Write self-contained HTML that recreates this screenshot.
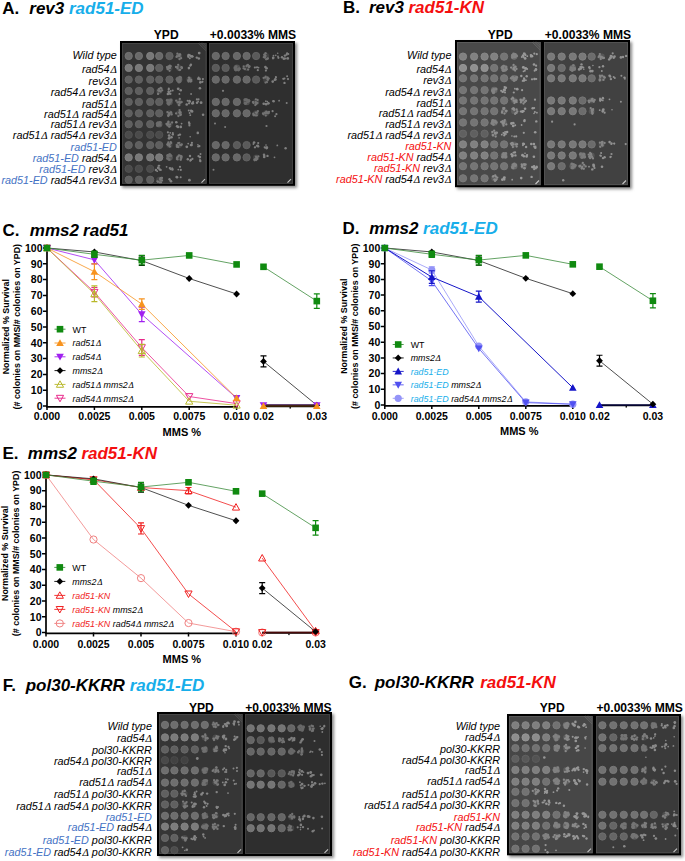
<!DOCTYPE html>
<html><head><meta charset="utf-8"><style>
html,body{margin:0;padding:0;background:#fff;}
body{width:685px;height:861px;overflow:hidden;}
svg{display:block;font-family:"Liberation Sans", sans-serif;}
</style></head><body>
<svg width="685" height="861" viewBox="0 0 685 861">
<defs><filter id="sh" x="-5%" y="-5%" width="110%" height="110%"><feGaussianBlur stdDeviation="1.4"/></filter><filter id="bl" x="-5%" y="-5%" width="110%" height="110%"><feGaussianBlur stdDeviation="0.5"/></filter></defs>
<rect width="685" height="861" fill="#fff"/>
<text x="2.20" y="14.20" font-size="17" font-weight="bold" text-anchor="start" ><tspan fill="#000" font-style="normal">A.</tspan></text>
<text x="29.30" y="14.20" font-size="17" font-weight="bold" text-anchor="start" ><tspan fill="#000" font-style="italic">rev3</tspan></text>
<text x="69.00" y="14.20" font-size="17" font-weight="bold" text-anchor="start" ><tspan fill="#17aeea" font-style="italic">rad51-ED</tspan></text>
<text x="166.20" y="38.90" font-size="12.1" font-weight="bold" text-anchor="middle" ><tspan fill="#000" font-style="normal">YPD</tspan></text>
<text x="253.00" y="39.40" font-size="12.1" font-weight="bold" text-anchor="middle" ><tspan fill="#000" font-style="normal">+0.0033% MMS</tspan></text>
<rect x="122" y="43" width="175" height="144.8" fill="#888" filter="url(#sh)"/>
<rect x="120" y="41" width="175" height="144.8" fill="#000"/>
<rect x="122" y="43" width="85" height="140.8" fill="#333333"/>
<rect x="209" y="43" width="84" height="140.8" fill="#2f2f2f"/>
<rect x="122.5" y="43.5" width="83.5" height="139.8" fill="none" stroke="#494949" stroke-width="0.8"/>
<rect x="209.5" y="43.5" width="83" height="139.8" fill="none" stroke="#454545" stroke-width="0.8"/>
<g filter="url(#bl)">
<circle cx="128.7" cy="56.0" r="3.6499999999999995" fill="#6b6b6b" stroke="#747474" stroke-width="0.9"/>
<circle cx="138.9" cy="56.0" r="3.6499999999999995" fill="#6b6b6b" stroke="#747474" stroke-width="0.9"/>
<circle cx="150.2" cy="56.0" r="3.6499999999999995" fill="#797979" stroke="#828282" stroke-width="0.9"/>
<circle cx="159.2" cy="56.0" r="3.6499999999999995" fill="#6b6b6b" stroke="#747474" stroke-width="0.9"/>
<circle cx="169.5" cy="56.0" r="3.6499999999999995" fill="#5e5e5e" stroke="#676767" stroke-width="0.9"/>
<circle cx="179.1" cy="56.0" r="3.0" fill="#474747"/><circle cx="181.1" cy="58.2" r="1.15" fill="#777777"/><circle cx="179.2" cy="54.6" r="1.15" fill="#777777"/><circle cx="177.1" cy="56.1" r="1.15" fill="#777777"/><circle cx="177.4" cy="53.7" r="1.15" fill="#777777"/><circle cx="179.4" cy="56.2" r="1.15" fill="#777777"/><circle cx="180.1" cy="54.3" r="1.15" fill="#777777"/><circle cx="179.1" cy="55.9" r="1.15" fill="#777777"/><circle cx="176.5" cy="56.9" r="1.15" fill="#777777"/><circle cx="179.5" cy="59.2" r="1.15" fill="#777777"/><circle cx="179.4" cy="55.8" r="1.15" fill="#777777"/>
<circle cx="191.8" cy="56.4" r="1.4" fill="#838383"/><circle cx="188.4" cy="56.9" r="1.1" fill="#838383"/><circle cx="190.7" cy="56.2" r="1.1" fill="#838383"/><circle cx="188.0" cy="56.0" r="0.9" fill="#838383"/><circle cx="189.8" cy="58.2" r="1.0" fill="#838383"/><circle cx="192.7" cy="56.5" r="1.1" fill="#838383"/><circle cx="188.7" cy="55.1" r="1.4" fill="#838383"/><circle cx="190.0" cy="55.3" r="1.0" fill="#838383"/>
<circle cx="199.2" cy="53.1" r="1.4" fill="#838383"/><circle cx="196.8" cy="57.6" r="1.2" fill="#838383"/><circle cx="198.8" cy="58.5" r="1.3" fill="#838383"/>
<circle cx="128.7" cy="67.9" r="3.6499999999999995" fill="#797979" stroke="#828282" stroke-width="0.9"/>
<circle cx="138.9" cy="67.9" r="3.6499999999999995" fill="#797979" stroke="#828282" stroke-width="0.9"/>
<circle cx="150.2" cy="67.9" r="3.6499999999999995" fill="#797979" stroke="#828282" stroke-width="0.9"/>
<circle cx="159.2" cy="67.9" r="3.6499999999999995" fill="#5e5e5e" stroke="#676767" stroke-width="0.9"/>
<circle cx="169.5" cy="67.9" r="3.0" fill="#474747"/><circle cx="170.7" cy="66.1" r="1.15" fill="#777777"/><circle cx="169.1" cy="67.7" r="1.15" fill="#777777"/><circle cx="169.6" cy="70.8" r="1.15" fill="#777777"/><circle cx="168.5" cy="68.5" r="1.15" fill="#777777"/><circle cx="167.0" cy="67.1" r="1.15" fill="#777777"/><circle cx="168.7" cy="66.3" r="1.15" fill="#777777"/><circle cx="167.5" cy="68.7" r="1.15" fill="#777777"/><circle cx="169.9" cy="65.7" r="1.15" fill="#777777"/><circle cx="167.8" cy="69.2" r="1.15" fill="#777777"/><circle cx="170.0" cy="68.0" r="1.15" fill="#777777"/>
<circle cx="179.1" cy="67.9" r="3.0" fill="#474747"/><circle cx="178.2" cy="64.8" r="1.15" fill="#777777"/><circle cx="177.5" cy="66.9" r="1.15" fill="#777777"/><circle cx="180.1" cy="69.8" r="1.15" fill="#777777"/><circle cx="181.9" cy="67.6" r="1.15" fill="#777777"/><circle cx="176.2" cy="67.2" r="1.15" fill="#777777"/><circle cx="179.3" cy="70.1" r="1.15" fill="#777777"/><circle cx="181.4" cy="67.2" r="1.15" fill="#777777"/><circle cx="177.6" cy="68.3" r="1.15" fill="#777777"/><circle cx="176.0" cy="66.9" r="1.15" fill="#777777"/><circle cx="181.9" cy="68.0" r="1.15" fill="#777777"/>
<circle cx="190.9" cy="64.7" r="1.2" fill="#838383"/><circle cx="190.3" cy="65.7" r="1.1" fill="#838383"/><circle cx="188.9" cy="68.1" r="1.3" fill="#838383"/>
<circle cx="128.7" cy="79.6" r="3.6499999999999995" fill="#5e5e5e" stroke="#676767" stroke-width="0.9"/>
<circle cx="138.9" cy="79.6" r="3.6499999999999995" fill="#5e5e5e" stroke="#676767" stroke-width="0.9"/>
<circle cx="150.2" cy="79.6" r="3.6499999999999995" fill="#5e5e5e" stroke="#676767" stroke-width="0.9"/>
<circle cx="159.2" cy="79.6" r="3.6499999999999995" fill="#5e5e5e" stroke="#676767" stroke-width="0.9"/>
<circle cx="169.5" cy="79.6" r="3.6499999999999995" fill="#5e5e5e" stroke="#676767" stroke-width="0.9"/>
<circle cx="179.1" cy="79.6" r="3.3" fill="#555555"/><circle cx="178.0" cy="79.1" r="1.4" fill="#6d6d6d"/><circle cx="177.2" cy="79.5" r="1.4" fill="#6d6d6d"/><circle cx="178.1" cy="80.9" r="1.4" fill="#6d6d6d"/><circle cx="177.0" cy="79.1" r="1.4" fill="#6d6d6d"/><circle cx="177.7" cy="78.4" r="1.4" fill="#6d6d6d"/><circle cx="180.4" cy="79.8" r="1.4" fill="#6d6d6d"/><circle cx="180.0" cy="81.5" r="1.4" fill="#6d6d6d"/><circle cx="180.7" cy="77.7" r="1.4" fill="#6d6d6d"/><circle cx="179.8" cy="77.2" r="1.4" fill="#6d6d6d"/><circle cx="179.0" cy="82.2" r="1.4" fill="#6d6d6d"/><circle cx="178.7" cy="78.9" r="1.4" fill="#6d6d6d"/>
<circle cx="189.4" cy="79.6" r="3.0" fill="#474747"/><circle cx="189.7" cy="79.6" r="1.15" fill="#777777"/><circle cx="189.5" cy="78.2" r="1.15" fill="#777777"/><circle cx="191.3" cy="81.2" r="1.15" fill="#777777"/><circle cx="189.0" cy="80.2" r="1.15" fill="#777777"/><circle cx="190.6" cy="81.5" r="1.15" fill="#777777"/><circle cx="190.1" cy="80.9" r="1.15" fill="#777777"/><circle cx="188.9" cy="77.6" r="1.15" fill="#777777"/><circle cx="188.5" cy="81.5" r="1.15" fill="#777777"/><circle cx="191.2" cy="79.9" r="1.15" fill="#777777"/><circle cx="188.3" cy="80.2" r="1.15" fill="#777777"/>
<circle cx="202.4" cy="81.8" r="1.1" fill="#838383"/><circle cx="200.4" cy="82.2" r="1.3" fill="#838383"/><circle cx="199.9" cy="79.6" r="0.9" fill="#838383"/><circle cx="199.5" cy="78.6" r="1.2" fill="#838383"/><circle cx="198.6" cy="77.4" r="0.9" fill="#838383"/><circle cx="202.9" cy="79.1" r="1.1" fill="#838383"/><circle cx="200.2" cy="82.4" r="1.0" fill="#838383"/><circle cx="198.2" cy="78.8" r="1.2" fill="#838383"/>
<circle cx="128.7" cy="90.9" r="3.6499999999999995" fill="#5e5e5e" stroke="#676767" stroke-width="0.9"/>
<circle cx="138.9" cy="90.9" r="3.6499999999999995" fill="#5e5e5e" stroke="#676767" stroke-width="0.9"/>
<circle cx="150.2" cy="90.9" r="3.6499999999999995" fill="#5e5e5e" stroke="#676767" stroke-width="0.9"/>
<circle cx="159.2" cy="90.9" r="3.0" fill="#474747"/><circle cx="160.7" cy="91.5" r="1.15" fill="#777777"/><circle cx="162.2" cy="90.3" r="1.15" fill="#777777"/><circle cx="158.2" cy="93.7" r="1.15" fill="#777777"/><circle cx="158.0" cy="93.9" r="1.15" fill="#777777"/><circle cx="159.1" cy="89.0" r="1.15" fill="#777777"/><circle cx="159.2" cy="91.1" r="1.15" fill="#777777"/><circle cx="159.5" cy="90.6" r="1.15" fill="#777777"/><circle cx="160.6" cy="88.0" r="1.15" fill="#777777"/><circle cx="158.2" cy="90.4" r="1.15" fill="#777777"/><circle cx="161.4" cy="88.5" r="1.15" fill="#777777"/>
<circle cx="168.8" cy="88.6" r="1.0" fill="#838383"/><circle cx="168.8" cy="91.9" r="1.2" fill="#838383"/><circle cx="168.4" cy="91.4" r="0.9" fill="#838383"/><circle cx="168.7" cy="89.5" r="1.1" fill="#838383"/><circle cx="167.9" cy="94.0" r="1.3" fill="#838383"/><circle cx="170.7" cy="91.0" r="1.0" fill="#838383"/><circle cx="172.7" cy="90.6" r="1.0" fill="#838383"/><circle cx="170.2" cy="93.7" r="1.3" fill="#838383"/>
<circle cx="180.7" cy="90.2" r="1.3" fill="#838383"/><circle cx="178.2" cy="88.8" r="1.4" fill="#838383"/><circle cx="179.4" cy="93.9" r="0.9" fill="#838383"/>
<circle cx="191.1" cy="94.0" r="0.9" fill="#838383"/>
<circle cx="199.9" cy="88.2" r="1.3" fill="#838383"/>
<circle cx="128.7" cy="101.9" r="3.6499999999999995" fill="#5e5e5e" stroke="#676767" stroke-width="0.9"/>
<circle cx="138.9" cy="101.9" r="3.6499999999999995" fill="#5e5e5e" stroke="#676767" stroke-width="0.9"/>
<circle cx="150.2" cy="101.9" r="3.6499999999999995" fill="#5e5e5e" stroke="#676767" stroke-width="0.9"/>
<circle cx="159.2" cy="101.9" r="3.6499999999999995" fill="#5e5e5e" stroke="#676767" stroke-width="0.9"/>
<circle cx="169.5" cy="101.9" r="3.3" fill="#555555"/><circle cx="168.4" cy="103.1" r="1.4" fill="#6d6d6d"/><circle cx="168.8" cy="104.4" r="1.4" fill="#6d6d6d"/><circle cx="167.3" cy="100.2" r="1.4" fill="#6d6d6d"/><circle cx="170.3" cy="101.2" r="1.4" fill="#6d6d6d"/><circle cx="168.6" cy="101.6" r="1.4" fill="#6d6d6d"/><circle cx="170.2" cy="102.1" r="1.4" fill="#6d6d6d"/><circle cx="171.2" cy="100.0" r="1.4" fill="#6d6d6d"/><circle cx="170.3" cy="100.5" r="1.4" fill="#6d6d6d"/><circle cx="167.6" cy="100.3" r="1.4" fill="#6d6d6d"/><circle cx="168.0" cy="103.4" r="1.4" fill="#6d6d6d"/><circle cx="169.6" cy="102.7" r="1.4" fill="#6d6d6d"/>
<circle cx="179.1" cy="101.9" r="3.0" fill="#474747"/><circle cx="178.8" cy="105.0" r="1.15" fill="#777777"/><circle cx="176.2" cy="100.7" r="1.15" fill="#777777"/><circle cx="177.6" cy="102.3" r="1.15" fill="#777777"/><circle cx="179.8" cy="99.0" r="1.15" fill="#777777"/><circle cx="181.7" cy="102.1" r="1.15" fill="#777777"/><circle cx="179.9" cy="102.4" r="1.15" fill="#777777"/><circle cx="179.5" cy="101.6" r="1.15" fill="#777777"/><circle cx="179.3" cy="105.2" r="1.15" fill="#777777"/><circle cx="178.3" cy="102.3" r="1.15" fill="#777777"/><circle cx="179.8" cy="103.1" r="1.15" fill="#777777"/>
<circle cx="189.4" cy="101.1" r="1.3" fill="#838383"/><circle cx="186.7" cy="104.5" r="1.3" fill="#838383"/><circle cx="189.0" cy="103.3" r="1.1" fill="#838383"/><circle cx="191.7" cy="103.6" r="0.8" fill="#838383"/><circle cx="193.1" cy="102.1" r="1.0" fill="#838383"/><circle cx="187.6" cy="100.7" r="1.0" fill="#838383"/><circle cx="192.7" cy="103.3" r="1.4" fill="#838383"/><circle cx="190.2" cy="101.7" r="0.9" fill="#838383"/>
<circle cx="196.9" cy="99.4" r="1.1" fill="#838383"/><circle cx="198.6" cy="99.3" r="1.0" fill="#838383"/><circle cx="198.1" cy="101.5" r="0.9" fill="#838383"/><circle cx="201.1" cy="102.7" r="1.4" fill="#838383"/><circle cx="197.0" cy="102.8" r="1.2" fill="#838383"/>
<circle cx="128.7" cy="113.3" r="3.6499999999999995" fill="#5e5e5e" stroke="#676767" stroke-width="0.9"/>
<circle cx="138.9" cy="113.3" r="3.6499999999999995" fill="#5e5e5e" stroke="#676767" stroke-width="0.9"/>
<circle cx="150.2" cy="113.3" r="3.6499999999999995" fill="#5e5e5e" stroke="#676767" stroke-width="0.9"/>
<circle cx="159.2" cy="113.3" r="3.6499999999999995" fill="#5e5e5e" stroke="#676767" stroke-width="0.9"/>
<circle cx="169.5" cy="113.3" r="3.0" fill="#474747"/><circle cx="171.2" cy="112.6" r="1.15" fill="#777777"/><circle cx="168.9" cy="114.9" r="1.15" fill="#777777"/><circle cx="168.3" cy="116.0" r="1.15" fill="#777777"/><circle cx="170.8" cy="112.3" r="1.15" fill="#777777"/><circle cx="168.3" cy="115.3" r="1.15" fill="#777777"/><circle cx="167.4" cy="112.1" r="1.15" fill="#777777"/><circle cx="169.5" cy="113.6" r="1.15" fill="#777777"/><circle cx="169.5" cy="114.0" r="1.15" fill="#777777"/><circle cx="168.9" cy="113.1" r="1.15" fill="#777777"/><circle cx="171.7" cy="114.4" r="1.15" fill="#777777"/>
<circle cx="179.1" cy="113.3" r="3.0" fill="#474747"/><circle cx="178.4" cy="116.1" r="1.15" fill="#777777"/><circle cx="176.1" cy="113.4" r="1.15" fill="#777777"/><circle cx="180.3" cy="115.1" r="1.15" fill="#777777"/><circle cx="179.3" cy="112.6" r="1.15" fill="#777777"/><circle cx="180.2" cy="112.9" r="1.15" fill="#777777"/><circle cx="179.6" cy="110.1" r="1.15" fill="#777777"/><circle cx="179.8" cy="111.8" r="1.15" fill="#777777"/><circle cx="180.8" cy="114.7" r="1.15" fill="#777777"/><circle cx="180.5" cy="112.5" r="1.15" fill="#777777"/><circle cx="179.9" cy="112.7" r="1.15" fill="#777777"/>
<circle cx="189.7" cy="113.1" r="1.0" fill="#838383"/><circle cx="192.1" cy="111.4" r="1.3" fill="#838383"/><circle cx="191.1" cy="110.7" r="1.2" fill="#838383"/><circle cx="190.3" cy="115.2" r="0.9" fill="#838383"/><circle cx="188.8" cy="110.5" r="1.0" fill="#838383"/>
<circle cx="203.1" cy="114.8" r="1.3" fill="#838383"/>
<circle cx="128.7" cy="124.2" r="3.6499999999999995" fill="#5e5e5e" stroke="#676767" stroke-width="0.9"/>
<circle cx="138.9" cy="124.2" r="3.6499999999999995" fill="#5e5e5e" stroke="#676767" stroke-width="0.9"/>
<circle cx="150.2" cy="124.2" r="3.6499999999999995" fill="#5e5e5e" stroke="#676767" stroke-width="0.9"/>
<circle cx="159.2" cy="124.2" r="3.3" fill="#555555"/><circle cx="157.2" cy="123.6" r="1.4" fill="#6d6d6d"/><circle cx="160.3" cy="122.7" r="1.4" fill="#6d6d6d"/><circle cx="157.9" cy="125.2" r="1.4" fill="#6d6d6d"/><circle cx="159.2" cy="124.6" r="1.4" fill="#6d6d6d"/><circle cx="158.1" cy="122.8" r="1.4" fill="#6d6d6d"/><circle cx="158.6" cy="123.9" r="1.4" fill="#6d6d6d"/><circle cx="158.6" cy="125.0" r="1.4" fill="#6d6d6d"/><circle cx="160.2" cy="125.2" r="1.4" fill="#6d6d6d"/><circle cx="160.0" cy="122.6" r="1.4" fill="#6d6d6d"/><circle cx="157.4" cy="125.5" r="1.4" fill="#6d6d6d"/><circle cx="159.2" cy="124.4" r="1.4" fill="#6d6d6d"/>
<circle cx="169.5" cy="124.2" r="3.0" fill="#474747"/><circle cx="167.4" cy="123.8" r="1.15" fill="#777777"/><circle cx="168.3" cy="122.6" r="1.15" fill="#777777"/><circle cx="168.4" cy="121.7" r="1.15" fill="#777777"/><circle cx="169.7" cy="126.4" r="1.15" fill="#777777"/><circle cx="168.2" cy="124.4" r="1.15" fill="#777777"/><circle cx="167.5" cy="125.4" r="1.15" fill="#777777"/><circle cx="172.1" cy="122.5" r="1.15" fill="#777777"/><circle cx="169.1" cy="126.7" r="1.15" fill="#777777"/><circle cx="170.1" cy="124.4" r="1.15" fill="#777777"/><circle cx="166.5" cy="124.0" r="1.15" fill="#777777"/>
<circle cx="180.8" cy="126.9" r="1.3" fill="#838383"/><circle cx="178.0" cy="126.9" r="1.3" fill="#838383"/><circle cx="177.0" cy="126.3" r="1.2" fill="#838383"/><circle cx="176.3" cy="122.3" r="1.3" fill="#838383"/><circle cx="181.6" cy="123.6" r="0.9" fill="#838383"/>
<circle cx="189.4" cy="125.5" r="1.1" fill="#838383"/><circle cx="189.4" cy="123.7" r="1.2" fill="#838383"/><circle cx="189.0" cy="122.4" r="1.1" fill="#838383"/>
<circle cx="128.7" cy="134.8" r="3.6499999999999995" fill="#4b4b4b" stroke="#545454" stroke-width="0.9"/>
<circle cx="138.9" cy="134.8" r="3.6499999999999995" fill="#4b4b4b" stroke="#545454" stroke-width="0.9"/>
<circle cx="150.2" cy="134.8" r="3.6499999999999995" fill="#4b4b4b" stroke="#545454" stroke-width="0.9"/>
<circle cx="159.2" cy="134.8" r="3.6499999999999995" fill="#4b4b4b" stroke="#545454" stroke-width="0.9"/>
<circle cx="171.1" cy="137.4" r="0.8" fill="#838383"/><circle cx="172.8" cy="134.4" r="1.2" fill="#838383"/><circle cx="169.1" cy="138.3" r="1.4" fill="#838383"/><circle cx="171.5" cy="137.2" r="1.3" fill="#838383"/><circle cx="167.9" cy="132.3" r="1.1" fill="#838383"/><circle cx="172.8" cy="133.1" r="1.0" fill="#838383"/><circle cx="170.2" cy="132.8" r="0.9" fill="#838383"/><circle cx="169.1" cy="135.6" r="1.3" fill="#838383"/>
<circle cx="179.9" cy="134.6" r="1.2" fill="#838383"/><circle cx="178.4" cy="135.3" r="1.0" fill="#838383"/><circle cx="179.1" cy="137.9" r="0.8" fill="#838383"/>
<circle cx="190.2" cy="136.8" r="0.8" fill="#838383"/>
<circle cx="197.8" cy="132.9" r="1.3" fill="#838383"/>
<circle cx="128.7" cy="145.1" r="3.6499999999999995" fill="#5e5e5e" stroke="#676767" stroke-width="0.9"/>
<circle cx="138.9" cy="145.1" r="3.6499999999999995" fill="#5e5e5e" stroke="#676767" stroke-width="0.9"/>
<circle cx="150.2" cy="145.1" r="3.6499999999999995" fill="#5e5e5e" stroke="#676767" stroke-width="0.9"/>
<circle cx="159.2" cy="145.1" r="3.6499999999999995" fill="#5e5e5e" stroke="#676767" stroke-width="0.9"/>
<circle cx="169.5" cy="145.1" r="3.0" fill="#474747"/><circle cx="169.9" cy="146.6" r="1.15" fill="#777777"/><circle cx="168.0" cy="144.7" r="1.15" fill="#777777"/><circle cx="168.3" cy="144.4" r="1.15" fill="#777777"/><circle cx="168.3" cy="142.5" r="1.15" fill="#777777"/><circle cx="170.7" cy="142.1" r="1.15" fill="#777777"/><circle cx="167.4" cy="144.5" r="1.15" fill="#777777"/><circle cx="171.2" cy="142.9" r="1.15" fill="#777777"/><circle cx="167.8" cy="144.3" r="1.15" fill="#777777"/><circle cx="169.3" cy="145.9" r="1.15" fill="#777777"/><circle cx="169.8" cy="144.2" r="1.15" fill="#777777"/>
<circle cx="179.1" cy="145.1" r="3.0" fill="#474747"/><circle cx="179.1" cy="142.8" r="1.15" fill="#777777"/><circle cx="181.8" cy="144.5" r="1.15" fill="#777777"/><circle cx="180.1" cy="144.9" r="1.15" fill="#777777"/><circle cx="176.7" cy="145.1" r="1.15" fill="#777777"/><circle cx="178.3" cy="147.1" r="1.15" fill="#777777"/><circle cx="177.7" cy="146.9" r="1.15" fill="#777777"/><circle cx="181.1" cy="145.1" r="1.15" fill="#777777"/><circle cx="177.6" cy="145.6" r="1.15" fill="#777777"/><circle cx="176.8" cy="146.8" r="1.15" fill="#777777"/><circle cx="178.2" cy="143.1" r="1.15" fill="#777777"/>
<circle cx="188.2" cy="143.6" r="0.9" fill="#838383"/><circle cx="190.9" cy="145.1" r="1.2" fill="#838383"/><circle cx="191.9" cy="142.8" r="1.1" fill="#838383"/><circle cx="191.6" cy="144.9" r="1.3" fill="#838383"/><circle cx="186.8" cy="146.8" r="1.4" fill="#838383"/>
<circle cx="199.3" cy="146.1" r="1.2" fill="#838383"/><circle cx="197.9" cy="144.7" r="0.8" fill="#838383"/><circle cx="198.1" cy="146.4" r="1.0" fill="#838383"/>
<circle cx="128.7" cy="157.4" r="3.6499999999999995" fill="#797979" stroke="#828282" stroke-width="0.9"/>
<circle cx="138.9" cy="157.4" r="3.6499999999999995" fill="#797979" stroke="#828282" stroke-width="0.9"/>
<circle cx="150.2" cy="157.4" r="3.6499999999999995" fill="#797979" stroke="#828282" stroke-width="0.9"/>
<circle cx="159.2" cy="157.4" r="3.6499999999999995" fill="#797979" stroke="#828282" stroke-width="0.9"/>
<circle cx="169.5" cy="157.4" r="3.3" fill="#555555"/><circle cx="170.9" cy="155.8" r="1.4" fill="#6d6d6d"/><circle cx="169.2" cy="154.8" r="1.4" fill="#6d6d6d"/><circle cx="169.5" cy="155.4" r="1.4" fill="#6d6d6d"/><circle cx="169.4" cy="155.2" r="1.4" fill="#6d6d6d"/><circle cx="168.2" cy="155.6" r="1.4" fill="#6d6d6d"/><circle cx="167.6" cy="158.6" r="1.4" fill="#6d6d6d"/><circle cx="167.7" cy="155.4" r="1.4" fill="#6d6d6d"/><circle cx="170.0" cy="154.9" r="1.4" fill="#6d6d6d"/><circle cx="169.8" cy="154.9" r="1.4" fill="#6d6d6d"/><circle cx="168.2" cy="156.4" r="1.4" fill="#6d6d6d"/><circle cx="169.3" cy="159.7" r="1.4" fill="#6d6d6d"/>
<circle cx="179.1" cy="157.4" r="3.0" fill="#474747"/><circle cx="180.7" cy="155.8" r="1.15" fill="#777777"/><circle cx="180.8" cy="159.8" r="1.15" fill="#777777"/><circle cx="177.0" cy="157.6" r="1.15" fill="#777777"/><circle cx="181.2" cy="158.0" r="1.15" fill="#777777"/><circle cx="179.0" cy="155.4" r="1.15" fill="#777777"/><circle cx="177.5" cy="159.4" r="1.15" fill="#777777"/><circle cx="181.3" cy="157.7" r="1.15" fill="#777777"/><circle cx="181.6" cy="156.5" r="1.15" fill="#777777"/><circle cx="176.9" cy="158.9" r="1.15" fill="#777777"/><circle cx="178.1" cy="156.6" r="1.15" fill="#777777"/>
<circle cx="190.3" cy="160.8" r="1.0" fill="#838383"/><circle cx="192.4" cy="158.9" r="1.1" fill="#838383"/><circle cx="187.8" cy="159.2" r="1.2" fill="#838383"/><circle cx="190.8" cy="159.9" r="1.2" fill="#838383"/><circle cx="190.0" cy="156.0" r="1.2" fill="#838383"/>
<circle cx="200.0" cy="159.9" r="0.9" fill="#838383"/><circle cx="200.5" cy="154.1" r="1.0" fill="#838383"/><circle cx="200.3" cy="161.0" r="1.2" fill="#838383"/><circle cx="199.9" cy="157.1" r="1.3" fill="#838383"/><circle cx="198.5" cy="156.2" r="1.1" fill="#838383"/>
<circle cx="128.7" cy="168.8" r="3.6499999999999995" fill="#4b4b4b" stroke="#545454" stroke-width="0.9"/>
<circle cx="138.9" cy="168.8" r="3.6499999999999995" fill="#4b4b4b" stroke="#545454" stroke-width="0.9"/>
<circle cx="150.2" cy="168.8" r="3.6499999999999995" fill="#4b4b4b" stroke="#545454" stroke-width="0.9"/>
<circle cx="159.4" cy="165.6" r="0.9" fill="#838383"/><circle cx="158.4" cy="168.0" r="1.4" fill="#838383"/><circle cx="155.9" cy="170.0" r="1.2" fill="#838383"/><circle cx="158.0" cy="167.9" r="1.1" fill="#838383"/><circle cx="159.8" cy="169.5" r="1.2" fill="#838383"/><circle cx="157.2" cy="171.2" r="0.9" fill="#838383"/><circle cx="158.6" cy="165.8" r="1.0" fill="#838383"/><circle cx="160.8" cy="170.0" r="1.1" fill="#838383"/>
<circle cx="170.4" cy="169.5" r="0.8" fill="#838383"/><circle cx="166.6" cy="166.8" r="0.9" fill="#838383"/><circle cx="172.4" cy="169.4" r="1.3" fill="#838383"/><circle cx="172.1" cy="168.2" r="1.0" fill="#838383"/><circle cx="169.9" cy="168.1" r="1.2" fill="#838383"/>
<circle cx="180.8" cy="169.9" r="1.1" fill="#838383"/><circle cx="178.3" cy="169.6" r="0.9" fill="#838383"/><circle cx="180.0" cy="166.8" r="1.1" fill="#838383"/>
<circle cx="128.7" cy="179.7" r="3.6499999999999995" fill="#5e5e5e" stroke="#676767" stroke-width="0.9"/>
<circle cx="138.9" cy="179.7" r="3.6499999999999995" fill="#5e5e5e" stroke="#676767" stroke-width="0.9"/>
<circle cx="150.2" cy="179.7" r="3.6499999999999995" fill="#5e5e5e" stroke="#676767" stroke-width="0.9"/>
<circle cx="159.2" cy="179.7" r="3.0" fill="#474747"/><circle cx="159.8" cy="182.3" r="1.15" fill="#777777"/><circle cx="158.0" cy="181.8" r="1.15" fill="#777777"/><circle cx="162.0" cy="177.9" r="1.15" fill="#777777"/><circle cx="162.0" cy="180.5" r="1.15" fill="#777777"/><circle cx="160.2" cy="178.4" r="1.15" fill="#777777"/><circle cx="157.4" cy="181.3" r="1.15" fill="#777777"/><circle cx="160.9" cy="178.8" r="1.15" fill="#777777"/><circle cx="161.2" cy="177.8" r="1.15" fill="#777777"/><circle cx="161.0" cy="182.3" r="1.15" fill="#777777"/><circle cx="160.2" cy="179.8" r="1.15" fill="#777777"/>
<circle cx="169.2" cy="179.3" r="1.0" fill="#838383"/><circle cx="171.0" cy="181.3" r="1.3" fill="#838383"/><circle cx="169.8" cy="179.5" r="0.8" fill="#838383"/><circle cx="169.7" cy="179.3" r="1.0" fill="#838383"/><circle cx="170.0" cy="180.2" r="0.8" fill="#838383"/>
<circle cx="177.1" cy="177.3" r="1.2" fill="#838383"/><circle cx="180.7" cy="177.3" r="1.0" fill="#838383"/><circle cx="176.6" cy="177.0" r="1.2" fill="#838383"/>
<circle cx="189.4" cy="180.2" r="1.4" fill="#838383"/>
<circle cx="215.8" cy="56.0" r="3.6499999999999995" fill="#676767" stroke="#707070" stroke-width="0.9"/>
<circle cx="225.6" cy="56.0" r="3.6499999999999995" fill="#676767" stroke="#707070" stroke-width="0.9"/>
<circle cx="236.9" cy="56.0" r="3.6499999999999995" fill="#676767" stroke="#707070" stroke-width="0.9"/>
<circle cx="246.6" cy="56.0" r="3.6499999999999995" fill="#676767" stroke="#707070" stroke-width="0.9"/>
<circle cx="256.1" cy="56.0" r="3.6499999999999995" fill="#5a5a5a" stroke="#636363" stroke-width="0.9"/>
<circle cx="266.1" cy="56.0" r="3.0" fill="#434343"/><circle cx="264.6" cy="55.1" r="1.15" fill="#737373"/><circle cx="264.3" cy="54.6" r="1.15" fill="#737373"/><circle cx="265.5" cy="55.9" r="1.15" fill="#737373"/><circle cx="264.9" cy="57.5" r="1.15" fill="#737373"/><circle cx="267.1" cy="58.9" r="1.15" fill="#737373"/><circle cx="263.8" cy="57.2" r="1.15" fill="#737373"/><circle cx="265.5" cy="53.3" r="1.15" fill="#737373"/><circle cx="265.6" cy="53.3" r="1.15" fill="#737373"/><circle cx="266.1" cy="59.3" r="1.15" fill="#737373"/><circle cx="267.9" cy="58.5" r="1.15" fill="#737373"/>
<circle cx="277.7" cy="53.3" r="0.8" fill="#7f7f7f"/><circle cx="278.4" cy="57.8" r="1.1" fill="#7f7f7f"/><circle cx="273.0" cy="58.7" r="0.8" fill="#7f7f7f"/><circle cx="273.5" cy="55.6" r="0.9" fill="#7f7f7f"/><circle cx="273.2" cy="57.8" r="1.3" fill="#7f7f7f"/><circle cx="278.0" cy="56.4" r="0.9" fill="#7f7f7f"/><circle cx="275.8" cy="55.4" r="0.8" fill="#7f7f7f"/><circle cx="273.3" cy="58.0" r="1.0" fill="#7f7f7f"/>
<circle cx="287.8" cy="58.4" r="1.3" fill="#7f7f7f"/><circle cx="286.6" cy="54.7" r="1.1" fill="#7f7f7f"/><circle cx="285.7" cy="58.5" r="1.0" fill="#7f7f7f"/><circle cx="283.9" cy="58.7" r="1.4" fill="#7f7f7f"/><circle cx="284.9" cy="55.6" r="1.2" fill="#7f7f7f"/><circle cx="282.0" cy="57.2" r="1.2" fill="#7f7f7f"/><circle cx="287.1" cy="53.4" r="1.1" fill="#7f7f7f"/><circle cx="288.3" cy="54.0" r="1.0" fill="#7f7f7f"/>
<circle cx="215.8" cy="67.9" r="3.6499999999999995" fill="#5a5a5a" stroke="#636363" stroke-width="0.9"/>
<circle cx="225.6" cy="67.9" r="3.6499999999999995" fill="#5a5a5a" stroke="#636363" stroke-width="0.9"/>
<circle cx="236.9" cy="67.9" r="3.3" fill="#515151"/><circle cx="237.8" cy="69.3" r="1.4" fill="#696969"/><circle cx="236.0" cy="67.8" r="1.4" fill="#696969"/><circle cx="235.7" cy="69.7" r="1.4" fill="#696969"/><circle cx="239.3" cy="68.6" r="1.4" fill="#696969"/><circle cx="236.0" cy="66.6" r="1.4" fill="#696969"/><circle cx="236.4" cy="69.5" r="1.4" fill="#696969"/><circle cx="235.8" cy="70.1" r="1.4" fill="#696969"/><circle cx="234.9" cy="67.9" r="1.4" fill="#696969"/><circle cx="238.5" cy="70.1" r="1.4" fill="#696969"/><circle cx="236.2" cy="69.3" r="1.4" fill="#696969"/><circle cx="239.4" cy="69.1" r="1.4" fill="#696969"/>
<circle cx="246.6" cy="67.9" r="3.0" fill="#434343"/><circle cx="243.5" cy="68.3" r="1.15" fill="#737373"/><circle cx="249.5" cy="66.5" r="1.15" fill="#737373"/><circle cx="247.9" cy="65.0" r="1.15" fill="#737373"/><circle cx="249.2" cy="66.5" r="1.15" fill="#737373"/><circle cx="248.1" cy="69.6" r="1.15" fill="#737373"/><circle cx="243.7" cy="66.4" r="1.15" fill="#737373"/><circle cx="247.2" cy="65.3" r="1.15" fill="#737373"/><circle cx="246.6" cy="66.1" r="1.15" fill="#737373"/><circle cx="249.0" cy="67.0" r="1.15" fill="#737373"/><circle cx="244.9" cy="69.1" r="1.15" fill="#737373"/>
<circle cx="258.5" cy="67.6" r="0.9" fill="#7f7f7f"/><circle cx="257.8" cy="70.2" r="1.1" fill="#7f7f7f"/><circle cx="257.1" cy="67.3" r="1.0" fill="#7f7f7f"/><circle cx="256.0" cy="67.4" r="0.9" fill="#7f7f7f"/><circle cx="254.7" cy="67.5" r="0.9" fill="#7f7f7f"/>
<circle cx="265.9" cy="70.6" r="1.1" fill="#7f7f7f"/><circle cx="266.6" cy="68.2" r="1.3" fill="#7f7f7f"/><circle cx="265.4" cy="67.0" r="1.3" fill="#7f7f7f"/>
<circle cx="215.8" cy="79.6" r="3.6499999999999995" fill="#676767" stroke="#707070" stroke-width="0.9"/>
<circle cx="225.6" cy="79.6" r="3.6499999999999995" fill="#676767" stroke="#707070" stroke-width="0.9"/>
<circle cx="236.9" cy="79.6" r="3.6499999999999995" fill="#676767" stroke="#707070" stroke-width="0.9"/>
<circle cx="246.6" cy="79.6" r="3.6499999999999995" fill="#676767" stroke="#707070" stroke-width="0.9"/>
<circle cx="256.1" cy="79.6" r="3.6499999999999995" fill="#5a5a5a" stroke="#636363" stroke-width="0.9"/>
<circle cx="266.1" cy="79.6" r="3.0" fill="#434343"/><circle cx="267.9" cy="79.8" r="1.15" fill="#737373"/><circle cx="267.6" cy="77.4" r="1.15" fill="#737373"/><circle cx="265.5" cy="82.6" r="1.15" fill="#737373"/><circle cx="263.6" cy="77.9" r="1.15" fill="#737373"/><circle cx="267.6" cy="78.4" r="1.15" fill="#737373"/><circle cx="265.1" cy="77.6" r="1.15" fill="#737373"/><circle cx="268.8" cy="78.6" r="1.15" fill="#737373"/><circle cx="265.7" cy="76.7" r="1.15" fill="#737373"/><circle cx="267.6" cy="79.6" r="1.15" fill="#737373"/><circle cx="266.9" cy="82.2" r="1.15" fill="#737373"/>
<circle cx="275.9" cy="77.2" r="1.1" fill="#7f7f7f"/><circle cx="272.7" cy="81.6" r="1.3" fill="#7f7f7f"/><circle cx="275.3" cy="79.4" r="1.3" fill="#7f7f7f"/><circle cx="274.5" cy="79.9" r="1.0" fill="#7f7f7f"/><circle cx="275.6" cy="79.5" r="0.9" fill="#7f7f7f"/>
<circle cx="284.5" cy="82.9" r="1.2" fill="#7f7f7f"/><circle cx="288.0" cy="79.1" r="1.1" fill="#7f7f7f"/><circle cx="283.3" cy="78.8" r="1.1" fill="#7f7f7f"/><circle cx="287.1" cy="76.3" r="1.0" fill="#7f7f7f"/><circle cx="284.5" cy="78.4" r="1.0" fill="#7f7f7f"/>
<circle cx="223.0" cy="90.8" r="1.1" fill="#7f7f7f"/>
<circle cx="215.8" cy="101.9" r="3.6499999999999995" fill="#676767" stroke="#707070" stroke-width="0.9"/>
<circle cx="225.6" cy="101.9" r="3.6499999999999995" fill="#676767" stroke="#707070" stroke-width="0.9"/>
<circle cx="236.9" cy="101.9" r="3.6499999999999995" fill="#676767" stroke="#707070" stroke-width="0.9"/>
<circle cx="246.6" cy="101.9" r="3.3" fill="#515151"/><circle cx="247.7" cy="101.7" r="1.4" fill="#696969"/><circle cx="244.8" cy="99.8" r="1.4" fill="#696969"/><circle cx="246.4" cy="99.8" r="1.4" fill="#696969"/><circle cx="245.4" cy="103.2" r="1.4" fill="#696969"/><circle cx="249.0" cy="100.9" r="1.4" fill="#696969"/><circle cx="245.3" cy="99.6" r="1.4" fill="#696969"/><circle cx="248.9" cy="100.7" r="1.4" fill="#696969"/><circle cx="245.2" cy="103.2" r="1.4" fill="#696969"/><circle cx="247.1" cy="100.3" r="1.4" fill="#696969"/><circle cx="246.6" cy="100.0" r="1.4" fill="#696969"/><circle cx="245.6" cy="103.5" r="1.4" fill="#696969"/>
<circle cx="256.1" cy="101.9" r="3.0" fill="#434343"/><circle cx="257.4" cy="103.1" r="1.15" fill="#737373"/><circle cx="255.8" cy="102.1" r="1.15" fill="#737373"/><circle cx="256.8" cy="103.2" r="1.15" fill="#737373"/><circle cx="257.6" cy="100.0" r="1.15" fill="#737373"/><circle cx="255.3" cy="105.1" r="1.15" fill="#737373"/><circle cx="256.0" cy="104.1" r="1.15" fill="#737373"/><circle cx="255.9" cy="99.3" r="1.15" fill="#737373"/><circle cx="253.5" cy="103.1" r="1.15" fill="#737373"/><circle cx="253.4" cy="102.1" r="1.15" fill="#737373"/><circle cx="252.9" cy="102.1" r="1.15" fill="#737373"/>
<circle cx="265.9" cy="101.2" r="0.9" fill="#7f7f7f"/><circle cx="267.4" cy="101.6" r="0.8" fill="#7f7f7f"/><circle cx="266.1" cy="104.2" r="1.4" fill="#7f7f7f"/><circle cx="263.7" cy="103.7" r="1.3" fill="#7f7f7f"/><circle cx="268.4" cy="103.3" r="1.4" fill="#7f7f7f"/>
<circle cx="273.3" cy="101.1" r="1.0" fill="#7f7f7f"/><circle cx="279.1" cy="100.7" r="0.9" fill="#7f7f7f"/><circle cx="273.6" cy="101.2" r="1.2" fill="#7f7f7f"/>
<circle cx="286.7" cy="102.9" r="1.0" fill="#7f7f7f"/>
<circle cx="215.8" cy="113.3" r="3.6499999999999995" fill="#676767" stroke="#707070" stroke-width="0.9"/>
<circle cx="225.6" cy="113.3" r="3.6499999999999995" fill="#676767" stroke="#707070" stroke-width="0.9"/>
<circle cx="236.9" cy="113.3" r="3.6499999999999995" fill="#676767" stroke="#707070" stroke-width="0.9"/>
<circle cx="246.6" cy="113.3" r="3.6499999999999995" fill="#676767" stroke="#707070" stroke-width="0.9"/>
<circle cx="256.1" cy="113.3" r="3.0" fill="#434343"/><circle cx="253.3" cy="113.7" r="1.15" fill="#737373"/><circle cx="257.9" cy="111.1" r="1.15" fill="#737373"/><circle cx="255.8" cy="112.6" r="1.15" fill="#737373"/><circle cx="254.1" cy="115.0" r="1.15" fill="#737373"/><circle cx="255.5" cy="115.4" r="1.15" fill="#737373"/><circle cx="256.9" cy="112.8" r="1.15" fill="#737373"/><circle cx="256.6" cy="112.6" r="1.15" fill="#737373"/><circle cx="253.8" cy="115.3" r="1.15" fill="#737373"/><circle cx="256.8" cy="115.4" r="1.15" fill="#737373"/><circle cx="253.4" cy="114.8" r="1.15" fill="#737373"/>
<circle cx="266.1" cy="113.3" r="3.0" fill="#434343"/><circle cx="267.7" cy="113.2" r="1.15" fill="#737373"/><circle cx="263.0" cy="113.4" r="1.15" fill="#737373"/><circle cx="264.8" cy="112.9" r="1.15" fill="#737373"/><circle cx="266.2" cy="111.6" r="1.15" fill="#737373"/><circle cx="265.9" cy="113.3" r="1.15" fill="#737373"/><circle cx="268.7" cy="113.1" r="1.15" fill="#737373"/><circle cx="269.0" cy="111.8" r="1.15" fill="#737373"/><circle cx="265.8" cy="115.6" r="1.15" fill="#737373"/><circle cx="263.5" cy="114.3" r="1.15" fill="#737373"/><circle cx="266.8" cy="112.2" r="1.15" fill="#737373"/>
<circle cx="275.1" cy="116.2" r="1.0" fill="#7f7f7f"/><circle cx="276.4" cy="114.2" r="1.1" fill="#7f7f7f"/><circle cx="272.6" cy="111.2" r="1.1" fill="#7f7f7f"/>
<circle cx="215.0" cy="123.6" r="1.0" fill="#7f7f7f"/>
<circle cx="225.1" cy="127.1" r="1.0" fill="#7f7f7f"/>
<circle cx="266.5" cy="126.0" r="1.1" fill="#7f7f7f"/>
<circle cx="215.8" cy="145.1" r="3.6499999999999995" fill="#676767" stroke="#707070" stroke-width="0.9"/>
<circle cx="225.6" cy="145.1" r="3.6499999999999995" fill="#676767" stroke="#707070" stroke-width="0.9"/>
<circle cx="236.9" cy="145.1" r="3.6499999999999995" fill="#5a5a5a" stroke="#636363" stroke-width="0.9"/>
<circle cx="246.6" cy="145.1" r="3.6499999999999995" fill="#5a5a5a" stroke="#636363" stroke-width="0.9"/>
<circle cx="254.7" cy="147.4" r="0.9" fill="#7f7f7f"/><circle cx="258.2" cy="143.1" r="1.1" fill="#7f7f7f"/><circle cx="257.7" cy="145.7" r="1.2" fill="#7f7f7f"/><circle cx="254.1" cy="142.5" r="1.3" fill="#7f7f7f"/><circle cx="255.2" cy="147.2" r="1.0" fill="#7f7f7f"/><circle cx="256.8" cy="145.8" r="1.0" fill="#7f7f7f"/><circle cx="258.2" cy="146.4" r="1.2" fill="#7f7f7f"/><circle cx="253.4" cy="144.0" r="0.9" fill="#7f7f7f"/>
<circle cx="266.9" cy="147.5" r="1.3" fill="#7f7f7f"/><circle cx="266.0" cy="145.1" r="0.8" fill="#7f7f7f"/><circle cx="265.2" cy="147.6" r="0.9" fill="#7f7f7f"/><circle cx="266.6" cy="148.0" r="1.4" fill="#7f7f7f"/><circle cx="264.7" cy="147.3" r="1.1" fill="#7f7f7f"/>
<circle cx="277.3" cy="145.4" r="0.9" fill="#7f7f7f"/>
<circle cx="285.6" cy="148.3" r="1.2" fill="#7f7f7f"/>
<circle cx="215.8" cy="157.4" r="3.6499999999999995" fill="#676767" stroke="#707070" stroke-width="0.9"/>
<circle cx="225.6" cy="157.4" r="3.6499999999999995" fill="#676767" stroke="#707070" stroke-width="0.9"/>
<circle cx="236.9" cy="157.4" r="3.6499999999999995" fill="#676767" stroke="#707070" stroke-width="0.9"/>
<circle cx="246.6" cy="157.4" r="3.6499999999999995" fill="#5a5a5a" stroke="#636363" stroke-width="0.9"/>
<circle cx="256.1" cy="157.4" r="3.0" fill="#434343"/><circle cx="256.8" cy="157.6" r="1.15" fill="#737373"/><circle cx="256.0" cy="156.6" r="1.15" fill="#737373"/><circle cx="255.5" cy="158.8" r="1.15" fill="#737373"/><circle cx="256.5" cy="157.5" r="1.15" fill="#737373"/><circle cx="257.3" cy="158.9" r="1.15" fill="#737373"/><circle cx="258.4" cy="156.4" r="1.15" fill="#737373"/><circle cx="256.2" cy="160.0" r="1.15" fill="#737373"/><circle cx="255.8" cy="159.6" r="1.15" fill="#737373"/><circle cx="254.7" cy="160.3" r="1.15" fill="#737373"/><circle cx="254.4" cy="159.7" r="1.15" fill="#737373"/>
<circle cx="264.0" cy="154.8" r="1.2" fill="#7f7f7f"/><circle cx="267.5" cy="155.9" r="1.2" fill="#7f7f7f"/><circle cx="264.3" cy="155.7" r="1.1" fill="#7f7f7f"/><circle cx="264.2" cy="157.0" r="1.3" fill="#7f7f7f"/><circle cx="264.4" cy="155.6" r="0.8" fill="#7f7f7f"/>
<circle cx="274.5" cy="157.3" r="0.9" fill="#7f7f7f"/>
<circle cx="213.5" cy="169.8" r="1.0" fill="#7f7f7f"/>
</g>
<path d="M201.5 182.60000000000002 L205 179.10000000000002" stroke="#c8c8c8" stroke-width="1.1"/>
<path d="M287.5 182.60000000000002 L291 179.10000000000002" stroke="#c8c8c8" stroke-width="1.1"/>
<path d="M198.0 43 L206.0 51.0M199.6 43 L206.0 49.4M201.2 43 L206.0 47.8M202.8 43 L206.0 46.2" stroke="#515151" stroke-width="0.7"/>
<text x="116.80" y="59.30" font-size="10.8" font-weight="normal" text-anchor="end" ><tspan fill="#000" font-style="italic">Wild type</tspan></text>
<text x="116.80" y="73.30" font-size="10.8" font-weight="normal" text-anchor="end" ><tspan fill="#000" font-style="italic">rad54<tspan dx="0.084em" font-family="Liberation Serif">Δ</tspan></tspan></text>
<text x="116.80" y="84.60" font-size="10.8" font-weight="normal" text-anchor="end" ><tspan fill="#000" font-style="italic">rev3<tspan dx="0.084em" font-family="Liberation Serif">Δ</tspan></tspan></text>
<text x="116.80" y="96.40" font-size="10.8" font-weight="normal" text-anchor="end" ><tspan fill="#000" font-style="italic">rad54<tspan dx="0.084em" font-family="Liberation Serif">Δ</tspan> rev3<tspan dx="0.084em" font-family="Liberation Serif">Δ</tspan></tspan></text>
<text x="116.80" y="107.70" font-size="10.8" font-weight="normal" text-anchor="end" ><tspan fill="#000" font-style="italic">rad51<tspan dx="0.084em" font-family="Liberation Serif">Δ</tspan></tspan></text>
<text x="116.80" y="117.90" font-size="10.8" font-weight="normal" text-anchor="end" ><tspan fill="#000" font-style="italic">rad51<tspan dx="0.084em" font-family="Liberation Serif">Δ</tspan> rad54<tspan dx="0.084em" font-family="Liberation Serif">Δ</tspan></tspan></text>
<text x="116.80" y="128.00" font-size="10.8" font-weight="normal" text-anchor="end" ><tspan fill="#000" font-style="italic">rad51<tspan dx="0.084em" font-family="Liberation Serif">Δ</tspan> rev3<tspan dx="0.084em" font-family="Liberation Serif">Δ</tspan></tspan></text>
<text x="116.80" y="139.40" font-size="10.8" font-weight="normal" text-anchor="end" ><tspan fill="#000" font-style="italic">rad51<tspan dx="0.084em" font-family="Liberation Serif">Δ</tspan> rad54<tspan dx="0.084em" font-family="Liberation Serif">Δ</tspan> rev3<tspan dx="0.084em" font-family="Liberation Serif">Δ</tspan></tspan></text>
<text x="116.80" y="150.70" font-size="10.8" font-weight="normal" text-anchor="end" ><tspan fill="#4472c4" font-style="italic">rad51-ED</tspan></text>
<text x="116.80" y="161.60" font-size="10.8" font-weight="normal" text-anchor="end" ><tspan fill="#4472c4" font-style="italic">rad51-ED</tspan><tspan fill="#000" font-style="italic"> rad54<tspan dx="0.084em" font-family="Liberation Serif">Δ</tspan></tspan></text>
<text x="116.80" y="173.30" font-size="10.8" font-weight="normal" text-anchor="end" ><tspan fill="#4472c4" font-style="italic">rad51-ED</tspan><tspan fill="#000" font-style="italic"> rev3<tspan dx="0.084em" font-family="Liberation Serif">Δ</tspan></tspan></text>
<text x="116.80" y="184.20" font-size="10.8" font-weight="normal" text-anchor="end" ><tspan fill="#4472c4" font-style="italic">rad51-ED</tspan><tspan fill="#000" font-style="italic"> rad54<tspan dx="0.084em" font-family="Liberation Serif">Δ</tspan> rev3<tspan dx="0.084em" font-family="Liberation Serif">Δ</tspan></tspan></text>
<text x="343.00" y="12.70" font-size="17" font-weight="bold" text-anchor="start" ><tspan fill="#000" font-style="normal">B.</tspan></text>
<text x="368.90" y="12.70" font-size="17" font-weight="bold" text-anchor="start" ><tspan fill="#000" font-style="italic">rev3</tspan></text>
<text x="408.50" y="12.70" font-size="17" font-weight="bold" text-anchor="start" ><tspan fill="#f40f0f" font-style="italic">rad51-KN</tspan></text>
<text x="500.20" y="38.90" font-size="12.1" font-weight="bold" text-anchor="middle" ><tspan fill="#000" font-style="normal">YPD</tspan></text>
<text x="588.00" y="39.30" font-size="12.1" font-weight="bold" text-anchor="middle" ><tspan fill="#000" font-style="normal">+0.0033% MMS</tspan></text>
<rect x="457" y="42" width="175" height="147.2" fill="#888" filter="url(#sh)"/>
<rect x="455" y="40" width="175" height="147.2" fill="#000"/>
<rect x="457" y="42" width="84" height="143.2" fill="#494949"/>
<rect x="544" y="42" width="84" height="143.2" fill="#414141"/>
<rect x="457.5" y="42.5" width="82.5" height="142.2" fill="none" stroke="#5f5f5f" stroke-width="0.8"/>
<rect x="544.5" y="42.5" width="83" height="142.2" fill="none" stroke="#575757" stroke-width="0.8"/>
<g filter="url(#bl)">
<circle cx="463.0" cy="56.6" r="3.6499999999999995" fill="#818181" stroke="#8a8a8a" stroke-width="0.9"/>
<circle cx="474.1" cy="56.6" r="3.6499999999999995" fill="#818181" stroke="#8a8a8a" stroke-width="0.9"/>
<circle cx="484.6" cy="56.6" r="3.6499999999999995" fill="#818181" stroke="#8a8a8a" stroke-width="0.9"/>
<circle cx="494.2" cy="56.6" r="3.6499999999999995" fill="#818181" stroke="#8a8a8a" stroke-width="0.9"/>
<circle cx="504.1" cy="56.6" r="3.6499999999999995" fill="#747474" stroke="#7d7d7d" stroke-width="0.9"/>
<circle cx="514.1" cy="56.6" r="3.3" fill="#6b6b6b"/><circle cx="516.7" cy="55.9" r="1.4" fill="#838383"/><circle cx="514.9" cy="56.9" r="1.4" fill="#838383"/><circle cx="515.3" cy="54.5" r="1.4" fill="#838383"/><circle cx="513.3" cy="55.2" r="1.4" fill="#838383"/><circle cx="512.4" cy="55.3" r="1.4" fill="#838383"/><circle cx="513.1" cy="56.1" r="1.4" fill="#838383"/><circle cx="512.5" cy="57.3" r="1.4" fill="#838383"/><circle cx="513.6" cy="53.8" r="1.4" fill="#838383"/><circle cx="516.1" cy="56.0" r="1.4" fill="#838383"/><circle cx="512.7" cy="57.1" r="1.4" fill="#838383"/><circle cx="514.6" cy="56.7" r="1.4" fill="#838383"/>
<circle cx="521.9" cy="57.0" r="1.0" fill="#999999"/><circle cx="525.5" cy="55.1" r="1.1" fill="#999999"/><circle cx="523.6" cy="56.9" r="1.0" fill="#999999"/><circle cx="525.1" cy="58.4" r="1.4" fill="#999999"/><circle cx="523.1" cy="55.6" r="1.3" fill="#999999"/><circle cx="524.5" cy="53.7" r="1.3" fill="#999999"/><circle cx="523.9" cy="53.4" r="1.0" fill="#999999"/><circle cx="527.3" cy="56.2" r="0.9" fill="#999999"/>
<circle cx="534.3" cy="53.6" r="1.1" fill="#999999"/><circle cx="531.9" cy="56.2" r="1.4" fill="#999999"/><circle cx="530.9" cy="56.6" r="1.0" fill="#999999"/><circle cx="536.8" cy="54.2" r="1.1" fill="#999999"/><circle cx="530.9" cy="55.1" r="1.2" fill="#999999"/>
<circle cx="463.0" cy="68.0" r="3.6499999999999995" fill="#8f8f8f" stroke="#989898" stroke-width="0.9"/>
<circle cx="474.1" cy="68.0" r="3.6499999999999995" fill="#8f8f8f" stroke="#989898" stroke-width="0.9"/>
<circle cx="484.6" cy="68.0" r="3.6499999999999995" fill="#8f8f8f" stroke="#989898" stroke-width="0.9"/>
<circle cx="494.2" cy="68.0" r="3.6499999999999995" fill="#747474" stroke="#7d7d7d" stroke-width="0.9"/>
<circle cx="504.1" cy="68.0" r="3.3" fill="#6b6b6b"/><circle cx="502.8" cy="68.1" r="1.4" fill="#838383"/><circle cx="503.0" cy="70.1" r="1.4" fill="#838383"/><circle cx="505.4" cy="70.3" r="1.4" fill="#838383"/><circle cx="503.8" cy="70.7" r="1.4" fill="#838383"/><circle cx="503.1" cy="70.6" r="1.4" fill="#838383"/><circle cx="503.6" cy="66.1" r="1.4" fill="#838383"/><circle cx="501.9" cy="67.7" r="1.4" fill="#838383"/><circle cx="502.8" cy="67.2" r="1.4" fill="#838383"/><circle cx="504.6" cy="69.9" r="1.4" fill="#838383"/><circle cx="506.1" cy="67.1" r="1.4" fill="#838383"/><circle cx="506.4" cy="69.2" r="1.4" fill="#838383"/>
<circle cx="514.1" cy="68.0" r="3.0" fill="#5d5d5d"/><circle cx="513.6" cy="64.9" r="1.15" fill="#8d8d8d"/><circle cx="515.1" cy="70.6" r="1.15" fill="#8d8d8d"/><circle cx="516.5" cy="68.9" r="1.15" fill="#8d8d8d"/><circle cx="513.9" cy="69.3" r="1.15" fill="#8d8d8d"/><circle cx="514.7" cy="67.4" r="1.15" fill="#8d8d8d"/><circle cx="511.1" cy="67.6" r="1.15" fill="#8d8d8d"/><circle cx="514.1" cy="69.3" r="1.15" fill="#8d8d8d"/><circle cx="515.5" cy="66.7" r="1.15" fill="#8d8d8d"/><circle cx="514.0" cy="67.6" r="1.15" fill="#8d8d8d"/><circle cx="513.4" cy="68.9" r="1.15" fill="#8d8d8d"/>
<circle cx="523.3" cy="67.4" r="1.4" fill="#999999"/><circle cx="526.6" cy="68.5" r="0.8" fill="#999999"/><circle cx="523.5" cy="71.3" r="0.9" fill="#999999"/><circle cx="524.8" cy="70.7" r="1.0" fill="#999999"/><circle cx="527.2" cy="69.0" r="0.9" fill="#999999"/><circle cx="525.4" cy="68.4" r="1.2" fill="#999999"/><circle cx="523.6" cy="67.2" r="1.0" fill="#999999"/><circle cx="525.7" cy="68.4" r="1.3" fill="#999999"/>
<circle cx="534.0" cy="64.5" r="1.3" fill="#999999"/><circle cx="536.1" cy="65.7" r="1.1" fill="#999999"/><circle cx="534.6" cy="70.8" r="1.0" fill="#999999"/><circle cx="535.9" cy="69.3" r="1.3" fill="#999999"/><circle cx="536.0" cy="69.9" r="1.0" fill="#999999"/>
<circle cx="463.0" cy="78.3" r="3.6499999999999995" fill="#747474" stroke="#7d7d7d" stroke-width="0.9"/>
<circle cx="474.1" cy="78.3" r="3.6499999999999995" fill="#747474" stroke="#7d7d7d" stroke-width="0.9"/>
<circle cx="484.6" cy="78.3" r="3.6499999999999995" fill="#747474" stroke="#7d7d7d" stroke-width="0.9"/>
<circle cx="494.2" cy="78.3" r="3.6499999999999995" fill="#747474" stroke="#7d7d7d" stroke-width="0.9"/>
<circle cx="504.1" cy="78.3" r="3.6499999999999995" fill="#747474" stroke="#7d7d7d" stroke-width="0.9"/>
<circle cx="514.1" cy="78.3" r="3.3" fill="#6b6b6b"/><circle cx="513.0" cy="78.2" r="1.4" fill="#838383"/><circle cx="515.5" cy="77.9" r="1.4" fill="#838383"/><circle cx="512.7" cy="77.2" r="1.4" fill="#838383"/><circle cx="516.2" cy="78.5" r="1.4" fill="#838383"/><circle cx="514.5" cy="78.8" r="1.4" fill="#838383"/><circle cx="515.2" cy="78.5" r="1.4" fill="#838383"/><circle cx="515.9" cy="79.6" r="1.4" fill="#838383"/><circle cx="511.3" cy="78.2" r="1.4" fill="#838383"/><circle cx="516.7" cy="77.2" r="1.4" fill="#838383"/><circle cx="514.3" cy="80.2" r="1.4" fill="#838383"/><circle cx="514.1" cy="80.5" r="1.4" fill="#838383"/>
<circle cx="521.3" cy="76.0" r="1.2" fill="#999999"/><circle cx="523.5" cy="80.4" r="1.1" fill="#999999"/><circle cx="524.0" cy="78.3" r="1.0" fill="#999999"/><circle cx="525.9" cy="80.2" r="0.9" fill="#999999"/><circle cx="524.5" cy="79.0" r="0.9" fill="#999999"/><circle cx="524.1" cy="80.7" r="1.1" fill="#999999"/><circle cx="522.6" cy="80.9" r="0.9" fill="#999999"/><circle cx="526.7" cy="76.2" r="1.2" fill="#999999"/>
<circle cx="532.0" cy="79.3" r="1.1" fill="#999999"/><circle cx="536.2" cy="79.0" r="1.1" fill="#999999"/><circle cx="534.5" cy="79.0" r="1.3" fill="#999999"/>
<circle cx="463.0" cy="90.1" r="3.6499999999999995" fill="#747474" stroke="#7d7d7d" stroke-width="0.9"/>
<circle cx="474.1" cy="90.1" r="3.6499999999999995" fill="#747474" stroke="#7d7d7d" stroke-width="0.9"/>
<circle cx="484.6" cy="90.1" r="3.6499999999999995" fill="#747474" stroke="#7d7d7d" stroke-width="0.9"/>
<circle cx="494.2" cy="90.1" r="3.3" fill="#6b6b6b"/><circle cx="492.9" cy="91.6" r="1.4" fill="#838383"/><circle cx="496.1" cy="89.1" r="1.4" fill="#838383"/><circle cx="493.5" cy="92.8" r="1.4" fill="#838383"/><circle cx="493.9" cy="90.4" r="1.4" fill="#838383"/><circle cx="493.8" cy="89.3" r="1.4" fill="#838383"/><circle cx="493.3" cy="92.5" r="1.4" fill="#838383"/><circle cx="494.0" cy="89.8" r="1.4" fill="#838383"/><circle cx="492.5" cy="90.6" r="1.4" fill="#838383"/><circle cx="492.9" cy="90.2" r="1.4" fill="#838383"/><circle cx="493.6" cy="89.7" r="1.4" fill="#838383"/><circle cx="493.8" cy="91.8" r="1.4" fill="#838383"/>
<circle cx="504.7" cy="89.9" r="1.3" fill="#999999"/><circle cx="505.0" cy="92.5" r="1.0" fill="#999999"/><circle cx="501.1" cy="90.8" r="1.0" fill="#999999"/><circle cx="504.7" cy="90.7" r="0.8" fill="#999999"/><circle cx="505.7" cy="87.8" r="1.4" fill="#999999"/><circle cx="504.0" cy="89.8" r="1.2" fill="#999999"/><circle cx="504.6" cy="87.1" r="1.1" fill="#999999"/><circle cx="502.7" cy="91.8" r="1.3" fill="#999999"/>
<circle cx="513.8" cy="92.5" r="1.1" fill="#999999"/><circle cx="517.2" cy="89.2" r="1.4" fill="#999999"/><circle cx="514.9" cy="88.7" r="0.9" fill="#999999"/>
<circle cx="522.1" cy="90.2" r="1.1" fill="#999999"/>
<circle cx="463.0" cy="100.5" r="3.6499999999999995" fill="#747474" stroke="#7d7d7d" stroke-width="0.9"/>
<circle cx="474.1" cy="100.5" r="3.6499999999999995" fill="#747474" stroke="#7d7d7d" stroke-width="0.9"/>
<circle cx="484.6" cy="100.5" r="3.6499999999999995" fill="#747474" stroke="#7d7d7d" stroke-width="0.9"/>
<circle cx="494.2" cy="100.5" r="3.6499999999999995" fill="#747474" stroke="#7d7d7d" stroke-width="0.9"/>
<circle cx="504.1" cy="100.5" r="3.6499999999999995" fill="#747474" stroke="#7d7d7d" stroke-width="0.9"/>
<circle cx="514.1" cy="100.5" r="3.0" fill="#5d5d5d"/><circle cx="512.7" cy="97.7" r="1.15" fill="#8d8d8d"/><circle cx="511.6" cy="99.0" r="1.15" fill="#8d8d8d"/><circle cx="515.6" cy="101.5" r="1.15" fill="#8d8d8d"/><circle cx="515.1" cy="100.5" r="1.15" fill="#8d8d8d"/><circle cx="513.5" cy="100.8" r="1.15" fill="#8d8d8d"/><circle cx="516.7" cy="102.1" r="1.15" fill="#8d8d8d"/><circle cx="516.6" cy="100.3" r="1.15" fill="#8d8d8d"/><circle cx="515.2" cy="101.6" r="1.15" fill="#8d8d8d"/><circle cx="514.4" cy="103.1" r="1.15" fill="#8d8d8d"/><circle cx="513.3" cy="98.7" r="1.15" fill="#8d8d8d"/>
<circle cx="523.6" cy="100.5" r="3.0" fill="#5d5d5d"/><circle cx="522.7" cy="100.4" r="1.15" fill="#8d8d8d"/><circle cx="520.5" cy="99.7" r="1.15" fill="#8d8d8d"/><circle cx="523.6" cy="99.7" r="1.15" fill="#8d8d8d"/><circle cx="520.9" cy="100.2" r="1.15" fill="#8d8d8d"/><circle cx="523.5" cy="103.6" r="1.15" fill="#8d8d8d"/><circle cx="521.0" cy="101.1" r="1.15" fill="#8d8d8d"/><circle cx="520.9" cy="102.4" r="1.15" fill="#8d8d8d"/><circle cx="524.1" cy="98.2" r="1.15" fill="#8d8d8d"/><circle cx="524.8" cy="102.1" r="1.15" fill="#8d8d8d"/><circle cx="526.0" cy="100.9" r="1.15" fill="#8d8d8d"/>
<circle cx="535.0" cy="99.7" r="1.1" fill="#999999"/>
<circle cx="463.0" cy="111.2" r="3.6499999999999995" fill="#747474" stroke="#7d7d7d" stroke-width="0.9"/>
<circle cx="474.1" cy="111.2" r="3.6499999999999995" fill="#747474" stroke="#7d7d7d" stroke-width="0.9"/>
<circle cx="484.6" cy="111.2" r="3.6499999999999995" fill="#747474" stroke="#7d7d7d" stroke-width="0.9"/>
<circle cx="494.2" cy="111.2" r="3.6499999999999995" fill="#747474" stroke="#7d7d7d" stroke-width="0.9"/>
<circle cx="504.1" cy="111.2" r="3.0" fill="#5d5d5d"/><circle cx="502.2" cy="111.4" r="1.15" fill="#8d8d8d"/><circle cx="503.3" cy="108.1" r="1.15" fill="#8d8d8d"/><circle cx="503.5" cy="109.2" r="1.15" fill="#8d8d8d"/><circle cx="505.8" cy="110.8" r="1.15" fill="#8d8d8d"/><circle cx="504.0" cy="108.6" r="1.15" fill="#8d8d8d"/><circle cx="504.3" cy="108.2" r="1.15" fill="#8d8d8d"/><circle cx="504.5" cy="113.6" r="1.15" fill="#8d8d8d"/><circle cx="502.0" cy="112.7" r="1.15" fill="#8d8d8d"/><circle cx="506.6" cy="110.8" r="1.15" fill="#8d8d8d"/><circle cx="506.2" cy="111.4" r="1.15" fill="#8d8d8d"/>
<circle cx="514.1" cy="111.2" r="3.0" fill="#5d5d5d"/><circle cx="513.4" cy="108.2" r="1.15" fill="#8d8d8d"/><circle cx="512.4" cy="108.8" r="1.15" fill="#8d8d8d"/><circle cx="517.3" cy="111.5" r="1.15" fill="#8d8d8d"/><circle cx="513.8" cy="108.8" r="1.15" fill="#8d8d8d"/><circle cx="516.6" cy="109.5" r="1.15" fill="#8d8d8d"/><circle cx="516.5" cy="112.9" r="1.15" fill="#8d8d8d"/><circle cx="514.2" cy="110.0" r="1.15" fill="#8d8d8d"/><circle cx="514.0" cy="108.8" r="1.15" fill="#8d8d8d"/><circle cx="515.1" cy="113.9" r="1.15" fill="#8d8d8d"/><circle cx="515.7" cy="113.1" r="1.15" fill="#8d8d8d"/>
<circle cx="522.3" cy="111.8" r="1.1" fill="#999999"/><circle cx="522.4" cy="111.5" r="1.4" fill="#999999"/><circle cx="523.7" cy="111.2" r="1.1" fill="#999999"/><circle cx="525.1" cy="108.8" r="1.3" fill="#999999"/><circle cx="520.7" cy="111.5" r="1.0" fill="#999999"/>
<circle cx="534.0" cy="113.5" r="0.8" fill="#999999"/><circle cx="536.9" cy="112.7" r="0.9" fill="#999999"/><circle cx="534.2" cy="108.0" r="1.0" fill="#999999"/><circle cx="532.7" cy="108.3" r="1.3" fill="#999999"/><circle cx="534.9" cy="112.0" r="1.0" fill="#999999"/>
<circle cx="463.0" cy="122.5" r="3.6499999999999995" fill="#747474" stroke="#7d7d7d" stroke-width="0.9"/>
<circle cx="474.1" cy="122.5" r="3.6499999999999995" fill="#747474" stroke="#7d7d7d" stroke-width="0.9"/>
<circle cx="484.6" cy="122.5" r="3.6499999999999995" fill="#747474" stroke="#7d7d7d" stroke-width="0.9"/>
<circle cx="494.2" cy="122.5" r="3.3" fill="#6b6b6b"/><circle cx="492.7" cy="122.8" r="1.4" fill="#838383"/><circle cx="496.3" cy="122.6" r="1.4" fill="#838383"/><circle cx="495.9" cy="122.1" r="1.4" fill="#838383"/><circle cx="492.5" cy="122.1" r="1.4" fill="#838383"/><circle cx="491.8" cy="123.4" r="1.4" fill="#838383"/><circle cx="493.4" cy="124.6" r="1.4" fill="#838383"/><circle cx="492.2" cy="122.7" r="1.4" fill="#838383"/><circle cx="494.9" cy="122.1" r="1.4" fill="#838383"/><circle cx="494.9" cy="121.1" r="1.4" fill="#838383"/><circle cx="492.7" cy="120.5" r="1.4" fill="#838383"/><circle cx="493.2" cy="121.1" r="1.4" fill="#838383"/>
<circle cx="504.1" cy="122.5" r="3.0" fill="#5d5d5d"/><circle cx="504.5" cy="121.8" r="1.15" fill="#8d8d8d"/><circle cx="502.8" cy="121.1" r="1.15" fill="#8d8d8d"/><circle cx="501.2" cy="121.9" r="1.15" fill="#8d8d8d"/><circle cx="504.8" cy="120.1" r="1.15" fill="#8d8d8d"/><circle cx="503.6" cy="123.8" r="1.15" fill="#8d8d8d"/><circle cx="502.8" cy="122.9" r="1.15" fill="#8d8d8d"/><circle cx="503.5" cy="125.7" r="1.15" fill="#8d8d8d"/><circle cx="506.3" cy="124.4" r="1.15" fill="#8d8d8d"/><circle cx="502.8" cy="123.7" r="1.15" fill="#8d8d8d"/><circle cx="503.8" cy="123.1" r="1.15" fill="#8d8d8d"/>
<circle cx="513.1" cy="122.8" r="1.1" fill="#999999"/><circle cx="513.2" cy="125.9" r="1.4" fill="#999999"/><circle cx="511.5" cy="123.5" r="1.4" fill="#999999"/><circle cx="513.8" cy="123.2" r="0.9" fill="#999999"/><circle cx="515.2" cy="125.2" r="1.0" fill="#999999"/>
<circle cx="521.6" cy="125.0" r="0.9" fill="#999999"/><circle cx="524.6" cy="119.9" r="1.0" fill="#999999"/><circle cx="524.4" cy="120.9" r="1.3" fill="#999999"/>
<circle cx="536.3" cy="121.4" r="1.2" fill="#999999"/>
<circle cx="463.0" cy="133.7" r="3.6499999999999995" fill="#616161" stroke="#6a6a6a" stroke-width="0.9"/>
<circle cx="474.1" cy="133.7" r="3.6499999999999995" fill="#616161" stroke="#6a6a6a" stroke-width="0.9"/>
<circle cx="484.6" cy="133.7" r="3.6499999999999995" fill="#616161" stroke="#6a6a6a" stroke-width="0.9"/>
<circle cx="494.2" cy="133.7" r="3.0" fill="#5d5d5d"/><circle cx="496.8" cy="132.8" r="1.15" fill="#8d8d8d"/><circle cx="494.2" cy="130.7" r="1.15" fill="#8d8d8d"/><circle cx="496.8" cy="132.6" r="1.15" fill="#8d8d8d"/><circle cx="495.8" cy="133.5" r="1.15" fill="#8d8d8d"/><circle cx="492.3" cy="131.9" r="1.15" fill="#8d8d8d"/><circle cx="492.9" cy="135.1" r="1.15" fill="#8d8d8d"/><circle cx="495.7" cy="136.6" r="1.15" fill="#8d8d8d"/><circle cx="492.9" cy="135.4" r="1.15" fill="#8d8d8d"/><circle cx="495.1" cy="133.0" r="1.15" fill="#8d8d8d"/><circle cx="495.1" cy="133.5" r="1.15" fill="#8d8d8d"/>
<circle cx="505.9" cy="134.0" r="1.0" fill="#999999"/><circle cx="507.1" cy="132.0" r="1.3" fill="#999999"/><circle cx="501.8" cy="134.7" r="0.9" fill="#999999"/><circle cx="505.1" cy="132.0" r="1.0" fill="#999999"/><circle cx="503.4" cy="132.9" r="1.0" fill="#999999"/><circle cx="504.8" cy="133.4" r="0.9" fill="#999999"/><circle cx="504.5" cy="135.1" r="1.1" fill="#999999"/><circle cx="504.1" cy="135.5" r="0.9" fill="#999999"/>
<circle cx="514.3" cy="136.4" r="1.0" fill="#999999"/><circle cx="511.9" cy="136.0" r="0.8" fill="#999999"/><circle cx="516.2" cy="136.4" r="1.1" fill="#999999"/>
<circle cx="523.8" cy="132.8" r="1.1" fill="#999999"/>
<circle cx="535.2" cy="132.2" r="1.3" fill="#999999"/>
<circle cx="463.0" cy="144.4" r="3.6499999999999995" fill="#818181" stroke="#8a8a8a" stroke-width="0.9"/>
<circle cx="474.1" cy="144.4" r="3.6499999999999995" fill="#818181" stroke="#8a8a8a" stroke-width="0.9"/>
<circle cx="484.6" cy="144.4" r="3.6499999999999995" fill="#818181" stroke="#8a8a8a" stroke-width="0.9"/>
<circle cx="494.2" cy="144.4" r="3.6499999999999995" fill="#747474" stroke="#7d7d7d" stroke-width="0.9"/>
<circle cx="504.1" cy="144.4" r="3.6499999999999995" fill="#747474" stroke="#7d7d7d" stroke-width="0.9"/>
<circle cx="514.1" cy="144.4" r="3.0" fill="#5d5d5d"/><circle cx="512.6" cy="143.2" r="1.15" fill="#8d8d8d"/><circle cx="516.0" cy="144.4" r="1.15" fill="#8d8d8d"/><circle cx="511.7" cy="144.8" r="1.15" fill="#8d8d8d"/><circle cx="512.9" cy="147.1" r="1.15" fill="#8d8d8d"/><circle cx="512.1" cy="143.0" r="1.15" fill="#8d8d8d"/><circle cx="510.9" cy="143.6" r="1.15" fill="#8d8d8d"/><circle cx="517.1" cy="144.2" r="1.15" fill="#8d8d8d"/><circle cx="512.2" cy="144.9" r="1.15" fill="#8d8d8d"/><circle cx="513.6" cy="144.3" r="1.15" fill="#8d8d8d"/><circle cx="516.7" cy="146.5" r="1.15" fill="#8d8d8d"/>
<circle cx="526.1" cy="147.0" r="1.2" fill="#999999"/><circle cx="524.1" cy="144.1" r="1.0" fill="#999999"/><circle cx="523.6" cy="144.3" r="0.9" fill="#999999"/><circle cx="522.9" cy="145.3" r="0.9" fill="#999999"/><circle cx="523.3" cy="143.8" r="1.4" fill="#999999"/>
<circle cx="533.9" cy="144.0" r="1.3" fill="#999999"/><circle cx="534.3" cy="146.7" r="1.1" fill="#999999"/><circle cx="535.7" cy="146.2" r="0.8" fill="#999999"/><circle cx="535.3" cy="147.8" r="1.3" fill="#999999"/><circle cx="531.3" cy="144.0" r="1.3" fill="#999999"/>
<circle cx="463.0" cy="155.5" r="3.6499999999999995" fill="#818181" stroke="#8a8a8a" stroke-width="0.9"/>
<circle cx="474.1" cy="155.5" r="3.6499999999999995" fill="#818181" stroke="#8a8a8a" stroke-width="0.9"/>
<circle cx="484.6" cy="155.5" r="3.6499999999999995" fill="#818181" stroke="#8a8a8a" stroke-width="0.9"/>
<circle cx="494.2" cy="155.5" r="3.6499999999999995" fill="#747474" stroke="#7d7d7d" stroke-width="0.9"/>
<circle cx="504.1" cy="155.5" r="3.3" fill="#6b6b6b"/><circle cx="505.4" cy="157.0" r="1.4" fill="#838383"/><circle cx="504.7" cy="156.2" r="1.4" fill="#838383"/><circle cx="505.1" cy="156.3" r="1.4" fill="#838383"/><circle cx="505.3" cy="155.9" r="1.4" fill="#838383"/><circle cx="502.5" cy="157.0" r="1.4" fill="#838383"/><circle cx="505.8" cy="153.4" r="1.4" fill="#838383"/><circle cx="503.7" cy="153.5" r="1.4" fill="#838383"/><circle cx="505.1" cy="154.9" r="1.4" fill="#838383"/><circle cx="506.1" cy="157.1" r="1.4" fill="#838383"/><circle cx="503.2" cy="154.6" r="1.4" fill="#838383"/><circle cx="503.0" cy="156.6" r="1.4" fill="#838383"/>
<circle cx="512.2" cy="156.4" r="1.0" fill="#999999"/><circle cx="515.1" cy="152.4" r="1.1" fill="#999999"/><circle cx="512.5" cy="155.8" r="1.3" fill="#999999"/><circle cx="515.4" cy="155.4" r="1.2" fill="#999999"/><circle cx="513.2" cy="152.8" r="0.8" fill="#999999"/><circle cx="512.9" cy="155.1" r="0.9" fill="#999999"/><circle cx="511.6" cy="154.2" r="1.2" fill="#999999"/><circle cx="514.0" cy="152.5" r="1.1" fill="#999999"/>
<circle cx="526.6" cy="156.4" r="1.3" fill="#999999"/><circle cx="525.0" cy="153.2" r="0.8" fill="#999999"/><circle cx="523.9" cy="156.3" r="1.2" fill="#999999"/><circle cx="522.5" cy="155.2" r="1.4" fill="#999999"/><circle cx="527.1" cy="155.0" r="1.1" fill="#999999"/>
<circle cx="533.9" cy="156.7" r="1.3" fill="#999999"/>
<circle cx="463.0" cy="166.2" r="3.6499999999999995" fill="#747474" stroke="#7d7d7d" stroke-width="0.9"/>
<circle cx="474.1" cy="166.2" r="3.6499999999999995" fill="#747474" stroke="#7d7d7d" stroke-width="0.9"/>
<circle cx="484.6" cy="166.2" r="3.6499999999999995" fill="#747474" stroke="#7d7d7d" stroke-width="0.9"/>
<circle cx="494.2" cy="166.2" r="3.6499999999999995" fill="#747474" stroke="#7d7d7d" stroke-width="0.9"/>
<circle cx="504.1" cy="166.2" r="3.6499999999999995" fill="#747474" stroke="#7d7d7d" stroke-width="0.9"/>
<circle cx="514.1" cy="166.2" r="3.3" fill="#6b6b6b"/><circle cx="513.7" cy="164.8" r="1.4" fill="#838383"/><circle cx="515.8" cy="165.0" r="1.4" fill="#838383"/><circle cx="512.6" cy="167.1" r="1.4" fill="#838383"/><circle cx="513.8" cy="164.3" r="1.4" fill="#838383"/><circle cx="513.6" cy="165.4" r="1.4" fill="#838383"/><circle cx="513.7" cy="164.8" r="1.4" fill="#838383"/><circle cx="515.2" cy="165.5" r="1.4" fill="#838383"/><circle cx="513.1" cy="168.0" r="1.4" fill="#838383"/><circle cx="512.5" cy="167.5" r="1.4" fill="#838383"/><circle cx="515.2" cy="165.6" r="1.4" fill="#838383"/><circle cx="514.4" cy="163.9" r="1.4" fill="#838383"/>
<circle cx="523.6" cy="166.2" r="3.0" fill="#5d5d5d"/><circle cx="524.1" cy="164.2" r="1.15" fill="#8d8d8d"/><circle cx="521.9" cy="166.7" r="1.15" fill="#8d8d8d"/><circle cx="522.2" cy="166.4" r="1.15" fill="#8d8d8d"/><circle cx="524.4" cy="168.2" r="1.15" fill="#8d8d8d"/><circle cx="524.3" cy="168.2" r="1.15" fill="#8d8d8d"/><circle cx="522.1" cy="165.5" r="1.15" fill="#8d8d8d"/><circle cx="524.8" cy="168.3" r="1.15" fill="#8d8d8d"/><circle cx="524.5" cy="165.2" r="1.15" fill="#8d8d8d"/><circle cx="521.7" cy="164.5" r="1.15" fill="#8d8d8d"/><circle cx="525.6" cy="164.5" r="1.15" fill="#8d8d8d"/>
<circle cx="533.8" cy="167.4" r="1.3" fill="#999999"/><circle cx="534.1" cy="166.4" r="1.3" fill="#999999"/><circle cx="534.7" cy="167.8" r="1.0" fill="#999999"/><circle cx="534.1" cy="169.2" r="1.0" fill="#999999"/><circle cx="532.3" cy="167.0" r="1.3" fill="#999999"/><circle cx="536.8" cy="166.5" r="0.9" fill="#999999"/><circle cx="535.8" cy="168.4" r="1.0" fill="#999999"/><circle cx="536.6" cy="167.2" r="1.3" fill="#999999"/>
<circle cx="463.0" cy="178.3" r="3.6499999999999995" fill="#747474" stroke="#7d7d7d" stroke-width="0.9"/>
<circle cx="474.1" cy="178.3" r="3.6499999999999995" fill="#747474" stroke="#7d7d7d" stroke-width="0.9"/>
<circle cx="484.6" cy="178.3" r="3.6499999999999995" fill="#747474" stroke="#7d7d7d" stroke-width="0.9"/>
<circle cx="494.2" cy="178.3" r="3.0" fill="#5d5d5d"/><circle cx="492.9" cy="176.6" r="1.15" fill="#8d8d8d"/><circle cx="495.2" cy="175.3" r="1.15" fill="#8d8d8d"/><circle cx="495.1" cy="179.6" r="1.15" fill="#8d8d8d"/><circle cx="497.3" cy="177.6" r="1.15" fill="#8d8d8d"/><circle cx="495.0" cy="180.9" r="1.15" fill="#8d8d8d"/><circle cx="495.9" cy="176.6" r="1.15" fill="#8d8d8d"/><circle cx="493.5" cy="176.2" r="1.15" fill="#8d8d8d"/><circle cx="494.3" cy="179.6" r="1.15" fill="#8d8d8d"/><circle cx="496.6" cy="179.3" r="1.15" fill="#8d8d8d"/><circle cx="495.8" cy="180.2" r="1.15" fill="#8d8d8d"/>
<circle cx="502.5" cy="179.6" r="1.4" fill="#999999"/><circle cx="502.3" cy="179.7" r="1.0" fill="#999999"/><circle cx="504.4" cy="179.6" r="1.1" fill="#999999"/><circle cx="504.4" cy="177.7" r="1.4" fill="#999999"/><circle cx="503.9" cy="177.9" r="1.2" fill="#999999"/>
<circle cx="512.2" cy="179.7" r="0.9" fill="#999999"/>
<circle cx="521.2" cy="178.1" r="1.3" fill="#999999"/>
<circle cx="531.6" cy="176.9" r="1.2" fill="#999999"/>
<circle cx="551.1" cy="56.6" r="3.6499999999999995" fill="#797979" stroke="#828282" stroke-width="0.9"/>
<circle cx="561.7" cy="56.6" r="3.6499999999999995" fill="#797979" stroke="#828282" stroke-width="0.9"/>
<circle cx="572.8" cy="56.6" r="3.6499999999999995" fill="#797979" stroke="#828282" stroke-width="0.9"/>
<circle cx="582.5" cy="56.6" r="3.6499999999999995" fill="#797979" stroke="#828282" stroke-width="0.9"/>
<circle cx="591.7" cy="56.6" r="3.6499999999999995" fill="#6c6c6c" stroke="#757575" stroke-width="0.9"/>
<circle cx="601.7" cy="56.6" r="3.0" fill="#555555"/><circle cx="601.8" cy="57.0" r="1.15" fill="#858585"/><circle cx="600.7" cy="56.7" r="1.15" fill="#858585"/><circle cx="602.8" cy="57.9" r="1.15" fill="#858585"/><circle cx="599.3" cy="56.0" r="1.15" fill="#858585"/><circle cx="599.8" cy="54.1" r="1.15" fill="#858585"/><circle cx="603.6" cy="58.0" r="1.15" fill="#858585"/><circle cx="603.9" cy="57.9" r="1.15" fill="#858585"/><circle cx="600.8" cy="57.0" r="1.15" fill="#858585"/><circle cx="600.7" cy="59.0" r="1.15" fill="#858585"/><circle cx="598.6" cy="57.1" r="1.15" fill="#858585"/>
<circle cx="610.4" cy="58.0" r="1.4" fill="#919191"/><circle cx="610.9" cy="56.1" r="1.3" fill="#919191"/><circle cx="609.1" cy="59.4" r="1.2" fill="#919191"/><circle cx="612.7" cy="53.3" r="1.1" fill="#919191"/><circle cx="611.8" cy="56.5" r="1.0" fill="#919191"/><circle cx="611.6" cy="56.5" r="1.2" fill="#919191"/><circle cx="614.5" cy="56.6" r="1.3" fill="#919191"/><circle cx="613.7" cy="57.7" r="1.2" fill="#919191"/>
<circle cx="620.9" cy="57.4" r="1.3" fill="#919191"/><circle cx="623.0" cy="57.0" r="1.2" fill="#919191"/><circle cx="626.1" cy="55.9" r="1.2" fill="#919191"/>
<circle cx="551.1" cy="68.0" r="3.6499999999999995" fill="#797979" stroke="#828282" stroke-width="0.9"/>
<circle cx="561.7" cy="68.0" r="3.6499999999999995" fill="#6c6c6c" stroke="#757575" stroke-width="0.9"/>
<circle cx="572.8" cy="68.0" r="3.3" fill="#636363"/><circle cx="572.1" cy="70.6" r="1.4" fill="#7b7b7b"/><circle cx="574.1" cy="68.3" r="1.4" fill="#7b7b7b"/><circle cx="573.4" cy="65.4" r="1.4" fill="#7b7b7b"/><circle cx="570.6" cy="69.5" r="1.4" fill="#7b7b7b"/><circle cx="574.5" cy="69.4" r="1.4" fill="#7b7b7b"/><circle cx="574.0" cy="68.6" r="1.4" fill="#7b7b7b"/><circle cx="572.9" cy="68.2" r="1.4" fill="#7b7b7b"/><circle cx="571.2" cy="69.1" r="1.4" fill="#7b7b7b"/><circle cx="572.4" cy="70.2" r="1.4" fill="#7b7b7b"/><circle cx="574.7" cy="68.7" r="1.4" fill="#7b7b7b"/><circle cx="571.0" cy="67.7" r="1.4" fill="#7b7b7b"/>
<circle cx="583.3" cy="67.5" r="1.1" fill="#919191"/><circle cx="580.7" cy="68.5" r="1.4" fill="#919191"/><circle cx="580.3" cy="67.0" r="1.1" fill="#919191"/><circle cx="579.1" cy="69.4" r="1.3" fill="#919191"/><circle cx="581.9" cy="67.1" r="1.2" fill="#919191"/><circle cx="583.8" cy="69.3" r="0.8" fill="#919191"/><circle cx="581.5" cy="64.4" r="1.2" fill="#919191"/><circle cx="581.2" cy="67.4" r="1.1" fill="#919191"/>
<circle cx="589.7" cy="68.5" r="1.0" fill="#919191"/><circle cx="592.3" cy="71.1" r="1.4" fill="#919191"/><circle cx="592.9" cy="65.5" r="0.8" fill="#919191"/><circle cx="590.6" cy="71.2" r="1.4" fill="#919191"/><circle cx="589.3" cy="67.2" r="1.2" fill="#919191"/>
<circle cx="601.8" cy="71.0" r="1.0" fill="#919191"/><circle cx="603.0" cy="66.2" r="1.2" fill="#919191"/><circle cx="599.4" cy="67.2" r="1.1" fill="#919191"/>
<circle cx="551.1" cy="78.3" r="3.6499999999999995" fill="#797979" stroke="#828282" stroke-width="0.9"/>
<circle cx="561.7" cy="78.3" r="3.6499999999999995" fill="#797979" stroke="#828282" stroke-width="0.9"/>
<circle cx="572.8" cy="78.3" r="3.6499999999999995" fill="#797979" stroke="#828282" stroke-width="0.9"/>
<circle cx="582.5" cy="78.3" r="3.6499999999999995" fill="#797979" stroke="#828282" stroke-width="0.9"/>
<circle cx="591.7" cy="78.3" r="3.6499999999999995" fill="#6c6c6c" stroke="#757575" stroke-width="0.9"/>
<circle cx="601.7" cy="78.3" r="3.0" fill="#555555"/><circle cx="604.4" cy="77.5" r="1.15" fill="#858585"/><circle cx="599.8" cy="79.4" r="1.15" fill="#858585"/><circle cx="603.9" cy="76.6" r="1.15" fill="#858585"/><circle cx="599.9" cy="75.7" r="1.15" fill="#858585"/><circle cx="603.5" cy="79.9" r="1.15" fill="#858585"/><circle cx="600.2" cy="76.9" r="1.15" fill="#858585"/><circle cx="604.8" cy="77.6" r="1.15" fill="#858585"/><circle cx="599.8" cy="79.9" r="1.15" fill="#858585"/><circle cx="602.0" cy="75.7" r="1.15" fill="#858585"/><circle cx="599.8" cy="80.5" r="1.15" fill="#858585"/>
<circle cx="610.9" cy="79.1" r="1.2" fill="#919191"/><circle cx="610.3" cy="76.7" r="1.1" fill="#919191"/><circle cx="614.8" cy="78.1" r="1.0" fill="#919191"/><circle cx="613.7" cy="76.9" r="1.0" fill="#919191"/><circle cx="609.6" cy="75.7" r="1.3" fill="#919191"/>
<circle cx="621.4" cy="75.8" r="1.0" fill="#919191"/><circle cx="624.9" cy="78.8" r="0.9" fill="#919191"/><circle cx="624.5" cy="77.6" r="1.2" fill="#919191"/>
<circle cx="551.1" cy="100.5" r="3.6499999999999995" fill="#797979" stroke="#828282" stroke-width="0.9"/>
<circle cx="561.7" cy="100.5" r="3.6499999999999995" fill="#797979" stroke="#828282" stroke-width="0.9"/>
<circle cx="572.8" cy="100.5" r="3.6499999999999995" fill="#797979" stroke="#828282" stroke-width="0.9"/>
<circle cx="582.5" cy="100.5" r="3.6499999999999995" fill="#6c6c6c" stroke="#757575" stroke-width="0.9"/>
<circle cx="591.7" cy="100.5" r="3.0" fill="#555555"/><circle cx="591.6" cy="99.3" r="1.15" fill="#858585"/><circle cx="592.5" cy="99.0" r="1.15" fill="#858585"/><circle cx="593.8" cy="101.7" r="1.15" fill="#858585"/><circle cx="589.1" cy="102.3" r="1.15" fill="#858585"/><circle cx="590.9" cy="100.8" r="1.15" fill="#858585"/><circle cx="592.1" cy="100.5" r="1.15" fill="#858585"/><circle cx="589.0" cy="100.6" r="1.15" fill="#858585"/><circle cx="593.3" cy="101.0" r="1.15" fill="#858585"/><circle cx="588.6" cy="100.9" r="1.15" fill="#858585"/><circle cx="594.7" cy="99.9" r="1.15" fill="#858585"/>
<circle cx="600.0" cy="98.5" r="0.9" fill="#919191"/><circle cx="600.9" cy="99.8" r="1.0" fill="#919191"/><circle cx="602.9" cy="98.3" r="1.2" fill="#919191"/><circle cx="600.2" cy="100.8" r="1.1" fill="#919191"/><circle cx="600.4" cy="99.9" r="1.3" fill="#919191"/><circle cx="602.8" cy="100.4" r="0.9" fill="#919191"/><circle cx="602.8" cy="97.7" r="0.9" fill="#919191"/><circle cx="600.5" cy="99.8" r="1.3" fill="#919191"/>
<circle cx="609.5" cy="99.3" r="0.9" fill="#919191"/>
<circle cx="620.9" cy="101.8" r="1.0" fill="#919191"/>
<circle cx="551.1" cy="111.2" r="3.6499999999999995" fill="#797979" stroke="#828282" stroke-width="0.9"/>
<circle cx="561.7" cy="111.2" r="3.6499999999999995" fill="#797979" stroke="#828282" stroke-width="0.9"/>
<circle cx="572.8" cy="111.2" r="3.6499999999999995" fill="#797979" stroke="#828282" stroke-width="0.9"/>
<circle cx="582.5" cy="111.2" r="3.6499999999999995" fill="#6c6c6c" stroke="#757575" stroke-width="0.9"/>
<circle cx="591.7" cy="111.2" r="3.0" fill="#555555"/><circle cx="592.2" cy="112.3" r="1.15" fill="#858585"/><circle cx="590.7" cy="108.2" r="1.15" fill="#858585"/><circle cx="593.1" cy="109.2" r="1.15" fill="#858585"/><circle cx="592.0" cy="110.2" r="1.15" fill="#858585"/><circle cx="592.4" cy="113.8" r="1.15" fill="#858585"/><circle cx="592.4" cy="111.2" r="1.15" fill="#858585"/><circle cx="591.9" cy="110.0" r="1.15" fill="#858585"/><circle cx="592.5" cy="112.9" r="1.15" fill="#858585"/><circle cx="591.8" cy="111.0" r="1.15" fill="#858585"/><circle cx="592.9" cy="110.1" r="1.15" fill="#858585"/>
<circle cx="599.7" cy="110.2" r="0.9" fill="#919191"/><circle cx="602.8" cy="110.9" r="1.3" fill="#919191"/><circle cx="603.3" cy="109.7" r="1.4" fill="#919191"/><circle cx="602.6" cy="111.6" r="1.1" fill="#919191"/><circle cx="604.6" cy="112.7" r="1.1" fill="#919191"/>
<circle cx="612.0" cy="109.7" r="0.8" fill="#919191"/>
<circle cx="552.1" cy="121.7" r="1.1" fill="#919191"/>
<circle cx="574.6" cy="124.4" r="1.1" fill="#919191"/>
<circle cx="551.1" cy="144.4" r="3.6499999999999995" fill="#797979" stroke="#828282" stroke-width="0.9"/>
<circle cx="561.7" cy="144.4" r="3.6499999999999995" fill="#797979" stroke="#828282" stroke-width="0.9"/>
<circle cx="572.8" cy="144.4" r="3.6499999999999995" fill="#797979" stroke="#828282" stroke-width="0.9"/>
<circle cx="582.5" cy="144.4" r="3.6499999999999995" fill="#797979" stroke="#828282" stroke-width="0.9"/>
<circle cx="591.7" cy="144.4" r="3.6499999999999995" fill="#6c6c6c" stroke="#757575" stroke-width="0.9"/>
<circle cx="601.7" cy="144.4" r="3.0" fill="#555555"/><circle cx="601.9" cy="144.8" r="1.15" fill="#858585"/><circle cx="600.2" cy="146.8" r="1.15" fill="#858585"/><circle cx="602.5" cy="145.5" r="1.15" fill="#858585"/><circle cx="599.9" cy="142.7" r="1.15" fill="#858585"/><circle cx="602.5" cy="142.0" r="1.15" fill="#858585"/><circle cx="602.3" cy="143.5" r="1.15" fill="#858585"/><circle cx="602.0" cy="144.2" r="1.15" fill="#858585"/><circle cx="602.3" cy="145.0" r="1.15" fill="#858585"/><circle cx="602.0" cy="142.2" r="1.15" fill="#858585"/><circle cx="604.6" cy="142.9" r="1.15" fill="#858585"/>
<circle cx="614.1" cy="143.6" r="1.0" fill="#919191"/><circle cx="614.4" cy="143.6" r="0.9" fill="#919191"/><circle cx="611.3" cy="144.3" r="0.8" fill="#919191"/><circle cx="609.6" cy="142.1" r="1.3" fill="#919191"/><circle cx="611.5" cy="143.5" r="1.2" fill="#919191"/>
<circle cx="625.7" cy="144.1" r="1.1" fill="#919191"/>
<circle cx="551.1" cy="155.5" r="3.6499999999999995" fill="#797979" stroke="#828282" stroke-width="0.9"/>
<circle cx="561.7" cy="155.5" r="3.6499999999999995" fill="#797979" stroke="#828282" stroke-width="0.9"/>
<circle cx="572.8" cy="155.5" r="3.6499999999999995" fill="#797979" stroke="#828282" stroke-width="0.9"/>
<circle cx="582.5" cy="155.5" r="3.3" fill="#636363"/><circle cx="582.3" cy="156.2" r="1.4" fill="#7b7b7b"/><circle cx="580.6" cy="153.6" r="1.4" fill="#7b7b7b"/><circle cx="584.4" cy="157.2" r="1.4" fill="#7b7b7b"/><circle cx="583.8" cy="154.5" r="1.4" fill="#7b7b7b"/><circle cx="583.1" cy="154.6" r="1.4" fill="#7b7b7b"/><circle cx="581.8" cy="157.5" r="1.4" fill="#7b7b7b"/><circle cx="584.0" cy="154.1" r="1.4" fill="#7b7b7b"/><circle cx="584.8" cy="156.9" r="1.4" fill="#7b7b7b"/><circle cx="580.3" cy="154.4" r="1.4" fill="#7b7b7b"/><circle cx="582.7" cy="157.1" r="1.4" fill="#7b7b7b"/><circle cx="583.5" cy="156.1" r="1.4" fill="#7b7b7b"/>
<circle cx="591.7" cy="155.5" r="3.0" fill="#555555"/><circle cx="589.9" cy="156.2" r="1.15" fill="#858585"/><circle cx="590.1" cy="153.0" r="1.15" fill="#858585"/><circle cx="590.1" cy="158.2" r="1.15" fill="#858585"/><circle cx="590.7" cy="154.1" r="1.15" fill="#858585"/><circle cx="593.0" cy="158.4" r="1.15" fill="#858585"/><circle cx="591.4" cy="155.1" r="1.15" fill="#858585"/><circle cx="591.0" cy="153.8" r="1.15" fill="#858585"/><circle cx="589.2" cy="156.8" r="1.15" fill="#858585"/><circle cx="592.0" cy="157.0" r="1.15" fill="#858585"/><circle cx="588.7" cy="154.7" r="1.15" fill="#858585"/>
<circle cx="604.6" cy="157.2" r="1.2" fill="#919191"/><circle cx="603.0" cy="158.1" r="1.2" fill="#919191"/><circle cx="601.1" cy="153.1" r="1.0" fill="#919191"/><circle cx="600.3" cy="155.5" r="1.1" fill="#919191"/><circle cx="601.0" cy="155.9" r="0.9" fill="#919191"/>
<circle cx="610.4" cy="157.1" r="1.1" fill="#919191"/><circle cx="611.5" cy="154.0" r="1.1" fill="#919191"/><circle cx="610.8" cy="156.6" r="0.9" fill="#919191"/>
<circle cx="551.1" cy="166.2" r="3.6499999999999995" fill="#797979" stroke="#828282" stroke-width="0.9"/>
<circle cx="561.7" cy="166.2" r="3.6499999999999995" fill="#6c6c6c" stroke="#757575" stroke-width="0.9"/>
<circle cx="572.8" cy="166.2" r="3.3" fill="#636363"/><circle cx="575.4" cy="165.5" r="1.4" fill="#7b7b7b"/><circle cx="573.4" cy="165.2" r="1.4" fill="#7b7b7b"/><circle cx="573.3" cy="166.9" r="1.4" fill="#7b7b7b"/><circle cx="572.2" cy="167.9" r="1.4" fill="#7b7b7b"/><circle cx="574.6" cy="166.3" r="1.4" fill="#7b7b7b"/><circle cx="571.8" cy="163.8" r="1.4" fill="#7b7b7b"/><circle cx="572.8" cy="166.3" r="1.4" fill="#7b7b7b"/><circle cx="573.3" cy="164.5" r="1.4" fill="#7b7b7b"/><circle cx="572.4" cy="167.2" r="1.4" fill="#7b7b7b"/><circle cx="572.6" cy="167.6" r="1.4" fill="#7b7b7b"/><circle cx="572.7" cy="167.5" r="1.4" fill="#7b7b7b"/>
<circle cx="582.5" cy="166.2" r="3.0" fill="#555555"/><circle cx="579.6" cy="165.9" r="1.15" fill="#858585"/><circle cx="581.8" cy="168.0" r="1.15" fill="#858585"/><circle cx="579.5" cy="166.5" r="1.15" fill="#858585"/><circle cx="582.8" cy="162.9" r="1.15" fill="#858585"/><circle cx="583.8" cy="168.8" r="1.15" fill="#858585"/><circle cx="581.8" cy="168.5" r="1.15" fill="#858585"/><circle cx="580.2" cy="165.8" r="1.15" fill="#858585"/><circle cx="582.2" cy="166.8" r="1.15" fill="#858585"/><circle cx="585.7" cy="166.4" r="1.15" fill="#858585"/><circle cx="584.1" cy="164.8" r="1.15" fill="#858585"/>
<circle cx="594.5" cy="168.0" r="1.1" fill="#919191"/><circle cx="589.0" cy="166.7" r="0.9" fill="#919191"/><circle cx="592.3" cy="169.4" r="1.2" fill="#919191"/><circle cx="593.8" cy="166.0" r="1.4" fill="#919191"/><circle cx="593.5" cy="164.7" r="1.3" fill="#919191"/>
<circle cx="602.0" cy="166.7" r="1.3" fill="#919191"/>
<circle cx="563.2" cy="180.2" r="1.2" fill="#919191"/>
</g>
<path d="M535.5 184.0 L539 180.5" stroke="#c8c8c8" stroke-width="1.1"/>
<path d="M622.5 184.0 L626 180.5" stroke="#c8c8c8" stroke-width="1.1"/>
<path d="M532.0 42 L540.0 50.0M533.6 42 L540.0 48.4M535.2 42 L540.0 46.8M536.8 42 L540.0 45.2" stroke="#676767" stroke-width="0.7"/>
<text x="451.40" y="58.90" font-size="10.8" font-weight="normal" text-anchor="end" ><tspan fill="#000" font-style="italic">Wild type</tspan></text>
<text x="451.40" y="72.60" font-size="10.8" font-weight="normal" text-anchor="end" ><tspan fill="#000" font-style="italic">rad54<tspan dx="0.084em" font-family="Liberation Serif">Δ</tspan></tspan></text>
<text x="451.40" y="84.40" font-size="10.8" font-weight="normal" text-anchor="end" ><tspan fill="#000" font-style="italic">rev3<tspan dx="0.084em" font-family="Liberation Serif">Δ</tspan></tspan></text>
<text x="451.40" y="96.10" font-size="10.8" font-weight="normal" text-anchor="end" ><tspan fill="#000" font-style="italic">rad54<tspan dx="0.084em" font-family="Liberation Serif">Δ</tspan> rev3<tspan dx="0.084em" font-family="Liberation Serif">Δ</tspan></tspan></text>
<text x="451.40" y="106.60" font-size="10.8" font-weight="normal" text-anchor="end" ><tspan fill="#000" font-style="italic">rad51<tspan dx="0.084em" font-family="Liberation Serif">Δ</tspan></tspan></text>
<text x="451.40" y="117.40" font-size="10.8" font-weight="normal" text-anchor="end" ><tspan fill="#000" font-style="italic">rad51<tspan dx="0.084em" font-family="Liberation Serif">Δ</tspan> rad54<tspan dx="0.084em" font-family="Liberation Serif">Δ</tspan></tspan></text>
<text x="451.40" y="128.10" font-size="10.8" font-weight="normal" text-anchor="end" ><tspan fill="#000" font-style="italic">rad51<tspan dx="0.084em" font-family="Liberation Serif">Δ</tspan> rev3<tspan dx="0.084em" font-family="Liberation Serif">Δ</tspan></tspan></text>
<text x="451.40" y="138.70" font-size="10.8" font-weight="normal" text-anchor="end" ><tspan fill="#000" font-style="italic">rad51<tspan dx="0.084em" font-family="Liberation Serif">Δ</tspan> rad54<tspan dx="0.084em" font-family="Liberation Serif">Δ</tspan> rev3<tspan dx="0.084em" font-family="Liberation Serif">Δ</tspan></tspan></text>
<text x="451.40" y="149.90" font-size="10.8" font-weight="normal" text-anchor="end" ><tspan fill="#f40f0f" font-style="italic">rad51-KN</tspan></text>
<text x="451.40" y="161.00" font-size="10.8" font-weight="normal" text-anchor="end" ><tspan fill="#f40f0f" font-style="italic">rad51-KN</tspan><tspan fill="#000" font-style="italic"> rad54<tspan dx="0.084em" font-family="Liberation Serif">Δ</tspan></tspan></text>
<text x="451.40" y="171.70" font-size="10.8" font-weight="normal" text-anchor="end" ><tspan fill="#f40f0f" font-style="italic">rad51-KN</tspan><tspan fill="#000" font-style="italic"> rev3<tspan dx="0.084em" font-family="Liberation Serif">Δ</tspan></tspan></text>
<text x="451.40" y="182.90" font-size="10.8" font-weight="normal" text-anchor="end" ><tspan fill="#f40f0f" font-style="italic">rad51-KN</tspan><tspan fill="#000" font-style="italic"> rad54<tspan dx="0.084em" font-family="Liberation Serif">Δ</tspan> rev3<tspan dx="0.084em" font-family="Liberation Serif">Δ</tspan></tspan></text>
<text x="2.80" y="690.60" font-size="17" font-weight="bold" text-anchor="start" ><tspan fill="#000" font-style="normal">F.</tspan></text>
<text x="25.70" y="690.60" font-size="17" font-weight="bold" text-anchor="start" ><tspan fill="#000" font-style="italic">pol30-KKRR</tspan></text>
<text x="129.70" y="690.60" font-size="17" font-weight="bold" text-anchor="start" ><tspan fill="#17aeea" font-style="italic">rad51-ED</tspan></text>
<text x="201.40" y="712.20" font-size="12.1" font-weight="bold" text-anchor="middle" ><tspan fill="#000" font-style="normal">YPD</tspan></text>
<text x="288.50" y="712.20" font-size="12.1" font-weight="bold" text-anchor="middle" ><tspan fill="#000" font-style="normal">+0.0033% MMS</tspan></text>
<rect x="159" y="714" width="175" height="144" fill="#888" filter="url(#sh)"/>
<rect x="157" y="712" width="175" height="144" fill="#000"/>
<rect x="159" y="714" width="84" height="140" fill="#363636"/>
<rect x="245" y="714" width="85" height="140" fill="#2e2e2e"/>
<rect x="159.5" y="714.5" width="82.5" height="139" fill="none" stroke="#4c4c4c" stroke-width="0.8"/>
<rect x="245.5" y="714.5" width="84" height="139" fill="none" stroke="#444444" stroke-width="0.8"/>
<g filter="url(#bl)">
<circle cx="165.0" cy="724.9" r="3.6499999999999995" fill="#6e6e6e" stroke="#777777" stroke-width="0.9"/>
<circle cx="174.4" cy="724.9" r="3.6499999999999995" fill="#6e6e6e" stroke="#777777" stroke-width="0.9"/>
<circle cx="184.6" cy="724.9" r="3.6499999999999995" fill="#6e6e6e" stroke="#777777" stroke-width="0.9"/>
<circle cx="194.9" cy="724.9" r="3.6499999999999995" fill="#6e6e6e" stroke="#777777" stroke-width="0.9"/>
<circle cx="204.8" cy="724.9" r="3.6499999999999995" fill="#6e6e6e" stroke="#777777" stroke-width="0.9"/>
<circle cx="215.5" cy="724.9" r="3.0" fill="#4a4a4a"/><circle cx="215.7" cy="727.2" r="1.15" fill="#7a7a7a"/><circle cx="213.8" cy="726.7" r="1.15" fill="#7a7a7a"/><circle cx="215.0" cy="724.4" r="1.15" fill="#7a7a7a"/><circle cx="218.5" cy="725.1" r="1.15" fill="#7a7a7a"/><circle cx="215.4" cy="726.3" r="1.15" fill="#7a7a7a"/><circle cx="217.6" cy="724.8" r="1.15" fill="#7a7a7a"/><circle cx="216.6" cy="723.1" r="1.15" fill="#7a7a7a"/><circle cx="214.8" cy="724.1" r="1.15" fill="#7a7a7a"/><circle cx="213.5" cy="722.6" r="1.15" fill="#7a7a7a"/><circle cx="212.8" cy="724.5" r="1.15" fill="#7a7a7a"/>
<circle cx="225.5" cy="724.4" r="1.3" fill="#868686"/><circle cx="224.4" cy="724.0" r="0.8" fill="#868686"/><circle cx="227.3" cy="723.2" r="1.2" fill="#868686"/><circle cx="228.0" cy="722.8" r="1.4" fill="#868686"/><circle cx="223.2" cy="726.9" r="1.1" fill="#868686"/><circle cx="229.0" cy="723.5" r="0.9" fill="#868686"/><circle cx="226.7" cy="725.9" r="1.4" fill="#868686"/><circle cx="223.3" cy="726.0" r="1.0" fill="#868686"/>
<circle cx="234.1" cy="724.8" r="1.0" fill="#868686"/><circle cx="233.8" cy="723.6" r="1.3" fill="#868686"/><circle cx="234.5" cy="721.6" r="1.3" fill="#868686"/><circle cx="238.9" cy="724.7" r="0.9" fill="#868686"/><circle cx="238.4" cy="722.1" r="1.3" fill="#868686"/>
<circle cx="165.0" cy="737.4" r="3.6499999999999995" fill="#7c7c7c" stroke="#858585" stroke-width="0.9"/>
<circle cx="174.4" cy="737.4" r="3.6499999999999995" fill="#7c7c7c" stroke="#858585" stroke-width="0.9"/>
<circle cx="184.6" cy="737.4" r="3.6499999999999995" fill="#7c7c7c" stroke="#858585" stroke-width="0.9"/>
<circle cx="194.9" cy="737.4" r="3.6499999999999995" fill="#7c7c7c" stroke="#858585" stroke-width="0.9"/>
<circle cx="204.8" cy="737.4" r="3.0" fill="#4a4a4a"/><circle cx="202.4" cy="736.3" r="1.15" fill="#7a7a7a"/><circle cx="205.5" cy="740.3" r="1.15" fill="#7a7a7a"/><circle cx="203.4" cy="736.7" r="1.15" fill="#7a7a7a"/><circle cx="207.6" cy="738.6" r="1.15" fill="#7a7a7a"/><circle cx="205.6" cy="737.4" r="1.15" fill="#7a7a7a"/><circle cx="205.4" cy="735.6" r="1.15" fill="#7a7a7a"/><circle cx="205.7" cy="738.7" r="1.15" fill="#7a7a7a"/><circle cx="205.2" cy="734.4" r="1.15" fill="#7a7a7a"/><circle cx="207.2" cy="738.1" r="1.15" fill="#7a7a7a"/><circle cx="207.4" cy="738.2" r="1.15" fill="#7a7a7a"/>
<circle cx="215.5" cy="737.4" r="3.0" fill="#4a4a4a"/><circle cx="214.0" cy="740.1" r="1.15" fill="#7a7a7a"/><circle cx="217.7" cy="737.1" r="1.15" fill="#7a7a7a"/><circle cx="217.1" cy="737.4" r="1.15" fill="#7a7a7a"/><circle cx="217.6" cy="738.5" r="1.15" fill="#7a7a7a"/><circle cx="216.7" cy="737.6" r="1.15" fill="#7a7a7a"/><circle cx="213.4" cy="738.7" r="1.15" fill="#7a7a7a"/><circle cx="215.8" cy="737.8" r="1.15" fill="#7a7a7a"/><circle cx="216.6" cy="736.2" r="1.15" fill="#7a7a7a"/><circle cx="218.5" cy="736.6" r="1.15" fill="#7a7a7a"/><circle cx="214.0" cy="738.8" r="1.15" fill="#7a7a7a"/>
<circle cx="223.0" cy="737.0" r="1.2" fill="#868686"/><circle cx="223.3" cy="736.4" r="1.4" fill="#868686"/><circle cx="223.7" cy="737.3" r="1.2" fill="#868686"/><circle cx="225.9" cy="739.0" r="1.4" fill="#868686"/><circle cx="223.3" cy="737.1" r="0.8" fill="#868686"/><circle cx="223.6" cy="738.7" r="0.8" fill="#868686"/><circle cx="223.7" cy="735.6" r="0.8" fill="#868686"/><circle cx="224.2" cy="735.8" r="1.2" fill="#868686"/>
<circle cx="234.2" cy="739.8" r="1.2" fill="#868686"/><circle cx="236.5" cy="737.5" r="1.2" fill="#868686"/><circle cx="237.4" cy="737.1" r="1.1" fill="#868686"/><circle cx="234.6" cy="736.5" r="1.0" fill="#868686"/><circle cx="235.3" cy="739.1" r="1.2" fill="#868686"/>
<circle cx="165.0" cy="749.5" r="3.6499999999999995" fill="#616161" stroke="#6a6a6a" stroke-width="0.9"/>
<circle cx="174.4" cy="749.5" r="3.6499999999999995" fill="#616161" stroke="#6a6a6a" stroke-width="0.9"/>
<circle cx="184.6" cy="749.5" r="3.6499999999999995" fill="#616161" stroke="#6a6a6a" stroke-width="0.9"/>
<circle cx="194.9" cy="749.5" r="3.6499999999999995" fill="#616161" stroke="#6a6a6a" stroke-width="0.9"/>
<circle cx="204.8" cy="749.5" r="3.3" fill="#585858"/><circle cx="204.3" cy="751.1" r="1.4" fill="#707070"/><circle cx="204.9" cy="749.0" r="1.4" fill="#707070"/><circle cx="202.6" cy="748.5" r="1.4" fill="#707070"/><circle cx="204.3" cy="750.7" r="1.4" fill="#707070"/><circle cx="205.3" cy="748.2" r="1.4" fill="#707070"/><circle cx="205.5" cy="751.2" r="1.4" fill="#707070"/><circle cx="204.5" cy="748.7" r="1.4" fill="#707070"/><circle cx="204.1" cy="751.0" r="1.4" fill="#707070"/><circle cx="205.7" cy="747.9" r="1.4" fill="#707070"/><circle cx="205.5" cy="748.6" r="1.4" fill="#707070"/><circle cx="203.6" cy="751.4" r="1.4" fill="#707070"/>
<circle cx="215.5" cy="749.5" r="3.0" fill="#4a4a4a"/><circle cx="217.0" cy="748.1" r="1.15" fill="#7a7a7a"/><circle cx="215.6" cy="750.4" r="1.15" fill="#7a7a7a"/><circle cx="214.3" cy="749.3" r="1.15" fill="#7a7a7a"/><circle cx="216.5" cy="746.7" r="1.15" fill="#7a7a7a"/><circle cx="216.1" cy="750.9" r="1.15" fill="#7a7a7a"/><circle cx="216.4" cy="747.1" r="1.15" fill="#7a7a7a"/><circle cx="216.1" cy="747.9" r="1.15" fill="#7a7a7a"/><circle cx="216.6" cy="750.6" r="1.15" fill="#7a7a7a"/><circle cx="215.9" cy="748.0" r="1.15" fill="#7a7a7a"/><circle cx="214.4" cy="751.1" r="1.15" fill="#7a7a7a"/>
<circle cx="224.0" cy="750.5" r="1.4" fill="#868686"/><circle cx="225.8" cy="749.6" r="1.4" fill="#868686"/><circle cx="228.5" cy="746.9" r="1.1" fill="#868686"/><circle cx="229.2" cy="748.4" r="0.9" fill="#868686"/><circle cx="225.7" cy="746.1" r="1.2" fill="#868686"/><circle cx="224.2" cy="749.3" r="1.0" fill="#868686"/><circle cx="225.9" cy="750.1" r="1.2" fill="#868686"/><circle cx="225.0" cy="752.7" r="0.8" fill="#868686"/>
<circle cx="165.0" cy="760.2" r="3.6499999999999995" fill="#484848" stroke="#515151" stroke-width="0.9"/>
<circle cx="174.4" cy="760.2" r="3.6499999999999995" fill="#424242" stroke="#4b4b4b" stroke-width="0.9"/>
<circle cx="184.6" cy="760.2" r="3.6499999999999995" fill="#424242" stroke="#4b4b4b" stroke-width="0.9"/>
<circle cx="197.3" cy="758.5" r="1.4" fill="#868686"/>
<circle cx="165.0" cy="770.4" r="3.6499999999999995" fill="#6e6e6e" stroke="#777777" stroke-width="0.9"/>
<circle cx="174.4" cy="770.4" r="3.6499999999999995" fill="#6e6e6e" stroke="#777777" stroke-width="0.9"/>
<circle cx="184.6" cy="770.4" r="3.6499999999999995" fill="#6e6e6e" stroke="#777777" stroke-width="0.9"/>
<circle cx="194.9" cy="770.4" r="3.6499999999999995" fill="#6e6e6e" stroke="#777777" stroke-width="0.9"/>
<circle cx="204.8" cy="770.4" r="3.3" fill="#585858"/><circle cx="206.9" cy="768.8" r="1.4" fill="#707070"/><circle cx="204.5" cy="770.3" r="1.4" fill="#707070"/><circle cx="204.8" cy="769.2" r="1.4" fill="#707070"/><circle cx="204.1" cy="772.6" r="1.4" fill="#707070"/><circle cx="203.0" cy="770.1" r="1.4" fill="#707070"/><circle cx="206.8" cy="769.6" r="1.4" fill="#707070"/><circle cx="204.0" cy="771.6" r="1.4" fill="#707070"/><circle cx="206.0" cy="768.9" r="1.4" fill="#707070"/><circle cx="205.1" cy="768.8" r="1.4" fill="#707070"/><circle cx="205.5" cy="772.3" r="1.4" fill="#707070"/><circle cx="205.3" cy="769.3" r="1.4" fill="#707070"/>
<circle cx="215.5" cy="770.4" r="3.0" fill="#4a4a4a"/><circle cx="216.3" cy="767.4" r="1.15" fill="#7a7a7a"/><circle cx="216.5" cy="767.6" r="1.15" fill="#7a7a7a"/><circle cx="218.0" cy="770.5" r="1.15" fill="#7a7a7a"/><circle cx="215.9" cy="770.0" r="1.15" fill="#7a7a7a"/><circle cx="215.3" cy="771.9" r="1.15" fill="#7a7a7a"/><circle cx="213.6" cy="770.1" r="1.15" fill="#7a7a7a"/><circle cx="212.7" cy="770.9" r="1.15" fill="#7a7a7a"/><circle cx="216.1" cy="770.4" r="1.15" fill="#7a7a7a"/><circle cx="216.2" cy="771.1" r="1.15" fill="#7a7a7a"/><circle cx="218.5" cy="771.8" r="1.15" fill="#7a7a7a"/>
<circle cx="226.2" cy="769.9" r="1.1" fill="#868686"/><circle cx="225.1" cy="771.9" r="1.0" fill="#868686"/><circle cx="224.2" cy="768.3" r="1.0" fill="#868686"/><circle cx="226.4" cy="772.0" r="0.9" fill="#868686"/><circle cx="223.0" cy="769.4" r="1.0" fill="#868686"/>
<circle cx="237.0" cy="770.9" r="1.0" fill="#868686"/><circle cx="233.5" cy="768.4" r="1.0" fill="#868686"/><circle cx="236.9" cy="767.8" r="1.1" fill="#868686"/>
<circle cx="165.0" cy="782.6" r="3.6499999999999995" fill="#6e6e6e" stroke="#777777" stroke-width="0.9"/>
<circle cx="174.4" cy="782.6" r="3.6499999999999995" fill="#6e6e6e" stroke="#777777" stroke-width="0.9"/>
<circle cx="184.6" cy="782.6" r="3.6499999999999995" fill="#6e6e6e" stroke="#777777" stroke-width="0.9"/>
<circle cx="194.9" cy="782.6" r="3.6499999999999995" fill="#6e6e6e" stroke="#777777" stroke-width="0.9"/>
<circle cx="204.8" cy="782.6" r="3.3" fill="#585858"/><circle cx="203.4" cy="784.0" r="1.4" fill="#707070"/><circle cx="204.3" cy="780.9" r="1.4" fill="#707070"/><circle cx="204.1" cy="780.8" r="1.4" fill="#707070"/><circle cx="204.9" cy="784.6" r="1.4" fill="#707070"/><circle cx="204.5" cy="781.9" r="1.4" fill="#707070"/><circle cx="203.2" cy="783.4" r="1.4" fill="#707070"/><circle cx="206.8" cy="780.7" r="1.4" fill="#707070"/><circle cx="202.9" cy="784.5" r="1.4" fill="#707070"/><circle cx="205.2" cy="781.2" r="1.4" fill="#707070"/><circle cx="203.8" cy="782.8" r="1.4" fill="#707070"/><circle cx="205.7" cy="780.5" r="1.4" fill="#707070"/>
<circle cx="215.5" cy="782.6" r="3.0" fill="#4a4a4a"/><circle cx="217.7" cy="780.7" r="1.15" fill="#7a7a7a"/><circle cx="214.1" cy="780.2" r="1.15" fill="#7a7a7a"/><circle cx="214.7" cy="782.3" r="1.15" fill="#7a7a7a"/><circle cx="215.4" cy="782.5" r="1.15" fill="#7a7a7a"/><circle cx="217.3" cy="784.8" r="1.15" fill="#7a7a7a"/><circle cx="216.3" cy="782.8" r="1.15" fill="#7a7a7a"/><circle cx="218.0" cy="784.4" r="1.15" fill="#7a7a7a"/><circle cx="215.6" cy="782.9" r="1.15" fill="#7a7a7a"/><circle cx="216.0" cy="781.8" r="1.15" fill="#7a7a7a"/><circle cx="216.9" cy="780.4" r="1.15" fill="#7a7a7a"/>
<circle cx="227.7" cy="779.5" r="1.1" fill="#868686"/><circle cx="225.9" cy="782.2" r="1.3" fill="#868686"/><circle cx="222.8" cy="782.4" r="0.9" fill="#868686"/><circle cx="225.8" cy="779.0" r="0.8" fill="#868686"/><circle cx="224.7" cy="784.9" r="1.3" fill="#868686"/>
<circle cx="236.1" cy="783.7" r="0.9" fill="#868686"/><circle cx="233.7" cy="780.5" r="1.0" fill="#868686"/><circle cx="234.7" cy="784.1" r="1.0" fill="#868686"/>
<circle cx="165.0" cy="793.7" r="3.6499999999999995" fill="#616161" stroke="#6a6a6a" stroke-width="0.9"/>
<circle cx="174.4" cy="793.7" r="3.6499999999999995" fill="#616161" stroke="#6a6a6a" stroke-width="0.9"/>
<circle cx="184.6" cy="793.7" r="3.0" fill="#4a4a4a"/><circle cx="184.0" cy="794.1" r="1.15" fill="#7a7a7a"/><circle cx="181.4" cy="793.7" r="1.15" fill="#7a7a7a"/><circle cx="182.2" cy="795.1" r="1.15" fill="#7a7a7a"/><circle cx="186.0" cy="795.9" r="1.15" fill="#7a7a7a"/><circle cx="184.7" cy="791.1" r="1.15" fill="#7a7a7a"/><circle cx="182.5" cy="793.5" r="1.15" fill="#7a7a7a"/><circle cx="182.7" cy="791.3" r="1.15" fill="#7a7a7a"/><circle cx="185.1" cy="794.4" r="1.15" fill="#7a7a7a"/><circle cx="184.6" cy="790.6" r="1.15" fill="#7a7a7a"/><circle cx="182.6" cy="793.5" r="1.15" fill="#7a7a7a"/>
<circle cx="194.7" cy="792.6" r="1.0" fill="#868686"/><circle cx="195.7" cy="796.2" r="1.0" fill="#868686"/><circle cx="195.2" cy="796.6" r="1.4" fill="#868686"/><circle cx="194.1" cy="796.6" r="1.0" fill="#868686"/><circle cx="196.5" cy="791.6" r="1.0" fill="#868686"/><circle cx="195.0" cy="794.0" r="1.1" fill="#868686"/><circle cx="194.1" cy="794.4" r="1.0" fill="#868686"/><circle cx="193.5" cy="796.6" r="0.9" fill="#868686"/>
<circle cx="207.1" cy="793.6" r="1.2" fill="#868686"/><circle cx="201.5" cy="794.4" r="1.3" fill="#868686"/><circle cx="202.7" cy="792.9" r="1.2" fill="#868686"/>
<circle cx="216.7" cy="792.1" r="1.2" fill="#868686"/>
<circle cx="228.0" cy="793.1" r="0.9" fill="#868686"/>
<circle cx="165.0" cy="804.5" r="3.6499999999999995" fill="#616161" stroke="#6a6a6a" stroke-width="0.9"/>
<circle cx="174.4" cy="804.5" r="3.6499999999999995" fill="#616161" stroke="#6a6a6a" stroke-width="0.9"/>
<circle cx="184.6" cy="804.5" r="3.0" fill="#4a4a4a"/><circle cx="184.9" cy="807.2" r="1.15" fill="#7a7a7a"/><circle cx="183.1" cy="801.6" r="1.15" fill="#7a7a7a"/><circle cx="185.5" cy="803.4" r="1.15" fill="#7a7a7a"/><circle cx="185.1" cy="805.9" r="1.15" fill="#7a7a7a"/><circle cx="185.6" cy="807.0" r="1.15" fill="#7a7a7a"/><circle cx="186.6" cy="802.1" r="1.15" fill="#7a7a7a"/><circle cx="184.5" cy="807.5" r="1.15" fill="#7a7a7a"/><circle cx="183.8" cy="806.3" r="1.15" fill="#7a7a7a"/><circle cx="184.5" cy="803.7" r="1.15" fill="#7a7a7a"/><circle cx="187.1" cy="806.1" r="1.15" fill="#7a7a7a"/>
<circle cx="194.4" cy="806.3" r="1.1" fill="#868686"/><circle cx="194.8" cy="804.4" r="1.0" fill="#868686"/><circle cx="192.8" cy="805.4" r="0.9" fill="#868686"/><circle cx="191.7" cy="802.6" r="1.0" fill="#868686"/><circle cx="194.1" cy="804.3" r="1.0" fill="#868686"/><circle cx="194.5" cy="803.8" r="1.3" fill="#868686"/><circle cx="195.5" cy="804.1" r="1.4" fill="#868686"/><circle cx="192.7" cy="806.8" r="1.3" fill="#868686"/>
<circle cx="204.0" cy="807.3" r="1.2" fill="#868686"/><circle cx="205.3" cy="803.1" r="1.3" fill="#868686"/><circle cx="207.6" cy="803.8" r="1.1" fill="#868686"/><circle cx="206.6" cy="806.0" r="1.0" fill="#868686"/><circle cx="204.2" cy="801.7" r="1.1" fill="#868686"/>
<circle cx="216.7" cy="807.0" r="1.2" fill="#868686"/><circle cx="217.0" cy="807.7" r="1.2" fill="#868686"/><circle cx="218.1" cy="807.0" r="0.9" fill="#868686"/>
<circle cx="165.0" cy="815.8" r="3.6499999999999995" fill="#6e6e6e" stroke="#777777" stroke-width="0.9"/>
<circle cx="174.4" cy="815.8" r="3.6499999999999995" fill="#6e6e6e" stroke="#777777" stroke-width="0.9"/>
<circle cx="184.6" cy="815.8" r="3.6499999999999995" fill="#6e6e6e" stroke="#777777" stroke-width="0.9"/>
<circle cx="194.9" cy="815.8" r="3.6499999999999995" fill="#6e6e6e" stroke="#777777" stroke-width="0.9"/>
<circle cx="204.8" cy="815.8" r="3.3" fill="#585858"/><circle cx="203.6" cy="817.9" r="1.4" fill="#707070"/><circle cx="203.1" cy="814.6" r="1.4" fill="#707070"/><circle cx="203.7" cy="814.3" r="1.4" fill="#707070"/><circle cx="204.4" cy="816.9" r="1.4" fill="#707070"/><circle cx="207.0" cy="816.8" r="1.4" fill="#707070"/><circle cx="204.9" cy="813.7" r="1.4" fill="#707070"/><circle cx="204.7" cy="814.1" r="1.4" fill="#707070"/><circle cx="204.6" cy="817.5" r="1.4" fill="#707070"/><circle cx="205.2" cy="815.4" r="1.4" fill="#707070"/><circle cx="203.4" cy="815.8" r="1.4" fill="#707070"/><circle cx="205.0" cy="814.1" r="1.4" fill="#707070"/>
<circle cx="215.5" cy="815.8" r="3.0" fill="#4a4a4a"/><circle cx="214.5" cy="817.5" r="1.15" fill="#7a7a7a"/><circle cx="212.8" cy="815.1" r="1.15" fill="#7a7a7a"/><circle cx="213.7" cy="818.2" r="1.15" fill="#7a7a7a"/><circle cx="216.6" cy="816.8" r="1.15" fill="#7a7a7a"/><circle cx="216.2" cy="816.3" r="1.15" fill="#7a7a7a"/><circle cx="216.0" cy="813.1" r="1.15" fill="#7a7a7a"/><circle cx="216.0" cy="816.9" r="1.15" fill="#7a7a7a"/><circle cx="213.1" cy="817.2" r="1.15" fill="#7a7a7a"/><circle cx="216.6" cy="813.3" r="1.15" fill="#7a7a7a"/><circle cx="214.6" cy="815.2" r="1.15" fill="#7a7a7a"/>
<circle cx="224.8" cy="816.5" r="1.1" fill="#868686"/><circle cx="224.7" cy="815.3" r="1.0" fill="#868686"/><circle cx="225.9" cy="815.5" r="1.3" fill="#868686"/><circle cx="228.6" cy="813.5" r="1.0" fill="#868686"/><circle cx="223.3" cy="815.0" r="1.2" fill="#868686"/><circle cx="228.7" cy="815.4" r="1.0" fill="#868686"/><circle cx="227.3" cy="814.0" r="1.2" fill="#868686"/><circle cx="225.8" cy="815.7" r="1.3" fill="#868686"/>
<circle cx="234.8" cy="813.8" r="1.1" fill="#868686"/>
<circle cx="165.0" cy="826.6" r="3.6499999999999995" fill="#7c7c7c" stroke="#858585" stroke-width="0.9"/>
<circle cx="174.4" cy="826.6" r="3.6499999999999995" fill="#7c7c7c" stroke="#858585" stroke-width="0.9"/>
<circle cx="184.6" cy="826.6" r="3.6499999999999995" fill="#7c7c7c" stroke="#858585" stroke-width="0.9"/>
<circle cx="194.9" cy="826.6" r="3.6499999999999995" fill="#7c7c7c" stroke="#858585" stroke-width="0.9"/>
<circle cx="204.8" cy="826.6" r="3.3" fill="#585858"/><circle cx="203.6" cy="826.9" r="1.4" fill="#707070"/><circle cx="204.3" cy="826.5" r="1.4" fill="#707070"/><circle cx="202.5" cy="826.6" r="1.4" fill="#707070"/><circle cx="202.8" cy="827.3" r="1.4" fill="#707070"/><circle cx="207.4" cy="825.9" r="1.4" fill="#707070"/><circle cx="206.4" cy="828.5" r="1.4" fill="#707070"/><circle cx="204.3" cy="826.2" r="1.4" fill="#707070"/><circle cx="203.9" cy="827.6" r="1.4" fill="#707070"/><circle cx="206.6" cy="827.6" r="1.4" fill="#707070"/><circle cx="206.2" cy="825.9" r="1.4" fill="#707070"/><circle cx="206.4" cy="824.9" r="1.4" fill="#707070"/>
<circle cx="215.5" cy="826.6" r="3.0" fill="#4a4a4a"/><circle cx="217.5" cy="828.9" r="1.15" fill="#7a7a7a"/><circle cx="213.0" cy="824.7" r="1.15" fill="#7a7a7a"/><circle cx="214.9" cy="823.9" r="1.15" fill="#7a7a7a"/><circle cx="213.9" cy="829.0" r="1.15" fill="#7a7a7a"/><circle cx="218.2" cy="825.3" r="1.15" fill="#7a7a7a"/><circle cx="212.9" cy="827.7" r="1.15" fill="#7a7a7a"/><circle cx="214.6" cy="826.7" r="1.15" fill="#7a7a7a"/><circle cx="216.2" cy="826.8" r="1.15" fill="#7a7a7a"/><circle cx="215.8" cy="827.6" r="1.15" fill="#7a7a7a"/><circle cx="212.8" cy="826.6" r="1.15" fill="#7a7a7a"/>
<circle cx="223.8" cy="826.1" r="1.2" fill="#868686"/>
<circle cx="235.3" cy="828.7" r="1.3" fill="#868686"/><circle cx="235.1" cy="827.3" r="1.3" fill="#868686"/><circle cx="235.6" cy="824.8" r="1.0" fill="#868686"/>
<circle cx="165.0" cy="837.9" r="3.6499999999999995" fill="#616161" stroke="#6a6a6a" stroke-width="0.9"/>
<circle cx="174.4" cy="837.9" r="3.6499999999999995" fill="#616161" stroke="#6a6a6a" stroke-width="0.9"/>
<circle cx="184.6" cy="837.9" r="3.0" fill="#4a4a4a"/><circle cx="182.2" cy="837.5" r="1.15" fill="#7a7a7a"/><circle cx="184.6" cy="838.0" r="1.15" fill="#7a7a7a"/><circle cx="185.3" cy="840.7" r="1.15" fill="#7a7a7a"/><circle cx="185.9" cy="839.5" r="1.15" fill="#7a7a7a"/><circle cx="185.0" cy="839.1" r="1.15" fill="#7a7a7a"/><circle cx="185.5" cy="839.6" r="1.15" fill="#7a7a7a"/><circle cx="184.8" cy="838.2" r="1.15" fill="#7a7a7a"/><circle cx="185.5" cy="838.6" r="1.15" fill="#7a7a7a"/><circle cx="184.0" cy="837.9" r="1.15" fill="#7a7a7a"/><circle cx="186.6" cy="838.2" r="1.15" fill="#7a7a7a"/>
<circle cx="192.4" cy="839.5" r="0.8" fill="#868686"/><circle cx="193.3" cy="839.0" r="0.8" fill="#868686"/><circle cx="196.2" cy="837.6" r="0.9" fill="#868686"/><circle cx="193.8" cy="838.1" r="1.2" fill="#868686"/><circle cx="194.4" cy="838.6" r="0.8" fill="#868686"/><circle cx="194.7" cy="836.4" r="1.3" fill="#868686"/><circle cx="191.4" cy="838.7" r="1.0" fill="#868686"/><circle cx="194.9" cy="839.4" r="1.3" fill="#868686"/>
<circle cx="203.6" cy="836.6" r="0.9" fill="#868686"/><circle cx="203.3" cy="834.5" r="1.2" fill="#868686"/><circle cx="205.1" cy="837.9" r="0.9" fill="#868686"/>
<circle cx="165.0" cy="850.2" r="3.6499999999999995" fill="#616161" stroke="#6a6a6a" stroke-width="0.9"/>
<circle cx="174.4" cy="850.2" r="3.6499999999999995" fill="#4e4e4e" stroke="#575757" stroke-width="0.9"/>
<circle cx="184.8" cy="850.5" r="0.8" fill="#868686"/><circle cx="182.6" cy="847.3" r="0.9" fill="#868686"/><circle cx="186.8" cy="849.8" r="1.3" fill="#868686"/>
<circle cx="250.7" cy="728.3" r="3.6499999999999995" fill="#747474" stroke="#7d7d7d" stroke-width="0.9"/>
<circle cx="260.7" cy="728.3" r="3.6499999999999995" fill="#747474" stroke="#7d7d7d" stroke-width="0.9"/>
<circle cx="271.4" cy="728.3" r="3.6499999999999995" fill="#747474" stroke="#7d7d7d" stroke-width="0.9"/>
<circle cx="281.7" cy="728.3" r="3.6499999999999995" fill="#747474" stroke="#7d7d7d" stroke-width="0.9"/>
<circle cx="291.3" cy="728.3" r="3.6499999999999995" fill="#666666" stroke="#6f6f6f" stroke-width="0.9"/>
<circle cx="301.2" cy="728.3" r="3.3" fill="#505050"/><circle cx="303.6" cy="727.0" r="1.4" fill="#686868"/><circle cx="302.7" cy="728.6" r="1.4" fill="#686868"/><circle cx="299.1" cy="726.6" r="1.4" fill="#686868"/><circle cx="302.5" cy="729.1" r="1.4" fill="#686868"/><circle cx="301.8" cy="727.5" r="1.4" fill="#686868"/><circle cx="300.0" cy="729.3" r="1.4" fill="#686868"/><circle cx="300.1" cy="725.9" r="1.4" fill="#686868"/><circle cx="302.3" cy="730.4" r="1.4" fill="#686868"/><circle cx="300.9" cy="725.8" r="1.4" fill="#686868"/><circle cx="298.7" cy="727.4" r="1.4" fill="#686868"/><circle cx="300.0" cy="729.7" r="1.4" fill="#686868"/>
<circle cx="311.5" cy="728.3" r="3.0" fill="#424242"/><circle cx="311.9" cy="731.1" r="1.15" fill="#727272"/><circle cx="310.0" cy="728.5" r="1.15" fill="#727272"/><circle cx="312.8" cy="730.7" r="1.15" fill="#727272"/><circle cx="309.4" cy="726.6" r="1.15" fill="#727272"/><circle cx="309.9" cy="729.7" r="1.15" fill="#727272"/><circle cx="313.0" cy="730.5" r="1.15" fill="#727272"/><circle cx="313.6" cy="728.6" r="1.15" fill="#727272"/><circle cx="311.6" cy="725.7" r="1.15" fill="#727272"/><circle cx="312.6" cy="729.1" r="1.15" fill="#727272"/><circle cx="312.9" cy="726.2" r="1.15" fill="#727272"/>
<circle cx="324.3" cy="725.9" r="1.1" fill="#7e7e7e"/><circle cx="324.2" cy="726.5" r="1.0" fill="#7e7e7e"/><circle cx="321.4" cy="728.7" r="1.0" fill="#7e7e7e"/><circle cx="322.6" cy="728.1" r="1.1" fill="#7e7e7e"/><circle cx="322.3" cy="728.7" r="1.2" fill="#7e7e7e"/><circle cx="321.8" cy="728.8" r="0.9" fill="#7e7e7e"/><circle cx="320.2" cy="726.2" r="0.8" fill="#7e7e7e"/><circle cx="322.3" cy="732.0" r="0.9" fill="#7e7e7e"/>
<circle cx="250.7" cy="740.1" r="3.6499999999999995" fill="#666666" stroke="#6f6f6f" stroke-width="0.9"/>
<circle cx="260.7" cy="740.1" r="3.6499999999999995" fill="#595959" stroke="#626262" stroke-width="0.9"/>
<circle cx="271.4" cy="740.1" r="3.3" fill="#505050"/><circle cx="269.7" cy="739.4" r="1.4" fill="#686868"/><circle cx="271.8" cy="738.0" r="1.4" fill="#686868"/><circle cx="271.9" cy="738.1" r="1.4" fill="#686868"/><circle cx="271.8" cy="741.2" r="1.4" fill="#686868"/><circle cx="273.6" cy="741.3" r="1.4" fill="#686868"/><circle cx="271.7" cy="740.4" r="1.4" fill="#686868"/><circle cx="272.6" cy="739.8" r="1.4" fill="#686868"/><circle cx="272.0" cy="739.6" r="1.4" fill="#686868"/><circle cx="270.1" cy="740.4" r="1.4" fill="#686868"/><circle cx="272.5" cy="738.2" r="1.4" fill="#686868"/><circle cx="269.9" cy="738.2" r="1.4" fill="#686868"/>
<circle cx="281.7" cy="740.1" r="3.0" fill="#424242"/><circle cx="282.9" cy="738.8" r="1.15" fill="#727272"/><circle cx="280.1" cy="738.9" r="1.15" fill="#727272"/><circle cx="284.0" cy="742.0" r="1.15" fill="#727272"/><circle cx="279.3" cy="738.5" r="1.15" fill="#727272"/><circle cx="282.3" cy="742.3" r="1.15" fill="#727272"/><circle cx="279.0" cy="740.7" r="1.15" fill="#727272"/><circle cx="283.2" cy="740.9" r="1.15" fill="#727272"/><circle cx="281.0" cy="740.2" r="1.15" fill="#727272"/><circle cx="279.1" cy="739.2" r="1.15" fill="#727272"/><circle cx="279.4" cy="741.3" r="1.15" fill="#727272"/>
<circle cx="290.3" cy="739.3" r="1.0" fill="#7e7e7e"/><circle cx="293.1" cy="740.1" r="1.1" fill="#7e7e7e"/><circle cx="292.4" cy="740.8" r="0.9" fill="#7e7e7e"/><circle cx="294.1" cy="738.8" r="1.3" fill="#7e7e7e"/><circle cx="294.0" cy="739.9" r="1.4" fill="#7e7e7e"/><circle cx="289.3" cy="739.6" r="1.4" fill="#7e7e7e"/><circle cx="294.3" cy="738.0" r="1.1" fill="#7e7e7e"/><circle cx="291.6" cy="738.1" r="1.4" fill="#7e7e7e"/>
<circle cx="302.6" cy="739.3" r="1.4" fill="#7e7e7e"/><circle cx="301.5" cy="740.8" r="1.2" fill="#7e7e7e"/><circle cx="300.5" cy="742.4" r="1.2" fill="#7e7e7e"/>
<circle cx="314.5" cy="740.9" r="1.0" fill="#7e7e7e"/>
<circle cx="250.7" cy="751.6" r="3.6499999999999995" fill="#666666" stroke="#6f6f6f" stroke-width="0.9"/>
<circle cx="260.7" cy="751.6" r="3.6499999999999995" fill="#666666" stroke="#6f6f6f" stroke-width="0.9"/>
<circle cx="271.4" cy="751.6" r="3.6499999999999995" fill="#666666" stroke="#6f6f6f" stroke-width="0.9"/>
<circle cx="281.7" cy="751.6" r="3.6499999999999995" fill="#666666" stroke="#6f6f6f" stroke-width="0.9"/>
<circle cx="291.3" cy="751.6" r="3.3" fill="#505050"/><circle cx="289.8" cy="752.3" r="1.4" fill="#686868"/><circle cx="291.2" cy="749.2" r="1.4" fill="#686868"/><circle cx="291.1" cy="752.5" r="1.4" fill="#686868"/><circle cx="290.8" cy="753.3" r="1.4" fill="#686868"/><circle cx="292.3" cy="752.1" r="1.4" fill="#686868"/><circle cx="291.5" cy="749.3" r="1.4" fill="#686868"/><circle cx="294.0" cy="751.2" r="1.4" fill="#686868"/><circle cx="292.5" cy="750.4" r="1.4" fill="#686868"/><circle cx="292.1" cy="752.9" r="1.4" fill="#686868"/><circle cx="289.3" cy="752.1" r="1.4" fill="#686868"/><circle cx="289.7" cy="751.2" r="1.4" fill="#686868"/>
<circle cx="301.2" cy="751.6" r="3.0" fill="#424242"/><circle cx="302.1" cy="750.4" r="1.15" fill="#727272"/><circle cx="298.2" cy="752.3" r="1.15" fill="#727272"/><circle cx="301.8" cy="750.1" r="1.15" fill="#727272"/><circle cx="301.3" cy="754.5" r="1.15" fill="#727272"/><circle cx="302.2" cy="751.7" r="1.15" fill="#727272"/><circle cx="299.0" cy="751.2" r="1.15" fill="#727272"/><circle cx="301.5" cy="752.1" r="1.15" fill="#727272"/><circle cx="302.0" cy="754.3" r="1.15" fill="#727272"/><circle cx="298.0" cy="752.3" r="1.15" fill="#727272"/><circle cx="301.9" cy="748.4" r="1.15" fill="#727272"/>
<circle cx="312.6" cy="751.9" r="0.8" fill="#7e7e7e"/><circle cx="309.9" cy="752.3" r="0.8" fill="#7e7e7e"/><circle cx="310.8" cy="751.4" r="1.0" fill="#7e7e7e"/>
<circle cx="321.9" cy="754.9" r="1.1" fill="#7e7e7e"/><circle cx="321.8" cy="752.0" r="1.1" fill="#7e7e7e"/><circle cx="319.8" cy="749.5" r="1.3" fill="#7e7e7e"/>
<circle cx="250.7" cy="773.4" r="3.6499999999999995" fill="#666666" stroke="#6f6f6f" stroke-width="0.9"/>
<circle cx="260.7" cy="773.4" r="3.6499999999999995" fill="#666666" stroke="#6f6f6f" stroke-width="0.9"/>
<circle cx="271.4" cy="773.4" r="3.6499999999999995" fill="#595959" stroke="#626262" stroke-width="0.9"/>
<circle cx="281.7" cy="773.4" r="3.6499999999999995" fill="#595959" stroke="#626262" stroke-width="0.9"/>
<circle cx="291.3" cy="773.4" r="3.0" fill="#424242"/><circle cx="291.8" cy="772.1" r="1.15" fill="#727272"/><circle cx="293.1" cy="775.5" r="1.15" fill="#727272"/><circle cx="291.8" cy="771.3" r="1.15" fill="#727272"/><circle cx="292.4" cy="771.4" r="1.15" fill="#727272"/><circle cx="291.1" cy="774.5" r="1.15" fill="#727272"/><circle cx="293.8" cy="773.7" r="1.15" fill="#727272"/><circle cx="293.8" cy="771.5" r="1.15" fill="#727272"/><circle cx="288.8" cy="773.9" r="1.15" fill="#727272"/><circle cx="293.9" cy="772.1" r="1.15" fill="#727272"/><circle cx="289.7" cy="772.2" r="1.15" fill="#727272"/>
<circle cx="300.1" cy="773.3" r="0.9" fill="#7e7e7e"/><circle cx="299.7" cy="769.9" r="1.1" fill="#7e7e7e"/><circle cx="299.7" cy="774.4" r="1.1" fill="#7e7e7e"/><circle cx="301.9" cy="771.3" r="1.4" fill="#7e7e7e"/><circle cx="302.1" cy="774.8" r="1.1" fill="#7e7e7e"/><circle cx="298.3" cy="775.2" r="1.3" fill="#7e7e7e"/><circle cx="303.6" cy="772.3" r="0.8" fill="#7e7e7e"/><circle cx="299.0" cy="772.3" r="1.1" fill="#7e7e7e"/>
<circle cx="310.9" cy="776.3" r="1.3" fill="#7e7e7e"/><circle cx="313.8" cy="775.1" r="1.0" fill="#7e7e7e"/><circle cx="308.0" cy="773.1" r="1.4" fill="#7e7e7e"/><circle cx="310.7" cy="772.5" r="1.4" fill="#7e7e7e"/><circle cx="312.3" cy="775.2" r="1.3" fill="#7e7e7e"/>
<circle cx="321.2" cy="774.8" r="1.4" fill="#7e7e7e"/>
<circle cx="250.7" cy="784.7" r="3.6499999999999995" fill="#747474" stroke="#7d7d7d" stroke-width="0.9"/>
<circle cx="260.7" cy="784.7" r="3.6499999999999995" fill="#747474" stroke="#7d7d7d" stroke-width="0.9"/>
<circle cx="271.4" cy="784.7" r="3.6499999999999995" fill="#747474" stroke="#7d7d7d" stroke-width="0.9"/>
<circle cx="281.7" cy="784.7" r="3.6499999999999995" fill="#666666" stroke="#6f6f6f" stroke-width="0.9"/>
<circle cx="291.3" cy="784.7" r="3.3" fill="#505050"/><circle cx="292.8" cy="784.2" r="1.4" fill="#686868"/><circle cx="290.1" cy="785.6" r="1.4" fill="#686868"/><circle cx="292.2" cy="785.7" r="1.4" fill="#686868"/><circle cx="292.1" cy="784.6" r="1.4" fill="#686868"/><circle cx="291.5" cy="785.9" r="1.4" fill="#686868"/><circle cx="293.1" cy="785.7" r="1.4" fill="#686868"/><circle cx="291.2" cy="782.1" r="1.4" fill="#686868"/><circle cx="289.6" cy="782.8" r="1.4" fill="#686868"/><circle cx="292.8" cy="784.8" r="1.4" fill="#686868"/><circle cx="292.0" cy="784.5" r="1.4" fill="#686868"/><circle cx="291.1" cy="786.6" r="1.4" fill="#686868"/>
<circle cx="300.9" cy="787.2" r="0.8" fill="#7e7e7e"/><circle cx="301.5" cy="788.4" r="0.9" fill="#7e7e7e"/><circle cx="302.1" cy="784.1" r="1.4" fill="#7e7e7e"/><circle cx="299.9" cy="782.2" r="0.9" fill="#7e7e7e"/><circle cx="304.2" cy="785.8" r="0.9" fill="#7e7e7e"/><circle cx="302.4" cy="787.8" r="1.3" fill="#7e7e7e"/><circle cx="304.7" cy="785.8" r="1.1" fill="#7e7e7e"/><circle cx="300.6" cy="785.2" r="1.0" fill="#7e7e7e"/>
<circle cx="313.1" cy="784.6" r="0.9" fill="#7e7e7e"/><circle cx="312.0" cy="785.4" r="1.0" fill="#7e7e7e"/><circle cx="312.0" cy="784.4" r="0.9" fill="#7e7e7e"/><circle cx="315.0" cy="783.3" r="1.4" fill="#7e7e7e"/><circle cx="311.5" cy="786.5" r="1.4" fill="#7e7e7e"/><circle cx="308.5" cy="785.0" r="1.0" fill="#7e7e7e"/><circle cx="313.3" cy="784.9" r="1.2" fill="#7e7e7e"/><circle cx="312.0" cy="782.2" r="1.1" fill="#7e7e7e"/>
<circle cx="319.7" cy="784.2" r="1.1" fill="#7e7e7e"/><circle cx="322.4" cy="783.6" r="1.2" fill="#7e7e7e"/><circle cx="324.9" cy="783.3" r="0.9" fill="#7e7e7e"/>
<circle cx="250.7" cy="817.2" r="3.6499999999999995" fill="#666666" stroke="#6f6f6f" stroke-width="0.9"/>
<circle cx="260.7" cy="817.2" r="3.6499999999999995" fill="#666666" stroke="#6f6f6f" stroke-width="0.9"/>
<circle cx="271.4" cy="817.2" r="3.6499999999999995" fill="#666666" stroke="#6f6f6f" stroke-width="0.9"/>
<circle cx="281.7" cy="817.2" r="3.6499999999999995" fill="#666666" stroke="#6f6f6f" stroke-width="0.9"/>
<circle cx="291.3" cy="817.2" r="3.0" fill="#424242"/><circle cx="294.2" cy="816.5" r="1.15" fill="#727272"/><circle cx="292.0" cy="818.5" r="1.15" fill="#727272"/><circle cx="291.5" cy="817.7" r="1.15" fill="#727272"/><circle cx="293.2" cy="816.9" r="1.15" fill="#727272"/><circle cx="291.9" cy="816.6" r="1.15" fill="#727272"/><circle cx="294.3" cy="817.5" r="1.15" fill="#727272"/><circle cx="292.2" cy="814.0" r="1.15" fill="#727272"/><circle cx="290.4" cy="815.1" r="1.15" fill="#727272"/><circle cx="291.4" cy="816.4" r="1.15" fill="#727272"/><circle cx="289.3" cy="816.7" r="1.15" fill="#727272"/>
<circle cx="302.8" cy="819.3" r="1.0" fill="#7e7e7e"/><circle cx="299.3" cy="817.1" r="1.0" fill="#7e7e7e"/><circle cx="299.5" cy="819.3" r="1.4" fill="#7e7e7e"/><circle cx="304.4" cy="815.9" r="1.3" fill="#7e7e7e"/><circle cx="300.3" cy="820.8" r="1.0" fill="#7e7e7e"/><circle cx="302.9" cy="818.8" r="1.2" fill="#7e7e7e"/><circle cx="299.7" cy="819.6" r="1.0" fill="#7e7e7e"/><circle cx="303.3" cy="816.7" r="1.1" fill="#7e7e7e"/>
<circle cx="308.1" cy="816.5" r="1.4" fill="#7e7e7e"/><circle cx="309.4" cy="816.8" r="1.2" fill="#7e7e7e"/><circle cx="313.4" cy="818.1" r="1.3" fill="#7e7e7e"/>
<circle cx="321.9" cy="816.7" r="1.3" fill="#7e7e7e"/>
<circle cx="250.7" cy="828.2" r="3.6499999999999995" fill="#747474" stroke="#7d7d7d" stroke-width="0.9"/>
<circle cx="260.7" cy="828.2" r="3.6499999999999995" fill="#747474" stroke="#7d7d7d" stroke-width="0.9"/>
<circle cx="271.4" cy="828.2" r="3.6499999999999995" fill="#747474" stroke="#7d7d7d" stroke-width="0.9"/>
<circle cx="281.7" cy="828.2" r="3.6499999999999995" fill="#666666" stroke="#6f6f6f" stroke-width="0.9"/>
<circle cx="291.3" cy="828.2" r="3.0" fill="#424242"/><circle cx="288.9" cy="830.4" r="1.15" fill="#727272"/><circle cx="290.4" cy="829.2" r="1.15" fill="#727272"/><circle cx="288.4" cy="827.3" r="1.15" fill="#727272"/><circle cx="288.5" cy="829.5" r="1.15" fill="#727272"/><circle cx="290.9" cy="826.5" r="1.15" fill="#727272"/><circle cx="290.6" cy="830.3" r="1.15" fill="#727272"/><circle cx="289.8" cy="829.3" r="1.15" fill="#727272"/><circle cx="289.5" cy="825.7" r="1.15" fill="#727272"/><circle cx="290.4" cy="827.7" r="1.15" fill="#727272"/><circle cx="291.6" cy="830.0" r="1.15" fill="#727272"/>
<circle cx="300.5" cy="827.6" r="0.8" fill="#7e7e7e"/><circle cx="300.5" cy="829.6" r="0.8" fill="#7e7e7e"/><circle cx="297.7" cy="827.3" r="1.1" fill="#7e7e7e"/><circle cx="300.9" cy="824.9" r="1.3" fill="#7e7e7e"/><circle cx="303.0" cy="827.1" r="1.2" fill="#7e7e7e"/>
<circle cx="314.0" cy="830.6" r="1.0" fill="#7e7e7e"/><circle cx="308.0" cy="828.7" r="1.0" fill="#7e7e7e"/><circle cx="312.7" cy="831.3" r="1.2" fill="#7e7e7e"/>
<circle cx="322.1" cy="828.4" r="1.0" fill="#7e7e7e"/>
</g>
<path d="M237.5 852.8 L241 849.3" stroke="#c8c8c8" stroke-width="1.1"/>
<path d="M324.5 852.8 L328 849.3" stroke="#c8c8c8" stroke-width="1.1"/>
<path d="M234.0 714 L242.0 722.0M235.6 714 L242.0 720.4M237.2 714 L242.0 718.8M238.8 714 L242.0 717.2" stroke="#545454" stroke-width="0.7"/>
<text x="151.90" y="730.40" font-size="10.8" font-weight="normal" text-anchor="end" ><tspan fill="#000" font-style="italic">Wild type</tspan></text>
<text x="151.90" y="742.00" font-size="10.8" font-weight="normal" text-anchor="end" ><tspan fill="#000" font-style="italic">rad54<tspan dx="0.084em" font-family="Liberation Serif">Δ</tspan></tspan></text>
<text x="151.90" y="754.10" font-size="10.8" font-weight="normal" text-anchor="end" ><tspan fill="#000" font-style="italic">pol30-KKRR</tspan></text>
<text x="151.90" y="764.80" font-size="10.8" font-weight="normal" text-anchor="end" ><tspan fill="#000" font-style="italic">rad54<tspan dx="0.084em" font-family="Liberation Serif">Δ</tspan> pol30-KKRR</tspan></text>
<text x="151.90" y="775.00" font-size="10.8" font-weight="normal" text-anchor="end" ><tspan fill="#000" font-style="italic">rad51<tspan dx="0.084em" font-family="Liberation Serif">Δ</tspan></tspan></text>
<text x="151.90" y="786.40" font-size="10.8" font-weight="normal" text-anchor="end" ><tspan fill="#000" font-style="italic">rad51<tspan dx="0.084em" font-family="Liberation Serif">Δ</tspan> rad54<tspan dx="0.084em" font-family="Liberation Serif">Δ</tspan></tspan></text>
<text x="151.90" y="798.30" font-size="10.8" font-weight="normal" text-anchor="end" ><tspan fill="#000" font-style="italic">rad51<tspan dx="0.084em" font-family="Liberation Serif">Δ</tspan> pol30-KKRR</tspan></text>
<text x="151.90" y="809.60" font-size="10.8" font-weight="normal" text-anchor="end" ><tspan fill="#000" font-style="italic">rad51<tspan dx="0.084em" font-family="Liberation Serif">Δ</tspan> rad54<tspan dx="0.084em" font-family="Liberation Serif">Δ</tspan> pol30-KKRR</tspan></text>
<text x="151.90" y="821.40" font-size="10.8" font-weight="normal" text-anchor="end" ><tspan fill="#4472c4" font-style="italic">rad51-ED</tspan></text>
<text x="151.90" y="831.20" font-size="10.8" font-weight="normal" text-anchor="end" ><tspan fill="#4472c4" font-style="italic">rad51-ED</tspan><tspan fill="#000" font-style="italic"> rad54<tspan dx="0.084em" font-family="Liberation Serif">Δ</tspan></tspan></text>
<text x="151.90" y="843.50" font-size="10.8" font-weight="normal" text-anchor="end" ><tspan fill="#4472c4" font-style="italic">rad51-ED</tspan><tspan fill="#000" font-style="italic"> pol30-KKRR</tspan></text>
<text x="151.90" y="855.70" font-size="10.8" font-weight="normal" text-anchor="end" ><tspan fill="#4472c4" font-style="italic">rad51-ED</tspan><tspan fill="#000" font-style="italic"> rad54<tspan dx="0.084em" font-family="Liberation Serif">Δ</tspan> pol30-KKRR</tspan></text>
<text x="348.70" y="688.30" font-size="17" font-weight="bold" text-anchor="start" ><tspan fill="#000" font-style="normal">G.</tspan></text>
<text x="374.70" y="688.30" font-size="17" font-weight="bold" text-anchor="start" ><tspan fill="#000" font-style="italic">pol30-KKRR</tspan></text>
<text x="480.20" y="688.30" font-size="17" font-weight="bold" text-anchor="start" ><tspan fill="#f40f0f" font-style="italic">rad51-KN</tspan></text>
<text x="552.20" y="712.20" font-size="12.1" font-weight="bold" text-anchor="middle" ><tspan fill="#000" font-style="normal">YPD</tspan></text>
<text x="639.70" y="712.20" font-size="12.1" font-weight="bold" text-anchor="middle" ><tspan fill="#000" font-style="normal">+0.0033% MMS</tspan></text>
<rect x="509" y="716" width="174" height="141.29999999999995" fill="#888" filter="url(#sh)"/>
<rect x="507" y="714" width="174" height="141.29999999999995" fill="#000"/>
<rect x="509" y="716" width="84" height="137.29999999999995" fill="#474747"/>
<rect x="596" y="716" width="83" height="137.29999999999995" fill="#3a3a3a"/>
<rect x="509.5" y="716.5" width="82.5" height="136.29999999999995" fill="none" stroke="#5d5d5d" stroke-width="0.8"/>
<rect x="596.5" y="716.5" width="82" height="136.29999999999995" fill="none" stroke="#505050" stroke-width="0.8"/>
<g filter="url(#bl)">
<circle cx="515.4" cy="725.3" r="3.6499999999999995" fill="#7f7f7f" stroke="#888888" stroke-width="0.9"/>
<circle cx="525.6" cy="725.3" r="3.6499999999999995" fill="#7f7f7f" stroke="#888888" stroke-width="0.9"/>
<circle cx="535.9" cy="725.3" r="3.6499999999999995" fill="#7f7f7f" stroke="#888888" stroke-width="0.9"/>
<circle cx="546.2" cy="725.3" r="3.6499999999999995" fill="#7f7f7f" stroke="#888888" stroke-width="0.9"/>
<circle cx="556.5" cy="725.3" r="3.6499999999999995" fill="#727272" stroke="#7b7b7b" stroke-width="0.9"/>
<circle cx="566.1" cy="725.3" r="3.3" fill="#696969"/><circle cx="566.2" cy="726.2" r="1.4" fill="#818181"/><circle cx="565.2" cy="726.0" r="1.4" fill="#818181"/><circle cx="567.7" cy="726.0" r="1.4" fill="#818181"/><circle cx="568.3" cy="724.1" r="1.4" fill="#818181"/><circle cx="566.2" cy="724.0" r="1.4" fill="#818181"/><circle cx="564.7" cy="725.0" r="1.4" fill="#818181"/><circle cx="566.5" cy="726.1" r="1.4" fill="#818181"/><circle cx="566.7" cy="727.9" r="1.4" fill="#818181"/><circle cx="567.3" cy="723.1" r="1.4" fill="#818181"/><circle cx="566.5" cy="724.1" r="1.4" fill="#818181"/><circle cx="565.3" cy="727.4" r="1.4" fill="#818181"/>
<circle cx="575.4" cy="721.9" r="1.3" fill="#979797"/><circle cx="578.1" cy="726.7" r="1.2" fill="#979797"/><circle cx="574.7" cy="725.3" r="1.1" fill="#979797"/><circle cx="578.9" cy="727.2" r="1.3" fill="#979797"/><circle cx="574.2" cy="724.8" r="1.3" fill="#979797"/><circle cx="572.7" cy="723.8" r="1.3" fill="#979797"/><circle cx="573.8" cy="725.2" r="1.2" fill="#979797"/><circle cx="574.8" cy="725.7" r="1.0" fill="#979797"/>
<circle cx="585.6" cy="724.9" r="0.8" fill="#979797"/><circle cx="584.3" cy="724.2" r="1.1" fill="#979797"/><circle cx="583.6" cy="725.6" r="1.4" fill="#979797"/><circle cx="586.1" cy="727.2" r="0.9" fill="#979797"/><circle cx="584.4" cy="724.2" r="1.0" fill="#979797"/>
<circle cx="515.4" cy="737.4" r="3.6499999999999995" fill="#8d8d8d" stroke="#969696" stroke-width="0.9"/>
<circle cx="525.6" cy="737.4" r="3.6499999999999995" fill="#8d8d8d" stroke="#969696" stroke-width="0.9"/>
<circle cx="535.9" cy="737.4" r="3.6499999999999995" fill="#8d8d8d" stroke="#969696" stroke-width="0.9"/>
<circle cx="546.2" cy="737.4" r="3.6499999999999995" fill="#7f7f7f" stroke="#888888" stroke-width="0.9"/>
<circle cx="556.5" cy="737.4" r="3.3" fill="#696969"/><circle cx="556.5" cy="735.8" r="1.4" fill="#818181"/><circle cx="554.0" cy="736.4" r="1.4" fill="#818181"/><circle cx="557.1" cy="737.8" r="1.4" fill="#818181"/><circle cx="556.8" cy="739.8" r="1.4" fill="#818181"/><circle cx="555.5" cy="736.5" r="1.4" fill="#818181"/><circle cx="555.9" cy="738.4" r="1.4" fill="#818181"/><circle cx="555.9" cy="737.5" r="1.4" fill="#818181"/><circle cx="555.6" cy="734.9" r="1.4" fill="#818181"/><circle cx="558.8" cy="736.7" r="1.4" fill="#818181"/><circle cx="556.9" cy="737.3" r="1.4" fill="#818181"/><circle cx="555.8" cy="740.1" r="1.4" fill="#818181"/>
<circle cx="566.1" cy="737.4" r="3.0" fill="#5b5b5b"/><circle cx="566.4" cy="735.5" r="1.15" fill="#8b8b8b"/><circle cx="568.4" cy="736.5" r="1.15" fill="#8b8b8b"/><circle cx="566.8" cy="736.0" r="1.15" fill="#8b8b8b"/><circle cx="566.8" cy="739.3" r="1.15" fill="#8b8b8b"/><circle cx="567.3" cy="738.8" r="1.15" fill="#8b8b8b"/><circle cx="567.8" cy="737.0" r="1.15" fill="#8b8b8b"/><circle cx="566.6" cy="737.4" r="1.15" fill="#8b8b8b"/><circle cx="567.5" cy="739.9" r="1.15" fill="#8b8b8b"/><circle cx="565.1" cy="738.6" r="1.15" fill="#8b8b8b"/><circle cx="568.8" cy="739.3" r="1.15" fill="#8b8b8b"/>
<circle cx="574.7" cy="738.0" r="0.8" fill="#979797"/><circle cx="576.8" cy="737.8" r="1.2" fill="#979797"/><circle cx="576.0" cy="737.7" r="1.1" fill="#979797"/><circle cx="575.8" cy="741.2" r="0.9" fill="#979797"/><circle cx="572.7" cy="736.8" r="1.0" fill="#979797"/><circle cx="578.1" cy="737.2" r="0.9" fill="#979797"/><circle cx="575.5" cy="737.6" r="1.1" fill="#979797"/><circle cx="575.8" cy="740.9" r="1.3" fill="#979797"/>
<circle cx="585.1" cy="737.4" r="1.0" fill="#979797"/><circle cx="585.5" cy="738.7" r="0.9" fill="#979797"/><circle cx="586.1" cy="736.7" r="0.8" fill="#979797"/>
<circle cx="515.4" cy="748.1" r="3.6499999999999995" fill="#727272" stroke="#7b7b7b" stroke-width="0.9"/>
<circle cx="525.6" cy="748.1" r="3.6499999999999995" fill="#727272" stroke="#7b7b7b" stroke-width="0.9"/>
<circle cx="535.9" cy="748.1" r="3.6499999999999995" fill="#727272" stroke="#7b7b7b" stroke-width="0.9"/>
<circle cx="546.2" cy="748.1" r="3.6499999999999995" fill="#727272" stroke="#7b7b7b" stroke-width="0.9"/>
<circle cx="556.5" cy="748.1" r="3.3" fill="#696969"/><circle cx="558.4" cy="747.2" r="1.4" fill="#818181"/><circle cx="558.3" cy="748.0" r="1.4" fill="#818181"/><circle cx="558.3" cy="746.8" r="1.4" fill="#818181"/><circle cx="557.1" cy="745.8" r="1.4" fill="#818181"/><circle cx="555.6" cy="748.1" r="1.4" fill="#818181"/><circle cx="557.1" cy="750.6" r="1.4" fill="#818181"/><circle cx="558.7" cy="746.5" r="1.4" fill="#818181"/><circle cx="555.3" cy="750.0" r="1.4" fill="#818181"/><circle cx="557.2" cy="746.0" r="1.4" fill="#818181"/><circle cx="557.3" cy="746.2" r="1.4" fill="#818181"/><circle cx="555.2" cy="746.2" r="1.4" fill="#818181"/>
<circle cx="566.1" cy="748.1" r="3.0" fill="#5b5b5b"/><circle cx="565.7" cy="751.2" r="1.15" fill="#8b8b8b"/><circle cx="566.8" cy="747.9" r="1.15" fill="#8b8b8b"/><circle cx="569.3" cy="747.5" r="1.15" fill="#8b8b8b"/><circle cx="565.8" cy="747.7" r="1.15" fill="#8b8b8b"/><circle cx="566.9" cy="747.5" r="1.15" fill="#8b8b8b"/><circle cx="568.6" cy="747.6" r="1.15" fill="#8b8b8b"/><circle cx="567.1" cy="748.5" r="1.15" fill="#8b8b8b"/><circle cx="564.5" cy="746.3" r="1.15" fill="#8b8b8b"/><circle cx="566.0" cy="744.9" r="1.15" fill="#8b8b8b"/><circle cx="566.1" cy="748.2" r="1.15" fill="#8b8b8b"/>
<circle cx="576.0" cy="748.0" r="1.3" fill="#979797"/><circle cx="578.2" cy="750.3" r="1.3" fill="#979797"/><circle cx="577.6" cy="746.4" r="1.3" fill="#979797"/><circle cx="576.7" cy="750.8" r="1.0" fill="#979797"/><circle cx="578.3" cy="746.1" r="1.1" fill="#979797"/>
<circle cx="585.1" cy="748.1" r="0.8" fill="#979797"/>
<circle cx="515.4" cy="758.8" r="3.6499999999999995" fill="#5f5f5f" stroke="#686868" stroke-width="0.9"/>
<circle cx="525.6" cy="758.8" r="3.6499999999999995" fill="#595959" stroke="#626262" stroke-width="0.9"/>
<circle cx="535.9" cy="758.8" r="3.6499999999999995" fill="#535353" stroke="#5c5c5c" stroke-width="0.9"/>
<circle cx="544.3" cy="757.5" r="1.3" fill="#979797"/>
<circle cx="515.4" cy="769.9" r="3.6499999999999995" fill="#7f7f7f" stroke="#888888" stroke-width="0.9"/>
<circle cx="525.6" cy="769.9" r="3.6499999999999995" fill="#7f7f7f" stroke="#888888" stroke-width="0.9"/>
<circle cx="535.9" cy="769.9" r="3.6499999999999995" fill="#7f7f7f" stroke="#888888" stroke-width="0.9"/>
<circle cx="546.2" cy="769.9" r="3.6499999999999995" fill="#7f7f7f" stroke="#888888" stroke-width="0.9"/>
<circle cx="556.5" cy="769.9" r="3.3" fill="#696969"/><circle cx="555.7" cy="769.2" r="1.4" fill="#818181"/><circle cx="554.9" cy="771.8" r="1.4" fill="#818181"/><circle cx="556.2" cy="769.9" r="1.4" fill="#818181"/><circle cx="557.8" cy="767.7" r="1.4" fill="#818181"/><circle cx="558.3" cy="771.0" r="1.4" fill="#818181"/><circle cx="554.7" cy="771.6" r="1.4" fill="#818181"/><circle cx="556.0" cy="771.2" r="1.4" fill="#818181"/><circle cx="553.8" cy="770.1" r="1.4" fill="#818181"/><circle cx="557.3" cy="770.4" r="1.4" fill="#818181"/><circle cx="554.6" cy="768.1" r="1.4" fill="#818181"/><circle cx="554.7" cy="769.8" r="1.4" fill="#818181"/>
<circle cx="566.1" cy="769.9" r="3.0" fill="#5b5b5b"/><circle cx="567.9" cy="767.7" r="1.15" fill="#8b8b8b"/><circle cx="568.9" cy="771.1" r="1.15" fill="#8b8b8b"/><circle cx="566.6" cy="771.4" r="1.15" fill="#8b8b8b"/><circle cx="567.1" cy="768.2" r="1.15" fill="#8b8b8b"/><circle cx="566.4" cy="768.8" r="1.15" fill="#8b8b8b"/><circle cx="566.9" cy="769.1" r="1.15" fill="#8b8b8b"/><circle cx="567.4" cy="771.6" r="1.15" fill="#8b8b8b"/><circle cx="564.9" cy="771.8" r="1.15" fill="#8b8b8b"/><circle cx="568.3" cy="768.4" r="1.15" fill="#8b8b8b"/><circle cx="567.7" cy="770.0" r="1.15" fill="#8b8b8b"/>
<circle cx="573.6" cy="769.3" r="1.2" fill="#979797"/><circle cx="575.2" cy="770.0" r="0.9" fill="#979797"/><circle cx="576.9" cy="768.4" r="1.3" fill="#979797"/><circle cx="578.5" cy="769.7" r="1.2" fill="#979797"/><circle cx="574.5" cy="768.8" r="1.3" fill="#979797"/><circle cx="572.3" cy="770.6" r="1.0" fill="#979797"/><circle cx="578.0" cy="767.5" r="1.2" fill="#979797"/><circle cx="574.9" cy="770.2" r="1.3" fill="#979797"/>
<circle cx="583.6" cy="772.1" r="0.9" fill="#979797"/><circle cx="586.2" cy="770.4" r="1.3" fill="#979797"/><circle cx="587.0" cy="773.1" r="1.0" fill="#979797"/><circle cx="583.8" cy="769.1" r="1.2" fill="#979797"/><circle cx="587.1" cy="771.0" r="1.4" fill="#979797"/>
<circle cx="515.4" cy="781.7" r="3.6499999999999995" fill="#7f7f7f" stroke="#888888" stroke-width="0.9"/>
<circle cx="525.6" cy="781.7" r="3.6499999999999995" fill="#7f7f7f" stroke="#888888" stroke-width="0.9"/>
<circle cx="535.9" cy="781.7" r="3.6499999999999995" fill="#7f7f7f" stroke="#888888" stroke-width="0.9"/>
<circle cx="546.2" cy="781.7" r="3.6499999999999995" fill="#727272" stroke="#7b7b7b" stroke-width="0.9"/>
<circle cx="556.5" cy="781.7" r="3.3" fill="#696969"/><circle cx="557.5" cy="783.7" r="1.4" fill="#818181"/><circle cx="555.8" cy="783.1" r="1.4" fill="#818181"/><circle cx="556.9" cy="781.8" r="1.4" fill="#818181"/><circle cx="558.9" cy="780.9" r="1.4" fill="#818181"/><circle cx="557.3" cy="779.3" r="1.4" fill="#818181"/><circle cx="557.6" cy="781.4" r="1.4" fill="#818181"/><circle cx="554.8" cy="780.7" r="1.4" fill="#818181"/><circle cx="554.1" cy="780.5" r="1.4" fill="#818181"/><circle cx="556.7" cy="779.0" r="1.4" fill="#818181"/><circle cx="558.2" cy="783.2" r="1.4" fill="#818181"/><circle cx="555.4" cy="779.5" r="1.4" fill="#818181"/>
<circle cx="566.1" cy="781.7" r="3.0" fill="#5b5b5b"/><circle cx="563.9" cy="779.7" r="1.15" fill="#8b8b8b"/><circle cx="565.1" cy="784.7" r="1.15" fill="#8b8b8b"/><circle cx="564.1" cy="783.1" r="1.15" fill="#8b8b8b"/><circle cx="568.2" cy="780.1" r="1.15" fill="#8b8b8b"/><circle cx="565.6" cy="783.0" r="1.15" fill="#8b8b8b"/><circle cx="564.9" cy="783.9" r="1.15" fill="#8b8b8b"/><circle cx="569.2" cy="781.6" r="1.15" fill="#8b8b8b"/><circle cx="564.6" cy="782.8" r="1.15" fill="#8b8b8b"/><circle cx="566.7" cy="780.3" r="1.15" fill="#8b8b8b"/><circle cx="565.9" cy="781.8" r="1.15" fill="#8b8b8b"/>
<circle cx="576.8" cy="784.0" r="1.2" fill="#979797"/><circle cx="574.4" cy="780.5" r="1.4" fill="#979797"/><circle cx="575.1" cy="781.0" r="0.8" fill="#979797"/><circle cx="579.5" cy="781.1" r="1.4" fill="#979797"/><circle cx="574.5" cy="780.7" r="0.9" fill="#979797"/><circle cx="575.7" cy="783.0" r="1.4" fill="#979797"/><circle cx="578.3" cy="779.7" r="0.9" fill="#979797"/><circle cx="575.9" cy="783.3" r="1.4" fill="#979797"/>
<circle cx="587.1" cy="784.5" r="1.2" fill="#979797"/>
<circle cx="515.4" cy="791.8" r="3.6499999999999995" fill="#727272" stroke="#7b7b7b" stroke-width="0.9"/>
<circle cx="525.6" cy="791.8" r="3.6499999999999995" fill="#727272" stroke="#7b7b7b" stroke-width="0.9"/>
<circle cx="535.9" cy="791.8" r="3.0" fill="#5b5b5b"/><circle cx="532.8" cy="790.9" r="1.15" fill="#8b8b8b"/><circle cx="535.7" cy="794.0" r="1.15" fill="#8b8b8b"/><circle cx="536.3" cy="792.5" r="1.15" fill="#8b8b8b"/><circle cx="537.5" cy="792.1" r="1.15" fill="#8b8b8b"/><circle cx="536.3" cy="792.2" r="1.15" fill="#8b8b8b"/><circle cx="537.5" cy="791.7" r="1.15" fill="#8b8b8b"/><circle cx="538.0" cy="790.1" r="1.15" fill="#8b8b8b"/><circle cx="535.6" cy="789.3" r="1.15" fill="#8b8b8b"/><circle cx="538.8" cy="790.9" r="1.15" fill="#8b8b8b"/><circle cx="535.5" cy="789.5" r="1.15" fill="#8b8b8b"/>
<circle cx="545.2" cy="789.0" r="1.1" fill="#979797"/><circle cx="545.2" cy="791.8" r="1.3" fill="#979797"/><circle cx="545.6" cy="791.9" r="0.9" fill="#979797"/><circle cx="547.2" cy="790.8" r="1.0" fill="#979797"/><circle cx="544.8" cy="788.7" r="1.0" fill="#979797"/><circle cx="544.6" cy="793.2" r="0.8" fill="#979797"/><circle cx="546.4" cy="791.6" r="1.4" fill="#979797"/><circle cx="546.8" cy="792.6" r="1.3" fill="#979797"/>
<circle cx="557.1" cy="790.6" r="1.1" fill="#979797"/><circle cx="553.5" cy="792.2" r="0.9" fill="#979797"/><circle cx="558.2" cy="788.4" r="1.2" fill="#979797"/>
<circle cx="569.3" cy="790.1" r="1.0" fill="#979797"/>
<circle cx="515.4" cy="803.1" r="3.6499999999999995" fill="#727272" stroke="#7b7b7b" stroke-width="0.9"/>
<circle cx="525.6" cy="803.1" r="3.6499999999999995" fill="#727272" stroke="#7b7b7b" stroke-width="0.9"/>
<circle cx="535.9" cy="803.1" r="3.0" fill="#5b5b5b"/><circle cx="537.6" cy="800.7" r="1.15" fill="#8b8b8b"/><circle cx="535.2" cy="802.6" r="1.15" fill="#8b8b8b"/><circle cx="533.6" cy="801.0" r="1.15" fill="#8b8b8b"/><circle cx="535.0" cy="805.5" r="1.15" fill="#8b8b8b"/><circle cx="537.8" cy="801.6" r="1.15" fill="#8b8b8b"/><circle cx="538.3" cy="803.7" r="1.15" fill="#8b8b8b"/><circle cx="535.8" cy="806.1" r="1.15" fill="#8b8b8b"/><circle cx="535.0" cy="801.7" r="1.15" fill="#8b8b8b"/><circle cx="537.9" cy="801.6" r="1.15" fill="#8b8b8b"/><circle cx="534.3" cy="805.6" r="1.15" fill="#8b8b8b"/>
<circle cx="548.9" cy="800.9" r="1.3" fill="#979797"/><circle cx="544.6" cy="800.6" r="1.2" fill="#979797"/><circle cx="542.5" cy="802.5" r="1.0" fill="#979797"/><circle cx="548.8" cy="804.6" r="1.1" fill="#979797"/><circle cx="543.7" cy="802.4" r="0.9" fill="#979797"/><circle cx="546.4" cy="803.7" r="1.3" fill="#979797"/><circle cx="548.7" cy="801.5" r="0.9" fill="#979797"/><circle cx="549.5" cy="802.7" r="1.1" fill="#979797"/>
<circle cx="559.9" cy="803.1" r="1.2" fill="#979797"/><circle cx="556.3" cy="802.9" r="1.2" fill="#979797"/><circle cx="558.7" cy="803.6" r="0.9" fill="#979797"/>
<circle cx="563.9" cy="805.8" r="1.2" fill="#979797"/>
<circle cx="515.4" cy="814.8" r="3.6499999999999995" fill="#7f7f7f" stroke="#888888" stroke-width="0.9"/>
<circle cx="525.6" cy="814.8" r="3.6499999999999995" fill="#7f7f7f" stroke="#888888" stroke-width="0.9"/>
<circle cx="535.9" cy="814.8" r="3.6499999999999995" fill="#7f7f7f" stroke="#888888" stroke-width="0.9"/>
<circle cx="546.2" cy="814.8" r="3.6499999999999995" fill="#7f7f7f" stroke="#888888" stroke-width="0.9"/>
<circle cx="556.5" cy="814.8" r="3.6499999999999995" fill="#727272" stroke="#7b7b7b" stroke-width="0.9"/>
<circle cx="566.1" cy="814.8" r="3.3" fill="#696969"/><circle cx="566.7" cy="813.4" r="1.4" fill="#818181"/><circle cx="564.4" cy="816.2" r="1.4" fill="#818181"/><circle cx="567.9" cy="815.2" r="1.4" fill="#818181"/><circle cx="568.5" cy="814.4" r="1.4" fill="#818181"/><circle cx="567.1" cy="813.6" r="1.4" fill="#818181"/><circle cx="565.2" cy="812.5" r="1.4" fill="#818181"/><circle cx="565.6" cy="813.0" r="1.4" fill="#818181"/><circle cx="566.3" cy="815.1" r="1.4" fill="#818181"/><circle cx="568.1" cy="813.0" r="1.4" fill="#818181"/><circle cx="565.7" cy="817.2" r="1.4" fill="#818181"/><circle cx="564.2" cy="816.0" r="1.4" fill="#818181"/>
<circle cx="576.7" cy="813.4" r="1.2" fill="#979797"/><circle cx="575.7" cy="817.2" r="0.8" fill="#979797"/><circle cx="575.7" cy="816.4" r="1.3" fill="#979797"/><circle cx="577.9" cy="817.1" r="0.9" fill="#979797"/><circle cx="576.9" cy="814.7" r="0.9" fill="#979797"/><circle cx="576.7" cy="818.3" r="1.2" fill="#979797"/><circle cx="577.6" cy="813.3" r="0.9" fill="#979797"/><circle cx="574.6" cy="816.6" r="1.4" fill="#979797"/>
<circle cx="586.1" cy="816.0" r="1.3" fill="#979797"/><circle cx="588.2" cy="817.2" r="1.0" fill="#979797"/><circle cx="582.8" cy="813.6" r="1.3" fill="#979797"/><circle cx="588.4" cy="816.3" r="0.9" fill="#979797"/><circle cx="585.3" cy="814.5" r="1.3" fill="#979797"/><circle cx="585.9" cy="815.9" r="0.8" fill="#979797"/><circle cx="584.6" cy="816.4" r="1.4" fill="#979797"/><circle cx="583.9" cy="813.6" r="1.4" fill="#979797"/>
<circle cx="515.4" cy="825.7" r="3.6499999999999995" fill="#7f7f7f" stroke="#888888" stroke-width="0.9"/>
<circle cx="525.6" cy="825.7" r="3.6499999999999995" fill="#7f7f7f" stroke="#888888" stroke-width="0.9"/>
<circle cx="535.9" cy="825.7" r="3.6499999999999995" fill="#7f7f7f" stroke="#888888" stroke-width="0.9"/>
<circle cx="546.2" cy="825.7" r="3.6499999999999995" fill="#727272" stroke="#7b7b7b" stroke-width="0.9"/>
<circle cx="556.5" cy="825.7" r="3.3" fill="#696969"/><circle cx="557.1" cy="826.8" r="1.4" fill="#818181"/><circle cx="559.1" cy="825.0" r="1.4" fill="#818181"/><circle cx="555.4" cy="823.2" r="1.4" fill="#818181"/><circle cx="559.0" cy="826.6" r="1.4" fill="#818181"/><circle cx="555.9" cy="823.5" r="1.4" fill="#818181"/><circle cx="557.0" cy="824.9" r="1.4" fill="#818181"/><circle cx="556.8" cy="826.7" r="1.4" fill="#818181"/><circle cx="554.4" cy="826.0" r="1.4" fill="#818181"/><circle cx="554.9" cy="825.3" r="1.4" fill="#818181"/><circle cx="556.4" cy="823.1" r="1.4" fill="#818181"/><circle cx="556.5" cy="825.2" r="1.4" fill="#818181"/>
<circle cx="566.1" cy="825.7" r="3.3" fill="#696969"/><circle cx="566.9" cy="826.8" r="1.4" fill="#818181"/><circle cx="566.3" cy="827.8" r="1.4" fill="#818181"/><circle cx="566.9" cy="827.8" r="1.4" fill="#818181"/><circle cx="565.2" cy="827.1" r="1.4" fill="#818181"/><circle cx="565.4" cy="823.1" r="1.4" fill="#818181"/><circle cx="566.7" cy="827.2" r="1.4" fill="#818181"/><circle cx="567.4" cy="825.6" r="1.4" fill="#818181"/><circle cx="567.3" cy="825.9" r="1.4" fill="#818181"/><circle cx="567.2" cy="823.6" r="1.4" fill="#818181"/><circle cx="567.9" cy="825.0" r="1.4" fill="#818181"/><circle cx="567.6" cy="826.1" r="1.4" fill="#818181"/>
<circle cx="575.8" cy="825.7" r="3.0" fill="#5b5b5b"/><circle cx="575.4" cy="823.9" r="1.15" fill="#8b8b8b"/><circle cx="577.0" cy="827.1" r="1.15" fill="#8b8b8b"/><circle cx="574.1" cy="826.1" r="1.15" fill="#8b8b8b"/><circle cx="574.9" cy="826.0" r="1.15" fill="#8b8b8b"/><circle cx="578.6" cy="826.2" r="1.15" fill="#8b8b8b"/><circle cx="575.6" cy="823.8" r="1.15" fill="#8b8b8b"/><circle cx="577.0" cy="826.7" r="1.15" fill="#8b8b8b"/><circle cx="572.9" cy="824.6" r="1.15" fill="#8b8b8b"/><circle cx="572.6" cy="826.1" r="1.15" fill="#8b8b8b"/><circle cx="574.6" cy="825.5" r="1.15" fill="#8b8b8b"/>
<circle cx="583.4" cy="823.9" r="1.2" fill="#979797"/><circle cx="585.4" cy="825.4" r="1.1" fill="#979797"/><circle cx="585.7" cy="824.8" r="0.8" fill="#979797"/><circle cx="586.0" cy="827.1" r="1.1" fill="#979797"/><circle cx="584.3" cy="828.2" r="0.9" fill="#979797"/>
<circle cx="515.4" cy="836.5" r="3.6499999999999995" fill="#727272" stroke="#7b7b7b" stroke-width="0.9"/>
<circle cx="525.6" cy="836.5" r="3.6499999999999995" fill="#727272" stroke="#7b7b7b" stroke-width="0.9"/>
<circle cx="535.9" cy="836.5" r="3.6499999999999995" fill="#727272" stroke="#7b7b7b" stroke-width="0.9"/>
<circle cx="546.2" cy="836.5" r="3.3" fill="#696969"/><circle cx="544.9" cy="838.4" r="1.4" fill="#818181"/><circle cx="543.6" cy="835.7" r="1.4" fill="#818181"/><circle cx="547.5" cy="835.9" r="1.4" fill="#818181"/><circle cx="545.2" cy="838.3" r="1.4" fill="#818181"/><circle cx="544.6" cy="836.0" r="1.4" fill="#818181"/><circle cx="547.0" cy="835.6" r="1.4" fill="#818181"/><circle cx="545.2" cy="836.7" r="1.4" fill="#818181"/><circle cx="547.8" cy="835.1" r="1.4" fill="#818181"/><circle cx="547.3" cy="836.4" r="1.4" fill="#818181"/><circle cx="545.7" cy="834.4" r="1.4" fill="#818181"/><circle cx="548.6" cy="837.3" r="1.4" fill="#818181"/>
<circle cx="556.5" cy="836.5" r="3.0" fill="#5b5b5b"/><circle cx="557.0" cy="836.0" r="1.15" fill="#8b8b8b"/><circle cx="559.2" cy="835.5" r="1.15" fill="#8b8b8b"/><circle cx="554.7" cy="835.1" r="1.15" fill="#8b8b8b"/><circle cx="556.5" cy="837.1" r="1.15" fill="#8b8b8b"/><circle cx="553.5" cy="837.0" r="1.15" fill="#8b8b8b"/><circle cx="557.0" cy="838.5" r="1.15" fill="#8b8b8b"/><circle cx="556.0" cy="839.1" r="1.15" fill="#8b8b8b"/><circle cx="559.5" cy="835.7" r="1.15" fill="#8b8b8b"/><circle cx="556.0" cy="838.4" r="1.15" fill="#8b8b8b"/><circle cx="558.8" cy="836.5" r="1.15" fill="#8b8b8b"/>
<circle cx="568.1" cy="833.8" r="0.8" fill="#979797"/><circle cx="565.5" cy="836.8" r="1.1" fill="#979797"/><circle cx="567.4" cy="835.7" r="1.3" fill="#979797"/><circle cx="569.3" cy="835.6" r="0.9" fill="#979797"/><circle cx="569.2" cy="834.7" r="1.4" fill="#979797"/><circle cx="566.2" cy="836.5" r="1.0" fill="#979797"/><circle cx="564.0" cy="836.3" r="0.9" fill="#979797"/><circle cx="564.3" cy="834.3" r="1.2" fill="#979797"/>
<circle cx="573.3" cy="836.3" r="1.2" fill="#979797"/><circle cx="577.8" cy="837.3" r="0.9" fill="#979797"/><circle cx="578.3" cy="838.4" r="1.0" fill="#979797"/><circle cx="575.0" cy="837.8" r="1.2" fill="#979797"/><circle cx="577.9" cy="838.4" r="0.8" fill="#979797"/><circle cx="576.8" cy="836.2" r="1.3" fill="#979797"/><circle cx="573.8" cy="835.9" r="1.0" fill="#979797"/><circle cx="573.8" cy="838.9" r="1.1" fill="#979797"/>
<circle cx="584.0" cy="836.2" r="1.2" fill="#979797"/><circle cx="586.5" cy="838.5" r="1.2" fill="#979797"/><circle cx="582.9" cy="835.8" r="1.1" fill="#979797"/>
<circle cx="515.4" cy="848.7" r="3.6499999999999995" fill="#727272" stroke="#7b7b7b" stroke-width="0.9"/>
<circle cx="525.6" cy="848.7" r="3.6499999999999995" fill="#727272" stroke="#7b7b7b" stroke-width="0.9"/>
<circle cx="535.9" cy="848.7" r="3.6499999999999995" fill="#727272" stroke="#7b7b7b" stroke-width="0.9"/>
<circle cx="547.5" cy="852.2" r="1.2" fill="#979797"/><circle cx="545.6" cy="845.1" r="1.1" fill="#979797"/><circle cx="545.4" cy="850.1" r="1.0" fill="#979797"/>
<circle cx="556.0" cy="850.3" r="0.9" fill="#979797"/>
<circle cx="602.4" cy="725.3" r="3.6499999999999995" fill="#727272" stroke="#7b7b7b" stroke-width="0.9"/>
<circle cx="613.3" cy="725.3" r="3.6499999999999995" fill="#727272" stroke="#7b7b7b" stroke-width="0.9"/>
<circle cx="623.8" cy="725.3" r="3.6499999999999995" fill="#727272" stroke="#7b7b7b" stroke-width="0.9"/>
<circle cx="634.5" cy="725.3" r="3.6499999999999995" fill="#727272" stroke="#7b7b7b" stroke-width="0.9"/>
<circle cx="644.1" cy="725.3" r="3.6499999999999995" fill="#727272" stroke="#7b7b7b" stroke-width="0.9"/>
<circle cx="653.8" cy="725.3" r="3.3" fill="#5c5c5c"/><circle cx="652.3" cy="725.5" r="1.4" fill="#747474"/><circle cx="652.3" cy="727.0" r="1.4" fill="#747474"/><circle cx="652.8" cy="727.7" r="1.4" fill="#747474"/><circle cx="654.3" cy="723.8" r="1.4" fill="#747474"/><circle cx="654.4" cy="724.3" r="1.4" fill="#747474"/><circle cx="656.1" cy="726.9" r="1.4" fill="#747474"/><circle cx="654.0" cy="725.3" r="1.4" fill="#747474"/><circle cx="653.9" cy="725.2" r="1.4" fill="#747474"/><circle cx="652.6" cy="723.6" r="1.4" fill="#747474"/><circle cx="654.0" cy="726.7" r="1.4" fill="#747474"/><circle cx="655.5" cy="724.9" r="1.4" fill="#747474"/>
<circle cx="665.4" cy="727.4" r="1.2" fill="#8a8a8a"/><circle cx="665.1" cy="726.0" r="1.3" fill="#8a8a8a"/><circle cx="665.7" cy="725.6" r="0.8" fill="#8a8a8a"/><circle cx="667.4" cy="725.2" r="1.2" fill="#8a8a8a"/><circle cx="661.8" cy="724.0" r="1.0" fill="#8a8a8a"/><circle cx="663.6" cy="727.7" r="0.8" fill="#8a8a8a"/><circle cx="663.2" cy="727.7" r="1.1" fill="#8a8a8a"/><circle cx="661.7" cy="725.5" r="1.1" fill="#8a8a8a"/>
<circle cx="674.8" cy="723.3" r="0.9" fill="#8a8a8a"/><circle cx="674.0" cy="726.1" r="0.8" fill="#8a8a8a"/><circle cx="674.8" cy="726.2" r="1.1" fill="#8a8a8a"/><circle cx="674.8" cy="722.2" r="1.3" fill="#8a8a8a"/><circle cx="673.8" cy="727.9" r="1.3" fill="#8a8a8a"/>
<circle cx="602.4" cy="737.4" r="3.6499999999999995" fill="#727272" stroke="#7b7b7b" stroke-width="0.9"/>
<circle cx="613.3" cy="737.4" r="3.6499999999999995" fill="#656565" stroke="#6e6e6e" stroke-width="0.9"/>
<circle cx="623.8" cy="737.4" r="3.3" fill="#5c5c5c"/><circle cx="621.7" cy="739.0" r="1.4" fill="#747474"/><circle cx="625.9" cy="739.0" r="1.4" fill="#747474"/><circle cx="625.8" cy="735.5" r="1.4" fill="#747474"/><circle cx="624.9" cy="735.3" r="1.4" fill="#747474"/><circle cx="621.6" cy="738.3" r="1.4" fill="#747474"/><circle cx="625.3" cy="735.9" r="1.4" fill="#747474"/><circle cx="621.9" cy="735.5" r="1.4" fill="#747474"/><circle cx="623.4" cy="739.0" r="1.4" fill="#747474"/><circle cx="626.4" cy="738.0" r="1.4" fill="#747474"/><circle cx="622.2" cy="735.7" r="1.4" fill="#747474"/><circle cx="623.9" cy="738.6" r="1.4" fill="#747474"/>
<circle cx="634.5" cy="737.4" r="3.0" fill="#4e4e4e"/><circle cx="631.5" cy="737.8" r="1.15" fill="#7e7e7e"/><circle cx="633.3" cy="739.0" r="1.15" fill="#7e7e7e"/><circle cx="631.9" cy="738.9" r="1.15" fill="#7e7e7e"/><circle cx="636.7" cy="739.5" r="1.15" fill="#7e7e7e"/><circle cx="637.2" cy="737.6" r="1.15" fill="#7e7e7e"/><circle cx="634.7" cy="735.3" r="1.15" fill="#7e7e7e"/><circle cx="634.4" cy="735.9" r="1.15" fill="#7e7e7e"/><circle cx="635.6" cy="738.8" r="1.15" fill="#7e7e7e"/><circle cx="634.2" cy="740.1" r="1.15" fill="#7e7e7e"/><circle cx="632.1" cy="736.4" r="1.15" fill="#7e7e7e"/>
<circle cx="644.1" cy="737.4" r="3.0" fill="#4e4e4e"/><circle cx="646.9" cy="737.0" r="1.15" fill="#7e7e7e"/><circle cx="644.9" cy="734.3" r="1.15" fill="#7e7e7e"/><circle cx="646.6" cy="736.2" r="1.15" fill="#7e7e7e"/><circle cx="642.8" cy="739.2" r="1.15" fill="#7e7e7e"/><circle cx="644.2" cy="734.5" r="1.15" fill="#7e7e7e"/><circle cx="646.3" cy="735.8" r="1.15" fill="#7e7e7e"/><circle cx="643.4" cy="736.1" r="1.15" fill="#7e7e7e"/><circle cx="643.2" cy="736.6" r="1.15" fill="#7e7e7e"/><circle cx="643.4" cy="736.5" r="1.15" fill="#7e7e7e"/><circle cx="647.3" cy="737.8" r="1.15" fill="#7e7e7e"/>
<circle cx="654.9" cy="736.2" r="0.8" fill="#8a8a8a"/><circle cx="655.1" cy="734.5" r="0.9" fill="#8a8a8a"/><circle cx="655.2" cy="734.3" r="1.1" fill="#8a8a8a"/><circle cx="653.7" cy="737.9" r="0.8" fill="#8a8a8a"/><circle cx="651.0" cy="738.5" r="1.2" fill="#8a8a8a"/>
<circle cx="665.8" cy="740.6" r="0.8" fill="#8a8a8a"/>
<circle cx="674.2" cy="736.7" r="0.8" fill="#8a8a8a"/>
<circle cx="602.4" cy="748.1" r="3.6499999999999995" fill="#727272" stroke="#7b7b7b" stroke-width="0.9"/>
<circle cx="613.3" cy="748.1" r="3.6499999999999995" fill="#727272" stroke="#7b7b7b" stroke-width="0.9"/>
<circle cx="623.8" cy="748.1" r="3.6499999999999995" fill="#727272" stroke="#7b7b7b" stroke-width="0.9"/>
<circle cx="634.5" cy="748.1" r="3.6499999999999995" fill="#727272" stroke="#7b7b7b" stroke-width="0.9"/>
<circle cx="644.1" cy="748.1" r="3.3" fill="#5c5c5c"/><circle cx="645.0" cy="750.4" r="1.4" fill="#747474"/><circle cx="644.2" cy="748.4" r="1.4" fill="#747474"/><circle cx="642.5" cy="748.3" r="1.4" fill="#747474"/><circle cx="642.2" cy="747.1" r="1.4" fill="#747474"/><circle cx="643.4" cy="745.5" r="1.4" fill="#747474"/><circle cx="642.9" cy="750.0" r="1.4" fill="#747474"/><circle cx="645.1" cy="749.1" r="1.4" fill="#747474"/><circle cx="646.2" cy="749.6" r="1.4" fill="#747474"/><circle cx="642.9" cy="750.1" r="1.4" fill="#747474"/><circle cx="645.3" cy="746.9" r="1.4" fill="#747474"/><circle cx="644.5" cy="749.4" r="1.4" fill="#747474"/>
<circle cx="651.8" cy="748.2" r="0.8" fill="#8a8a8a"/><circle cx="655.4" cy="745.9" r="1.3" fill="#8a8a8a"/><circle cx="655.5" cy="745.6" r="1.3" fill="#8a8a8a"/><circle cx="653.2" cy="746.1" r="1.3" fill="#8a8a8a"/><circle cx="654.5" cy="747.7" r="0.9" fill="#8a8a8a"/><circle cx="654.9" cy="750.0" r="1.3" fill="#8a8a8a"/><circle cx="650.4" cy="747.5" r="1.0" fill="#8a8a8a"/><circle cx="652.5" cy="747.5" r="1.2" fill="#8a8a8a"/>
<circle cx="665.3" cy="748.2" r="1.0" fill="#8a8a8a"/><circle cx="662.1" cy="746.7" r="1.0" fill="#8a8a8a"/><circle cx="668.2" cy="746.6" r="0.9" fill="#8a8a8a"/><circle cx="665.9" cy="744.5" r="1.4" fill="#8a8a8a"/><circle cx="664.6" cy="746.3" r="1.1" fill="#8a8a8a"/>
<circle cx="673.4" cy="745.9" r="0.9" fill="#8a8a8a"/>
<circle cx="645.9" cy="757.2" r="0.8" fill="#8a8a8a"/>
<circle cx="602.4" cy="769.9" r="3.6499999999999995" fill="#727272" stroke="#7b7b7b" stroke-width="0.9"/>
<circle cx="613.3" cy="769.9" r="3.6499999999999995" fill="#727272" stroke="#7b7b7b" stroke-width="0.9"/>
<circle cx="623.8" cy="769.9" r="3.6499999999999995" fill="#727272" stroke="#7b7b7b" stroke-width="0.9"/>
<circle cx="634.5" cy="769.9" r="3.6499999999999995" fill="#727272" stroke="#7b7b7b" stroke-width="0.9"/>
<circle cx="644.1" cy="769.9" r="3.0" fill="#4e4e4e"/><circle cx="643.8" cy="770.6" r="1.15" fill="#7e7e7e"/><circle cx="643.3" cy="770.1" r="1.15" fill="#7e7e7e"/><circle cx="642.6" cy="769.6" r="1.15" fill="#7e7e7e"/><circle cx="645.4" cy="767.4" r="1.15" fill="#7e7e7e"/><circle cx="645.2" cy="772.6" r="1.15" fill="#7e7e7e"/><circle cx="642.8" cy="769.2" r="1.15" fill="#7e7e7e"/><circle cx="644.2" cy="769.8" r="1.15" fill="#7e7e7e"/><circle cx="642.1" cy="771.3" r="1.15" fill="#7e7e7e"/><circle cx="645.2" cy="771.7" r="1.15" fill="#7e7e7e"/><circle cx="645.4" cy="768.7" r="1.15" fill="#7e7e7e"/>
<circle cx="653.5" cy="768.8" r="1.4" fill="#8a8a8a"/><circle cx="654.8" cy="769.7" r="1.3" fill="#8a8a8a"/><circle cx="653.6" cy="770.2" r="0.9" fill="#8a8a8a"/><circle cx="653.5" cy="767.7" r="1.1" fill="#8a8a8a"/><circle cx="654.6" cy="770.7" r="1.0" fill="#8a8a8a"/>
<circle cx="662.0" cy="769.6" r="1.1" fill="#8a8a8a"/><circle cx="663.6" cy="773.0" r="1.2" fill="#8a8a8a"/><circle cx="665.4" cy="766.6" r="1.1" fill="#8a8a8a"/>
<circle cx="674.9" cy="770.7" r="1.2" fill="#8a8a8a"/>
<circle cx="602.4" cy="781.7" r="3.6499999999999995" fill="#727272" stroke="#7b7b7b" stroke-width="0.9"/>
<circle cx="613.3" cy="781.7" r="3.6499999999999995" fill="#727272" stroke="#7b7b7b" stroke-width="0.9"/>
<circle cx="623.8" cy="781.7" r="3.6499999999999995" fill="#727272" stroke="#7b7b7b" stroke-width="0.9"/>
<circle cx="634.5" cy="781.7" r="3.6499999999999995" fill="#727272" stroke="#7b7b7b" stroke-width="0.9"/>
<circle cx="644.1" cy="781.7" r="3.3" fill="#5c5c5c"/><circle cx="644.1" cy="779.0" r="1.4" fill="#747474"/><circle cx="645.8" cy="780.7" r="1.4" fill="#747474"/><circle cx="641.4" cy="781.9" r="1.4" fill="#747474"/><circle cx="645.6" cy="782.6" r="1.4" fill="#747474"/><circle cx="642.0" cy="781.1" r="1.4" fill="#747474"/><circle cx="643.2" cy="781.0" r="1.4" fill="#747474"/><circle cx="642.9" cy="781.6" r="1.4" fill="#747474"/><circle cx="643.2" cy="782.5" r="1.4" fill="#747474"/><circle cx="643.2" cy="783.7" r="1.4" fill="#747474"/><circle cx="643.2" cy="782.4" r="1.4" fill="#747474"/><circle cx="641.9" cy="782.1" r="1.4" fill="#747474"/>
<circle cx="653.8" cy="781.7" r="3.0" fill="#4e4e4e"/><circle cx="653.3" cy="783.1" r="1.15" fill="#7e7e7e"/><circle cx="651.4" cy="782.7" r="1.15" fill="#7e7e7e"/><circle cx="656.3" cy="782.3" r="1.15" fill="#7e7e7e"/><circle cx="656.7" cy="782.7" r="1.15" fill="#7e7e7e"/><circle cx="654.9" cy="784.4" r="1.15" fill="#7e7e7e"/><circle cx="655.9" cy="782.2" r="1.15" fill="#7e7e7e"/><circle cx="653.7" cy="784.5" r="1.15" fill="#7e7e7e"/><circle cx="653.9" cy="780.8" r="1.15" fill="#7e7e7e"/><circle cx="656.4" cy="782.6" r="1.15" fill="#7e7e7e"/><circle cx="652.2" cy="782.6" r="1.15" fill="#7e7e7e"/>
<circle cx="664.2" cy="783.2" r="1.1" fill="#8a8a8a"/><circle cx="664.6" cy="782.3" r="1.1" fill="#8a8a8a"/><circle cx="668.4" cy="781.5" r="1.2" fill="#8a8a8a"/><circle cx="667.2" cy="780.8" r="1.0" fill="#8a8a8a"/><circle cx="665.5" cy="781.0" r="1.3" fill="#8a8a8a"/>
<circle cx="676.6" cy="783.9" r="1.1" fill="#8a8a8a"/><circle cx="675.1" cy="781.2" r="1.2" fill="#8a8a8a"/><circle cx="675.2" cy="781.4" r="1.2" fill="#8a8a8a"/>
<circle cx="602.4" cy="814.8" r="3.6499999999999995" fill="#727272" stroke="#7b7b7b" stroke-width="0.9"/>
<circle cx="613.3" cy="814.8" r="3.6499999999999995" fill="#727272" stroke="#7b7b7b" stroke-width="0.9"/>
<circle cx="623.8" cy="814.8" r="3.6499999999999995" fill="#727272" stroke="#7b7b7b" stroke-width="0.9"/>
<circle cx="634.5" cy="814.8" r="3.6499999999999995" fill="#727272" stroke="#7b7b7b" stroke-width="0.9"/>
<circle cx="644.1" cy="814.8" r="3.6499999999999995" fill="#727272" stroke="#7b7b7b" stroke-width="0.9"/>
<circle cx="653.8" cy="814.8" r="3.6499999999999995" fill="#656565" stroke="#6e6e6e" stroke-width="0.9"/>
<circle cx="665.3" cy="814.8" r="3.0" fill="#4e4e4e"/><circle cx="664.8" cy="817.5" r="1.15" fill="#7e7e7e"/><circle cx="665.4" cy="814.8" r="1.15" fill="#7e7e7e"/><circle cx="663.5" cy="816.0" r="1.15" fill="#7e7e7e"/><circle cx="668.4" cy="814.4" r="1.15" fill="#7e7e7e"/><circle cx="666.3" cy="815.0" r="1.15" fill="#7e7e7e"/><circle cx="662.9" cy="816.4" r="1.15" fill="#7e7e7e"/><circle cx="665.9" cy="812.6" r="1.15" fill="#7e7e7e"/><circle cx="667.9" cy="813.4" r="1.15" fill="#7e7e7e"/><circle cx="667.1" cy="813.1" r="1.15" fill="#7e7e7e"/><circle cx="665.1" cy="817.5" r="1.15" fill="#7e7e7e"/>
<circle cx="674.2" cy="811.3" r="0.9" fill="#8a8a8a"/><circle cx="676.8" cy="815.0" r="1.0" fill="#8a8a8a"/><circle cx="674.6" cy="815.1" r="1.2" fill="#8a8a8a"/><circle cx="673.7" cy="815.5" r="0.9" fill="#8a8a8a"/><circle cx="674.3" cy="814.5" r="1.3" fill="#8a8a8a"/>
<circle cx="602.4" cy="825.7" r="3.6499999999999995" fill="#727272" stroke="#7b7b7b" stroke-width="0.9"/>
<circle cx="613.3" cy="825.7" r="3.6499999999999995" fill="#656565" stroke="#6e6e6e" stroke-width="0.9"/>
<circle cx="623.8" cy="825.7" r="3.3" fill="#5c5c5c"/><circle cx="623.4" cy="828.3" r="1.4" fill="#747474"/><circle cx="625.0" cy="826.9" r="1.4" fill="#747474"/><circle cx="624.2" cy="823.7" r="1.4" fill="#747474"/><circle cx="621.3" cy="826.5" r="1.4" fill="#747474"/><circle cx="625.1" cy="827.9" r="1.4" fill="#747474"/><circle cx="622.3" cy="825.6" r="1.4" fill="#747474"/><circle cx="622.9" cy="826.9" r="1.4" fill="#747474"/><circle cx="622.5" cy="824.3" r="1.4" fill="#747474"/><circle cx="621.6" cy="825.4" r="1.4" fill="#747474"/><circle cx="625.3" cy="823.9" r="1.4" fill="#747474"/><circle cx="623.2" cy="827.9" r="1.4" fill="#747474"/>
<circle cx="634.5" cy="825.7" r="3.3" fill="#5c5c5c"/><circle cx="633.6" cy="823.2" r="1.4" fill="#747474"/><circle cx="633.0" cy="827.0" r="1.4" fill="#747474"/><circle cx="634.6" cy="824.1" r="1.4" fill="#747474"/><circle cx="633.5" cy="827.7" r="1.4" fill="#747474"/><circle cx="632.7" cy="827.5" r="1.4" fill="#747474"/><circle cx="633.7" cy="826.8" r="1.4" fill="#747474"/><circle cx="632.8" cy="824.3" r="1.4" fill="#747474"/><circle cx="637.2" cy="825.5" r="1.4" fill="#747474"/><circle cx="632.8" cy="826.6" r="1.4" fill="#747474"/><circle cx="633.3" cy="824.1" r="1.4" fill="#747474"/><circle cx="633.0" cy="824.8" r="1.4" fill="#747474"/>
<circle cx="644.1" cy="825.7" r="3.0" fill="#4e4e4e"/><circle cx="646.1" cy="823.3" r="1.15" fill="#7e7e7e"/><circle cx="644.8" cy="823.0" r="1.15" fill="#7e7e7e"/><circle cx="645.2" cy="824.8" r="1.15" fill="#7e7e7e"/><circle cx="645.3" cy="825.2" r="1.15" fill="#7e7e7e"/><circle cx="645.8" cy="827.0" r="1.15" fill="#7e7e7e"/><circle cx="644.9" cy="826.9" r="1.15" fill="#7e7e7e"/><circle cx="643.3" cy="825.1" r="1.15" fill="#7e7e7e"/><circle cx="642.7" cy="826.8" r="1.15" fill="#7e7e7e"/><circle cx="644.8" cy="825.4" r="1.15" fill="#7e7e7e"/><circle cx="642.0" cy="825.6" r="1.15" fill="#7e7e7e"/>
<circle cx="653.8" cy="825.7" r="3.0" fill="#4e4e4e"/><circle cx="654.7" cy="827.2" r="1.15" fill="#7e7e7e"/><circle cx="652.6" cy="827.0" r="1.15" fill="#7e7e7e"/><circle cx="651.6" cy="824.9" r="1.15" fill="#7e7e7e"/><circle cx="651.8" cy="826.1" r="1.15" fill="#7e7e7e"/><circle cx="652.1" cy="824.3" r="1.15" fill="#7e7e7e"/><circle cx="655.6" cy="827.5" r="1.15" fill="#7e7e7e"/><circle cx="651.3" cy="827.3" r="1.15" fill="#7e7e7e"/><circle cx="655.3" cy="827.4" r="1.15" fill="#7e7e7e"/><circle cx="653.0" cy="828.1" r="1.15" fill="#7e7e7e"/><circle cx="654.9" cy="823.4" r="1.15" fill="#7e7e7e"/>
<circle cx="665.3" cy="825.7" r="3.0" fill="#4e4e4e"/><circle cx="662.5" cy="824.3" r="1.15" fill="#7e7e7e"/><circle cx="665.8" cy="829.0" r="1.15" fill="#7e7e7e"/><circle cx="663.0" cy="826.6" r="1.15" fill="#7e7e7e"/><circle cx="665.6" cy="826.0" r="1.15" fill="#7e7e7e"/><circle cx="666.5" cy="827.6" r="1.15" fill="#7e7e7e"/><circle cx="665.5" cy="828.6" r="1.15" fill="#7e7e7e"/><circle cx="666.8" cy="827.8" r="1.15" fill="#7e7e7e"/><circle cx="667.4" cy="824.1" r="1.15" fill="#7e7e7e"/><circle cx="667.9" cy="824.3" r="1.15" fill="#7e7e7e"/><circle cx="665.6" cy="825.3" r="1.15" fill="#7e7e7e"/>
<circle cx="673.4" cy="825.6" r="1.1" fill="#8a8a8a"/><circle cx="674.6" cy="822.7" r="0.9" fill="#8a8a8a"/><circle cx="675.3" cy="826.2" r="1.2" fill="#8a8a8a"/><circle cx="675.3" cy="825.1" r="0.9" fill="#8a8a8a"/><circle cx="677.4" cy="828.6" r="0.8" fill="#8a8a8a"/><circle cx="671.9" cy="824.1" r="0.9" fill="#8a8a8a"/><circle cx="674.3" cy="824.1" r="1.2" fill="#8a8a8a"/><circle cx="674.0" cy="825.9" r="1.3" fill="#8a8a8a"/>
<circle cx="602.4" cy="836.5" r="3.6499999999999995" fill="#656565" stroke="#6e6e6e" stroke-width="0.9"/>
<circle cx="613.3" cy="836.5" r="3.6499999999999995" fill="#656565" stroke="#6e6e6e" stroke-width="0.9"/>
<circle cx="623.8" cy="836.5" r="3.6499999999999995" fill="#656565" stroke="#6e6e6e" stroke-width="0.9"/>
<circle cx="634.5" cy="836.5" r="3.3" fill="#5c5c5c"/><circle cx="631.7" cy="836.5" r="1.4" fill="#747474"/><circle cx="632.2" cy="835.0" r="1.4" fill="#747474"/><circle cx="634.1" cy="835.9" r="1.4" fill="#747474"/><circle cx="637.3" cy="836.6" r="1.4" fill="#747474"/><circle cx="633.2" cy="834.3" r="1.4" fill="#747474"/><circle cx="635.4" cy="835.1" r="1.4" fill="#747474"/><circle cx="633.9" cy="834.3" r="1.4" fill="#747474"/><circle cx="636.4" cy="837.3" r="1.4" fill="#747474"/><circle cx="636.4" cy="835.6" r="1.4" fill="#747474"/><circle cx="634.7" cy="835.8" r="1.4" fill="#747474"/><circle cx="632.8" cy="837.5" r="1.4" fill="#747474"/>
<circle cx="640.9" cy="835.4" r="1.1" fill="#8a8a8a"/><circle cx="641.9" cy="835.5" r="1.2" fill="#8a8a8a"/><circle cx="642.4" cy="835.5" r="1.0" fill="#8a8a8a"/><circle cx="645.3" cy="835.1" r="1.2" fill="#8a8a8a"/><circle cx="643.6" cy="840.2" r="0.9" fill="#8a8a8a"/><circle cx="642.4" cy="837.4" r="1.3" fill="#8a8a8a"/><circle cx="643.9" cy="835.0" r="0.9" fill="#8a8a8a"/><circle cx="644.0" cy="834.3" r="0.9" fill="#8a8a8a"/>
<circle cx="656.0" cy="838.5" r="1.2" fill="#8a8a8a"/><circle cx="654.0" cy="835.9" r="1.1" fill="#8a8a8a"/><circle cx="655.4" cy="838.5" r="0.9" fill="#8a8a8a"/>
<circle cx="665.6" cy="839.0" r="0.9" fill="#8a8a8a"/>
<circle cx="675.3" cy="835.5" r="1.0" fill="#8a8a8a"/>
<circle cx="613.3" cy="847.2" r="1.0" fill="#8a8a8a"/>
<circle cx="624.3" cy="846.2" r="1.3" fill="#8a8a8a"/>
</g>
<path d="M587.5 852.0999999999999 L591 848.5999999999999" stroke="#c8c8c8" stroke-width="1.1"/>
<path d="M673.5 852.0999999999999 L677 848.5999999999999" stroke="#c8c8c8" stroke-width="1.1"/>
<path d="M584.0 716 L592.0 724.0M585.6 716 L592.0 722.4M587.2 716 L592.0 720.8M588.8 716 L592.0 719.2" stroke="#656565" stroke-width="0.7"/>
<text x="500.00" y="729.50" font-size="10.8" font-weight="normal" text-anchor="end" ><tspan fill="#000" font-style="italic">Wild type</tspan></text>
<text x="500.00" y="741.10" font-size="10.8" font-weight="normal" text-anchor="end" ><tspan fill="#000" font-style="italic">rad54<tspan dx="0.084em" font-family="Liberation Serif">Δ</tspan></tspan></text>
<text x="500.00" y="752.70" font-size="10.8" font-weight="normal" text-anchor="end" ><tspan fill="#000" font-style="italic">pol30-KKRR</tspan></text>
<text x="500.00" y="763.80" font-size="10.8" font-weight="normal" text-anchor="end" ><tspan fill="#000" font-style="italic">rad54<tspan dx="0.084em" font-family="Liberation Serif">Δ</tspan> pol30-KKRR</tspan></text>
<text x="500.00" y="774.10" font-size="10.8" font-weight="normal" text-anchor="end" ><tspan fill="#000" font-style="italic">rad51<tspan dx="0.084em" font-family="Liberation Serif">Δ</tspan></tspan></text>
<text x="500.00" y="785.40" font-size="10.8" font-weight="normal" text-anchor="end" ><tspan fill="#000" font-style="italic">rad51<tspan dx="0.084em" font-family="Liberation Serif">Δ</tspan> rad54<tspan dx="0.084em" font-family="Liberation Serif">Δ</tspan></tspan></text>
<text x="500.00" y="797.80" font-size="10.8" font-weight="normal" text-anchor="end" ><tspan fill="#000" font-style="italic">rad51<tspan dx="0.084em" font-family="Liberation Serif">Δ</tspan> pol30-KKRR</tspan></text>
<text x="500.00" y="808.60" font-size="10.8" font-weight="normal" text-anchor="end" ><tspan fill="#000" font-style="italic">rad51<tspan dx="0.084em" font-family="Liberation Serif">Δ</tspan> rad54<tspan dx="0.084em" font-family="Liberation Serif">Δ</tspan> pol30-KKRR</tspan></text>
<text x="500.00" y="820.90" font-size="10.8" font-weight="normal" text-anchor="end" ><tspan fill="#f40f0f" font-style="italic">rad51-KN</tspan></text>
<text x="500.00" y="831.20" font-size="10.8" font-weight="normal" text-anchor="end" ><tspan fill="#f40f0f" font-style="italic">rad51-KN</tspan><tspan fill="#000" font-style="italic"> rad54<tspan dx="0.084em" font-family="Liberation Serif">Δ</tspan></tspan></text>
<text x="500.00" y="843.50" font-size="10.8" font-weight="normal" text-anchor="end" ><tspan fill="#f40f0f" font-style="italic">rad51-KN</tspan><tspan fill="#000" font-style="italic"> pol30-KKRR</tspan></text>
<text x="500.00" y="855.70" font-size="10.8" font-weight="normal" text-anchor="end" ><tspan fill="#f40f0f" font-style="italic">rad51-KN</tspan><tspan fill="#000" font-style="italic"> rad54<tspan dx="0.084em" font-family="Liberation Serif">Δ</tspan> pol30-KKRR</tspan></text>
<text x="2.50" y="235.60" font-size="17" font-weight="bold" text-anchor="start" ><tspan fill="#000" font-style="normal">C.</tspan></text>
<text x="29.80" y="235.60" font-size="17" font-weight="bold" text-anchor="start" ><tspan fill="#000" font-style="italic">mms2</tspan></text>
<text x="83.10" y="235.60" font-size="17" font-weight="bold" text-anchor="start" ><tspan fill="#000" font-style="italic">rad51</tspan></text>
<text transform="translate(8.9,326.7) rotate(-90)" font-size="8.9" font-weight="bold" text-anchor="middle"><tspan x="0" y="0">Normalized % Survival</tspan><tspan x="0" y="10.8">(# colonies on MMS/# colonies on YPD)</tspan></text>
<path d="M47.00 250.00V406.80H237.60" fill="none" stroke="#000" stroke-width="1.7"/>
<text x="42.50" y="409.80" font-size="10.5" font-weight="bold" text-anchor="end" ><tspan fill="#000" font-style="normal">0</tspan></text>
<text x="42.50" y="394.00" font-size="10.5" font-weight="bold" text-anchor="end" ><tspan fill="#000" font-style="normal">10</tspan></text>
<text x="42.50" y="378.20" font-size="10.5" font-weight="bold" text-anchor="end" ><tspan fill="#000" font-style="normal">20</tspan></text>
<text x="42.50" y="362.40" font-size="10.5" font-weight="bold" text-anchor="end" ><tspan fill="#000" font-style="normal">30</tspan></text>
<text x="42.50" y="346.60" font-size="10.5" font-weight="bold" text-anchor="end" ><tspan fill="#000" font-style="normal">40</tspan></text>
<text x="42.50" y="330.80" font-size="10.5" font-weight="bold" text-anchor="end" ><tspan fill="#000" font-style="normal">50</tspan></text>
<text x="42.50" y="315.00" font-size="10.5" font-weight="bold" text-anchor="end" ><tspan fill="#000" font-style="normal">60</tspan></text>
<text x="42.50" y="299.20" font-size="10.5" font-weight="bold" text-anchor="end" ><tspan fill="#000" font-style="normal">70</tspan></text>
<text x="42.50" y="283.40" font-size="10.5" font-weight="bold" text-anchor="end" ><tspan fill="#000" font-style="normal">80</tspan></text>
<text x="42.50" y="267.60" font-size="10.5" font-weight="bold" text-anchor="end" ><tspan fill="#000" font-style="normal">90</tspan></text>
<text x="42.50" y="251.80" font-size="10.5" font-weight="bold" text-anchor="end" ><tspan fill="#000" font-style="normal">100</tspan></text>
<path d="M43.00 406.00H47.0M43.00 390.20H47.0M43.00 374.40H47.0M43.00 358.60H47.0M43.00 342.80H47.0M43.00 327.00H47.0M43.00 311.20H47.0M43.00 295.40H47.0M43.00 279.60H47.0M43.00 263.80H47.0M43.00 248.00H47.0M47.00 406.0V410.00M94.40 406.0V410.00M141.80 406.0V410.00M189.20 406.0V410.00M236.60 406.0V410.00" stroke="#000" stroke-width="1.5"/>
<text x="47.00" y="420.30" font-size="10.5" font-weight="bold" text-anchor="middle" ><tspan fill="#000" font-style="normal">0.000</tspan></text>
<text x="94.40" y="420.30" font-size="10.5" font-weight="bold" text-anchor="middle" ><tspan fill="#000" font-style="normal">0.0025</tspan></text>
<text x="141.80" y="420.30" font-size="10.5" font-weight="bold" text-anchor="middle" ><tspan fill="#000" font-style="normal">0.005</tspan></text>
<text x="189.20" y="420.30" font-size="10.5" font-weight="bold" text-anchor="middle" ><tspan fill="#000" font-style="normal">0.0075</tspan></text>
<text x="236.60" y="420.30" font-size="10.5" font-weight="bold" text-anchor="middle" ><tspan fill="#000" font-style="normal">0.010</tspan></text>
<text x="263.50" y="420.30" font-size="10.5" font-weight="bold" text-anchor="middle" ><tspan fill="#000" font-style="normal">0.02</tspan></text>
<text x="316.80" y="420.30" font-size="10.5" font-weight="bold" text-anchor="middle" ><tspan fill="#000" font-style="normal">0.03</tspan></text>
<path d="M263.50 406.50H316.80" stroke="#000" stroke-width="1.6"/>
<rect x="289.55" y="407.00" width="1.3" height="1.6" fill="#000"/>
<text x="162.60" y="435.80" font-size="11" font-weight="bold" text-anchor="start" ><tspan fill="#000" font-style="normal">MMS %</tspan></text>
<path d="M47.00 248.00L94.40 292.24L141.80 347.54L189.20 396.52L236.60 403.63" fill="none" stroke="#e8278a" stroke-width="0.8"/>
<path d="M94.40 287.50V296.98M91.40 287.50H97.40M91.40 296.98H97.40" stroke="#e8278a" stroke-width="1.2" fill="none"/>
<path d="M141.80 339.64V355.44M138.80 339.64H144.80M138.80 355.44H144.80" stroke="#e8278a" stroke-width="1.2" fill="none"/>
<path d="M47.00 251.60L50.60 245.12L43.40 245.12Z" fill="none" stroke="#e8278a" stroke-width="1.0"/>
<path d="M94.40 295.84L98.00 289.36L90.80 289.36Z" fill="none" stroke="#e8278a" stroke-width="1.0"/>
<path d="M141.80 351.14L145.40 344.66L138.20 344.66Z" fill="none" stroke="#e8278a" stroke-width="1.0"/>
<path d="M189.20 400.12L192.80 393.64L185.60 393.64Z" fill="none" stroke="#e8278a" stroke-width="1.0"/>
<path d="M236.60 407.23L240.20 400.75L233.00 400.75Z" fill="none" stroke="#e8278a" stroke-width="1.0"/>
<path d="M47.00 248.00L94.40 293.82L141.80 350.70L189.20 401.26L236.60 405.21" fill="none" stroke="#b8b82a" stroke-width="0.8"/>
<path d="M94.40 285.92V301.72M91.40 285.92H97.40M91.40 301.72H97.40" stroke="#b8b82a" stroke-width="1.2" fill="none"/>
<path d="M141.80 344.38V357.02M138.80 344.38H144.80M138.80 357.02H144.80" stroke="#b8b82a" stroke-width="1.2" fill="none"/>
<path d="M47.00 244.40L50.60 250.88L43.40 250.88Z" fill="none" stroke="#b8b82a" stroke-width="1.0"/>
<path d="M94.40 290.22L98.00 296.70L90.80 296.70Z" fill="none" stroke="#b8b82a" stroke-width="1.0"/>
<path d="M141.80 347.10L145.40 353.58L138.20 353.58Z" fill="none" stroke="#b8b82a" stroke-width="1.0"/>
<path d="M189.20 397.66L192.80 404.14L185.60 404.14Z" fill="none" stroke="#b8b82a" stroke-width="1.0"/>
<path d="M236.60 401.61L240.20 408.09L233.00 408.09Z" fill="none" stroke="#b8b82a" stroke-width="1.0"/>
<path d="M47.00 248.00L94.40 251.95L141.80 260.64L189.20 278.49L236.60 293.98" fill="none" stroke="#222" stroke-width="0.8"/>
<path d="M263.50 361.44L316.80 405.21" fill="none" stroke="#222" stroke-width="0.8"/>
<path d="M141.80 255.90V265.38M138.80 255.90H144.80M138.80 265.38H144.80" stroke="#000" stroke-width="1.2" fill="none"/>
<path d="M263.50 355.91V366.97M260.50 355.91H266.50M260.50 366.97H266.50" stroke="#000" stroke-width="1.2" fill="none"/>
<path d="M47.00 244.60L50.40 248.00L47.00 251.40L43.60 248.00Z" fill="#000"/>
<path d="M94.40 248.55L97.80 251.95L94.40 255.35L91.00 251.95Z" fill="#000"/>
<path d="M141.80 257.24L145.20 260.64L141.80 264.04L138.40 260.64Z" fill="#000"/>
<path d="M189.20 275.09L192.60 278.49L189.20 281.89L185.80 278.49Z" fill="#000"/>
<path d="M236.60 290.58L240.00 293.98L236.60 297.38L233.20 293.98Z" fill="#000"/>
<path d="M263.50 358.04L266.90 361.44L263.50 364.84L260.10 361.44Z" fill="#000"/>
<path d="M316.80 401.81L320.20 405.21L316.80 408.61L313.40 405.21Z" fill="#000"/>
<path d="M47.00 248.00L94.40 259.85L141.80 314.36L236.60 398.10" fill="none" stroke="#a020f0" stroke-width="0.8"/>
<path d="M263.50 405.21L316.80 405.21" fill="none" stroke="#300948" stroke-width="1.7"/>
<path d="M94.40 255.90V263.80M91.40 255.90H97.40M91.40 263.80H97.40" stroke="#a020f0" stroke-width="1.2" fill="none"/>
<path d="M141.80 307.09V321.63M138.80 307.09H144.80M138.80 321.63H144.80" stroke="#a020f0" stroke-width="1.2" fill="none"/>
<path d="M47.00 251.80L50.80 244.96L43.20 244.96Z" fill="#a020f0"/>
<path d="M94.40 263.65L98.20 256.81L90.60 256.81Z" fill="#a020f0"/>
<path d="M141.80 318.16L145.60 311.32L138.00 311.32Z" fill="#a020f0"/>
<path d="M236.60 401.90L240.40 395.06L232.80 395.06Z" fill="#a020f0"/>
<path d="M263.50 409.01L267.30 402.17L259.70 402.17Z" fill="#a020f0"/>
<path d="M316.80 409.01L320.60 402.17L313.00 402.17Z" fill="#a020f0"/>
<path d="M47.00 248.00L94.40 271.70L141.80 304.09L236.60 398.10" fill="none" stroke="#f7931e" stroke-width="0.8"/>
<path d="M263.50 406.00L316.80 406.00" fill="none" stroke="#4a2c09" stroke-width="1.7"/>
<path d="M94.40 263.80V279.60M91.40 263.80H97.40M91.40 279.60H97.40" stroke="#f7931e" stroke-width="1.2" fill="none"/>
<path d="M141.80 298.88V309.30M138.80 298.88H144.80M138.80 309.30H144.80" stroke="#f7931e" stroke-width="1.2" fill="none"/>
<path d="M47.00 244.20L50.80 251.04L43.20 251.04Z" fill="#f7931e"/>
<path d="M94.40 267.90L98.20 274.74L90.60 274.74Z" fill="#f7931e"/>
<path d="M141.80 300.29L145.60 307.13L138.00 307.13Z" fill="#f7931e"/>
<path d="M236.60 394.30L240.40 401.14L232.80 401.14Z" fill="#f7931e"/>
<path d="M263.50 402.20L267.30 409.04L259.70 409.04Z" fill="#f7931e"/>
<path d="M316.80 402.20L320.60 409.04L313.00 409.04Z" fill="#f7931e"/>
<path d="M47.00 248.00L94.40 254.32L141.80 260.17L189.20 255.43L236.60 264.43" fill="none" stroke="#3c8c3c" stroke-width="0.8"/>
<path d="M263.50 266.80L316.80 301.09" fill="none" stroke="#3c8c3c" stroke-width="0.8"/>
<path d="M94.40 251.16V257.48M91.40 251.16H97.40M91.40 257.48H97.40" stroke="#108a10" stroke-width="1.2" fill="none"/>
<path d="M141.80 255.43V264.91M138.80 255.43H144.80M138.80 264.91H144.80" stroke="#108a10" stroke-width="1.2" fill="none"/>
<path d="M316.80 293.82V308.36M313.80 293.82H319.80M313.80 308.36H319.80" stroke="#108a10" stroke-width="1.2" fill="none"/>
<rect x="43.70" y="244.70" width="6.60" height="6.60" fill="#108a10"/>
<rect x="91.10" y="251.02" width="6.60" height="6.60" fill="#108a10"/>
<rect x="138.50" y="256.87" width="6.60" height="6.60" fill="#108a10"/>
<rect x="185.90" y="252.13" width="6.60" height="6.60" fill="#108a10"/>
<rect x="233.30" y="261.13" width="6.60" height="6.60" fill="#108a10"/>
<rect x="260.20" y="263.50" width="6.60" height="6.60" fill="#108a10"/>
<rect x="313.50" y="297.79" width="6.60" height="6.60" fill="#108a10"/>
<path d="M54.50 329.20H65.50" stroke="#3c8c3c" stroke-width="0.9"/>
<rect x="56.70" y="325.90" width="6.60" height="6.60" fill="#108a10"/>
<text x="72.50" y="332.50" font-size="8.9" font-weight="normal" text-anchor="start" ><tspan fill="#000" font-style="normal">WT</tspan></text>
<path d="M54.50 343.00H65.50" stroke="#f7931e" stroke-width="0.9"/>
<path d="M60.00 339.20L63.80 346.04L56.20 346.04Z" fill="#f7931e"/>
<text x="72.50" y="346.30" font-size="8.9" font-weight="normal" text-anchor="start" ><tspan fill="#000" font-style="italic">rad51<tspan dx="0.084em" font-family="Liberation Serif">Δ</tspan></tspan></text>
<path d="M54.50 356.80H65.50" stroke="#a020f0" stroke-width="0.9"/>
<path d="M60.00 360.60L63.80 353.76L56.20 353.76Z" fill="#a020f0"/>
<text x="72.50" y="360.10" font-size="8.9" font-weight="normal" text-anchor="start" ><tspan fill="#000" font-style="italic">rad54<tspan dx="0.084em" font-family="Liberation Serif">Δ</tspan></tspan></text>
<path d="M54.50 370.60H65.50" stroke="#000" stroke-width="0.9"/>
<path d="M60.00 367.20L63.40 370.60L60.00 374.00L56.60 370.60Z" fill="#000"/>
<text x="72.50" y="373.90" font-size="8.9" font-weight="normal" text-anchor="start" ><tspan fill="#000" font-style="italic">mms2<tspan dx="0.084em" font-family="Liberation Serif">Δ</tspan></tspan></text>
<path d="M54.50 384.40H65.50" stroke="#b8b82a" stroke-width="0.9"/>
<path d="M60.00 380.80L63.60 387.28L56.40 387.28Z" fill="none" stroke="#b8b82a" stroke-width="1.0"/>
<text x="72.50" y="387.70" font-size="8.9" font-weight="normal" text-anchor="start" ><tspan fill="#000" font-style="italic">rad51<tspan dx="0.084em" font-family="Liberation Serif">Δ</tspan> mms2<tspan dx="0.084em" font-family="Liberation Serif">Δ</tspan></tspan></text>
<path d="M54.50 398.20H65.50" stroke="#e8278a" stroke-width="0.9"/>
<path d="M60.00 401.80L63.60 395.32L56.40 395.32Z" fill="none" stroke="#e8278a" stroke-width="1.0"/>
<text x="72.50" y="401.50" font-size="8.9" font-weight="normal" text-anchor="start" ><tspan fill="#000" font-style="italic">rad54<tspan dx="0.084em" font-family="Liberation Serif">Δ</tspan> mms2<tspan dx="0.084em" font-family="Liberation Serif">Δ</tspan></tspan></text>
<text x="342.50" y="233.60" font-size="17" font-weight="bold" text-anchor="start" ><tspan fill="#000" font-style="normal">D.</tspan></text>
<text x="369.30" y="233.60" font-size="17" font-weight="bold" text-anchor="start" ><tspan fill="#000" font-style="italic">mms2</tspan></text>
<text x="423.10" y="233.60" font-size="17" font-weight="bold" text-anchor="start" ><tspan fill="#17aeea" font-style="italic">rad51-ED</tspan></text>
<text transform="translate(346.9,326.2) rotate(-90)" font-size="8.9" font-weight="bold" text-anchor="middle"><tspan x="0" y="0">Normalized % Survival</tspan><tspan x="0" y="11.3">(# colonies on MMS/# colonies on YPD)</tspan></text>
<path d="M384.80 250.00V405.80H573.80" fill="none" stroke="#000" stroke-width="1.7"/>
<text x="380.30" y="408.80" font-size="10.5" font-weight="bold" text-anchor="end" ><tspan fill="#000" font-style="normal">0</tspan></text>
<text x="380.30" y="393.10" font-size="10.5" font-weight="bold" text-anchor="end" ><tspan fill="#000" font-style="normal">10</tspan></text>
<text x="380.30" y="377.40" font-size="10.5" font-weight="bold" text-anchor="end" ><tspan fill="#000" font-style="normal">20</tspan></text>
<text x="380.30" y="361.70" font-size="10.5" font-weight="bold" text-anchor="end" ><tspan fill="#000" font-style="normal">30</tspan></text>
<text x="380.30" y="346.00" font-size="10.5" font-weight="bold" text-anchor="end" ><tspan fill="#000" font-style="normal">40</tspan></text>
<text x="380.30" y="330.30" font-size="10.5" font-weight="bold" text-anchor="end" ><tspan fill="#000" font-style="normal">50</tspan></text>
<text x="380.30" y="314.60" font-size="10.5" font-weight="bold" text-anchor="end" ><tspan fill="#000" font-style="normal">60</tspan></text>
<text x="380.30" y="298.90" font-size="10.5" font-weight="bold" text-anchor="end" ><tspan fill="#000" font-style="normal">70</tspan></text>
<text x="380.30" y="283.20" font-size="10.5" font-weight="bold" text-anchor="end" ><tspan fill="#000" font-style="normal">80</tspan></text>
<text x="380.30" y="267.50" font-size="10.5" font-weight="bold" text-anchor="end" ><tspan fill="#000" font-style="normal">90</tspan></text>
<text x="380.30" y="251.80" font-size="10.5" font-weight="bold" text-anchor="end" ><tspan fill="#000" font-style="normal">100</tspan></text>
<path d="M380.80 405.00H384.8M380.80 389.30H384.8M380.80 373.60H384.8M380.80 357.90H384.8M380.80 342.20H384.8M380.80 326.50H384.8M380.80 310.80H384.8M380.80 295.10H384.8M380.80 279.40H384.8M380.80 263.70H384.8M380.80 248.00H384.8M384.80 405.0V409.00M431.80 405.0V409.00M478.80 405.0V409.00M525.80 405.0V409.00M572.80 405.0V409.00" stroke="#000" stroke-width="1.5"/>
<text x="384.80" y="419.50" font-size="10.5" font-weight="bold" text-anchor="middle" ><tspan fill="#000" font-style="normal">0.000</tspan></text>
<text x="431.80" y="419.50" font-size="10.5" font-weight="bold" text-anchor="middle" ><tspan fill="#000" font-style="normal">0.0025</tspan></text>
<text x="478.80" y="419.50" font-size="10.5" font-weight="bold" text-anchor="middle" ><tspan fill="#000" font-style="normal">0.005</tspan></text>
<text x="525.80" y="419.50" font-size="10.5" font-weight="bold" text-anchor="middle" ><tspan fill="#000" font-style="normal">0.0075</tspan></text>
<text x="572.80" y="419.50" font-size="10.5" font-weight="bold" text-anchor="middle" ><tspan fill="#000" font-style="normal">0.010</tspan></text>
<text x="599.50" y="419.50" font-size="10.5" font-weight="bold" text-anchor="middle" ><tspan fill="#000" font-style="normal">0.02</tspan></text>
<text x="652.90" y="419.50" font-size="10.5" font-weight="bold" text-anchor="middle" ><tspan fill="#000" font-style="normal">0.03</tspan></text>
<path d="M599.50 405.50H652.90" stroke="#000" stroke-width="1.6"/>
<rect x="625.60" y="406.00" width="1.3" height="1.6" fill="#000"/>
<text x="500.00" y="435.00" font-size="11" font-weight="bold" text-anchor="start" ><tspan fill="#000" font-style="normal">MMS %</tspan></text>
<path d="M384.80 248.00L431.80 269.98L478.80 346.12L525.80 401.86L572.80 404.21" fill="none" stroke="#9494f8" stroke-width="0.8"/>
<path d="M431.80 266.84V273.12M428.80 266.84H434.80M428.80 273.12H434.80" stroke="#9494f8" stroke-width="1.2" fill="none"/>
<circle cx="384.80" cy="248.00" r="3.60" fill="#9494f8"/>
<circle cx="431.80" cy="269.98" r="3.60" fill="#9494f8"/>
<circle cx="478.80" cy="346.12" r="3.60" fill="#9494f8"/>
<circle cx="525.80" cy="401.86" r="3.60" fill="#9494f8"/>
<circle cx="572.80" cy="404.21" r="3.60" fill="#9494f8"/>
<path d="M384.80 248.00L431.80 280.97L478.80 348.48L525.80 402.64L572.80 404.21" fill="none" stroke="#5050f0" stroke-width="0.8"/>
<path d="M431.80 276.26V285.68M428.80 276.26H434.80M428.80 285.68H434.80" stroke="#5050f0" stroke-width="1.2" fill="none"/>
<path d="M384.80 251.80L388.60 244.96L381.00 244.96Z" fill="#5050f0"/>
<path d="M431.80 284.77L435.60 277.93L428.00 277.93Z" fill="#5050f0"/>
<path d="M478.80 352.28L482.60 345.44L475.00 345.44Z" fill="#5050f0"/>
<path d="M525.80 406.44L529.60 399.60L522.00 399.60Z" fill="#5050f0"/>
<path d="M572.80 408.01L576.60 401.17L569.00 401.17Z" fill="#5050f0"/>
<path d="M384.80 248.00L431.80 277.05L478.80 296.67L572.80 387.73" fill="none" stroke="#1515c8" stroke-width="1.0"/>
<path d="M599.50 405.00L652.90 405.00" fill="none" stroke="#06063c" stroke-width="1.7"/>
<path d="M431.80 270.76V283.32M428.80 270.76H434.80M428.80 283.32H434.80" stroke="#1515c8" stroke-width="1.2" fill="none"/>
<path d="M478.80 291.18V302.16M475.80 291.18H481.80M475.80 302.16H481.80" stroke="#1515c8" stroke-width="1.2" fill="none"/>
<path d="M384.80 244.20L388.60 251.04L381.00 251.04Z" fill="#1515c8"/>
<path d="M431.80 273.25L435.60 280.09L428.00 280.09Z" fill="#1515c8"/>
<path d="M478.80 292.87L482.60 299.71L475.00 299.71Z" fill="#1515c8"/>
<path d="M572.80 383.93L576.60 390.77L569.00 390.77Z" fill="#1515c8"/>
<path d="M599.50 401.20L603.30 408.04L595.70 408.04Z" fill="#1515c8"/>
<path d="M652.90 401.20L656.70 408.04L649.10 408.04Z" fill="#1515c8"/>
<path d="M384.80 248.00L431.80 251.93L478.80 260.56L525.80 278.30L572.80 293.69" fill="none" stroke="#222" stroke-width="0.8"/>
<path d="M599.50 360.73L652.90 404.21" fill="none" stroke="#222" stroke-width="0.8"/>
<path d="M478.80 255.85V265.27M475.80 255.85H481.80M475.80 265.27H481.80" stroke="#000" stroke-width="1.2" fill="none"/>
<path d="M599.50 355.23V366.22M596.50 355.23H602.50M596.50 366.22H602.50" stroke="#000" stroke-width="1.2" fill="none"/>
<path d="M384.80 244.60L388.20 248.00L384.80 251.40L381.40 248.00Z" fill="#000"/>
<path d="M431.80 248.53L435.20 251.93L431.80 255.33L428.40 251.93Z" fill="#000"/>
<path d="M478.80 257.16L482.20 260.56L478.80 263.96L475.40 260.56Z" fill="#000"/>
<path d="M525.80 274.90L529.20 278.30L525.80 281.70L522.40 278.30Z" fill="#000"/>
<path d="M572.80 290.29L576.20 293.69L572.80 297.09L569.40 293.69Z" fill="#000"/>
<path d="M599.50 357.33L602.90 360.73L599.50 364.13L596.10 360.73Z" fill="#000"/>
<path d="M652.90 400.81L656.30 404.21L652.90 407.61L649.50 404.21Z" fill="#000"/>
<path d="M384.80 248.00L431.80 254.28L478.80 260.09L525.80 255.38L572.80 264.33" fill="none" stroke="#3c8c3c" stroke-width="0.8"/>
<path d="M599.50 266.68L652.90 300.75" fill="none" stroke="#3c8c3c" stroke-width="0.8"/>
<path d="M431.80 251.14V257.42M428.80 251.14H434.80M428.80 257.42H434.80" stroke="#108a10" stroke-width="1.2" fill="none"/>
<path d="M478.80 255.38V264.80M475.80 255.38H481.80M475.80 264.80H481.80" stroke="#108a10" stroke-width="1.2" fill="none"/>
<path d="M652.90 293.53V307.97M649.90 293.53H655.90M649.90 307.97H655.90" stroke="#108a10" stroke-width="1.2" fill="none"/>
<rect x="381.50" y="244.70" width="6.60" height="6.60" fill="#108a10"/>
<rect x="428.50" y="250.98" width="6.60" height="6.60" fill="#108a10"/>
<rect x="475.50" y="256.79" width="6.60" height="6.60" fill="#108a10"/>
<rect x="522.50" y="252.08" width="6.60" height="6.60" fill="#108a10"/>
<rect x="569.50" y="261.03" width="6.60" height="6.60" fill="#108a10"/>
<rect x="596.20" y="263.38" width="6.60" height="6.60" fill="#108a10"/>
<rect x="649.60" y="297.45" width="6.60" height="6.60" fill="#108a10"/>
<path d="M392.70 344.50H403.70" stroke="#3c8c3c" stroke-width="0.9"/>
<rect x="394.90" y="341.20" width="6.60" height="6.60" fill="#108a10"/>
<text x="410.70" y="347.80" font-size="8.9" font-weight="normal" text-anchor="start" ><tspan fill="#000" font-style="normal">WT</tspan></text>
<path d="M392.70 357.95H403.70" stroke="#000" stroke-width="0.9"/>
<path d="M398.20 354.55L401.60 357.95L398.20 361.35L394.80 357.95Z" fill="#000"/>
<text x="410.70" y="361.25" font-size="8.9" font-weight="normal" text-anchor="start" ><tspan fill="#000" font-style="italic">mms2<tspan dx="0.084em" font-family="Liberation Serif">Δ</tspan></tspan></text>
<path d="M392.70 371.40H403.70" stroke="#1515c8" stroke-width="0.9"/>
<path d="M398.20 367.60L402.00 374.44L394.40 374.44Z" fill="#1515c8"/>
<text x="410.70" y="374.70" font-size="8.9" font-weight="normal" text-anchor="start" ><tspan fill="#17aeea" font-style="italic">rad51-ED</tspan></text>
<path d="M392.70 384.85H403.70" stroke="#5050f0" stroke-width="0.9"/>
<path d="M398.20 388.65L402.00 381.81L394.40 381.81Z" fill="#5050f0"/>
<text x="410.70" y="388.15" font-size="8.9" font-weight="normal" text-anchor="start" ><tspan fill="#17aeea" font-style="italic">rad51-ED</tspan><tspan fill="#000" font-style="italic"> mms2<tspan dx="0.084em" font-family="Liberation Serif">Δ</tspan></tspan></text>
<path d="M392.70 398.30H403.70" stroke="#9494f8" stroke-width="0.9"/>
<circle cx="398.20" cy="398.30" r="3.60" fill="#9494f8"/>
<text x="410.70" y="401.60" font-size="8.9" font-weight="normal" text-anchor="start" ><tspan fill="#17aeea" font-style="italic">rad51-ED</tspan><tspan fill="#000" font-style="italic"> rad54<tspan dx="0.084em" font-family="Liberation Serif">Δ</tspan> mms2<tspan dx="0.084em" font-family="Liberation Serif">Δ</tspan></tspan></text>
<text x="2.50" y="459.40" font-size="17" font-weight="bold" text-anchor="start" ><tspan fill="#000" font-style="normal">E.</tspan></text>
<text x="27.80" y="459.40" font-size="17" font-weight="bold" text-anchor="start" ><tspan fill="#000" font-style="italic">mms2</tspan></text>
<text x="81.40" y="459.40" font-size="17" font-weight="bold" text-anchor="start" ><tspan fill="#f40f0f" font-style="italic">rad51-KN</tspan></text>
<text transform="translate(7.8,553.4) rotate(-90)" font-size="8.9" font-weight="bold" text-anchor="middle"><tspan x="0" y="0">Normalized % Survival</tspan><tspan x="0" y="10.8">(# colonies on MMS/# colonies on YPD)</tspan></text>
<path d="M46.00 476.90V633.30H237.00" fill="none" stroke="#000" stroke-width="1.7"/>
<text x="41.50" y="636.30" font-size="10.5" font-weight="bold" text-anchor="end" ><tspan fill="#000" font-style="normal">0</tspan></text>
<text x="41.50" y="620.54" font-size="10.5" font-weight="bold" text-anchor="end" ><tspan fill="#000" font-style="normal">10</tspan></text>
<text x="41.50" y="604.78" font-size="10.5" font-weight="bold" text-anchor="end" ><tspan fill="#000" font-style="normal">20</tspan></text>
<text x="41.50" y="589.02" font-size="10.5" font-weight="bold" text-anchor="end" ><tspan fill="#000" font-style="normal">30</tspan></text>
<text x="41.50" y="573.26" font-size="10.5" font-weight="bold" text-anchor="end" ><tspan fill="#000" font-style="normal">40</tspan></text>
<text x="41.50" y="557.50" font-size="10.5" font-weight="bold" text-anchor="end" ><tspan fill="#000" font-style="normal">50</tspan></text>
<text x="41.50" y="541.74" font-size="10.5" font-weight="bold" text-anchor="end" ><tspan fill="#000" font-style="normal">60</tspan></text>
<text x="41.50" y="525.98" font-size="10.5" font-weight="bold" text-anchor="end" ><tspan fill="#000" font-style="normal">70</tspan></text>
<text x="41.50" y="510.22" font-size="10.5" font-weight="bold" text-anchor="end" ><tspan fill="#000" font-style="normal">80</tspan></text>
<text x="41.50" y="494.46" font-size="10.5" font-weight="bold" text-anchor="end" ><tspan fill="#000" font-style="normal">90</tspan></text>
<text x="41.50" y="478.70" font-size="10.5" font-weight="bold" text-anchor="end" ><tspan fill="#000" font-style="normal">100</tspan></text>
<path d="M42.00 632.50H46.0M42.00 616.74H46.0M42.00 600.98H46.0M42.00 585.22H46.0M42.00 569.46H46.0M42.00 553.70H46.0M42.00 537.94H46.0M42.00 522.18H46.0M42.00 506.42H46.0M42.00 490.66H46.0M42.00 474.90H46.0M46.00 632.5V636.50M93.50 632.5V636.50M141.00 632.5V636.50M188.50 632.5V636.50M236.00 632.5V636.50" stroke="#000" stroke-width="1.5"/>
<text x="46.00" y="647.70" font-size="10.5" font-weight="bold" text-anchor="middle" ><tspan fill="#000" font-style="normal">0.000</tspan></text>
<text x="93.50" y="647.70" font-size="10.5" font-weight="bold" text-anchor="middle" ><tspan fill="#000" font-style="normal">0.0025</tspan></text>
<text x="141.00" y="647.70" font-size="10.5" font-weight="bold" text-anchor="middle" ><tspan fill="#000" font-style="normal">0.005</tspan></text>
<text x="188.50" y="647.70" font-size="10.5" font-weight="bold" text-anchor="middle" ><tspan fill="#000" font-style="normal">0.0075</tspan></text>
<text x="236.00" y="647.70" font-size="10.5" font-weight="bold" text-anchor="middle" ><tspan fill="#000" font-style="normal">0.010</tspan></text>
<text x="262.20" y="647.70" font-size="10.5" font-weight="bold" text-anchor="middle" ><tspan fill="#000" font-style="normal">0.02</tspan></text>
<text x="315.60" y="647.70" font-size="10.5" font-weight="bold" text-anchor="middle" ><tspan fill="#000" font-style="normal">0.03</tspan></text>
<path d="M262.20 633.00H315.60" stroke="#000" stroke-width="1.6"/>
<rect x="288.30" y="633.50" width="1.3" height="1.6" fill="#000"/>
<text x="162.60" y="663.20" font-size="11" font-weight="bold" text-anchor="start" ><tspan fill="#000" font-style="normal">MMS %</tspan></text>
<path d="M46.00 474.90L93.50 539.52L141.00 578.13L188.50 623.04L236.00 631.71" fill="none" stroke="#f08080" stroke-width="0.8"/>
<path d="M262.20 632.50L315.60 632.50" fill="none" stroke="#482626" stroke-width="1.7"/>
<circle cx="46.00" cy="474.90" r="3.60" fill="none" stroke="#f08080" stroke-width="1.0"/>
<circle cx="93.50" cy="539.52" r="3.60" fill="none" stroke="#f08080" stroke-width="1.0"/>
<circle cx="141.00" cy="578.13" r="3.60" fill="none" stroke="#f08080" stroke-width="1.0"/>
<circle cx="188.50" cy="623.04" r="3.60" fill="none" stroke="#f08080" stroke-width="1.0"/>
<circle cx="236.00" cy="631.71" r="3.60" fill="none" stroke="#f08080" stroke-width="1.0"/>
<circle cx="262.20" cy="632.50" r="3.60" fill="none" stroke="#f08080" stroke-width="1.0"/>
<circle cx="315.60" cy="632.50" r="3.60" fill="none" stroke="#f08080" stroke-width="1.0"/>
<path d="M46.00 474.90L93.50 479.63L141.00 528.48L188.50 593.89L236.00 631.71" fill="none" stroke="#f02020" stroke-width="0.8"/>
<path d="M262.20 632.50L315.60 632.50" fill="none" stroke="#480909" stroke-width="1.7"/>
<path d="M141.00 522.97V534.00M138.00 522.97H144.00M138.00 534.00H144.00" stroke="#f02020" stroke-width="1.2" fill="none"/>
<path d="M46.00 478.50L49.60 472.02L42.40 472.02Z" fill="none" stroke="#f02020" stroke-width="1.0"/>
<path d="M93.50 483.23L97.10 476.75L89.90 476.75Z" fill="none" stroke="#f02020" stroke-width="1.0"/>
<path d="M141.00 532.08L144.60 525.60L137.40 525.60Z" fill="none" stroke="#f02020" stroke-width="1.0"/>
<path d="M188.50 597.49L192.10 591.01L184.90 591.01Z" fill="none" stroke="#f02020" stroke-width="1.0"/>
<path d="M236.00 635.31L239.60 628.83L232.40 628.83Z" fill="none" stroke="#f02020" stroke-width="1.0"/>
<path d="M262.20 636.10L265.80 629.62L258.60 629.62Z" fill="none" stroke="#f02020" stroke-width="1.0"/>
<path d="M315.60 636.10L319.20 629.62L312.00 629.62Z" fill="none" stroke="#f02020" stroke-width="1.0"/>
<path d="M46.00 474.90L93.50 479.63L141.00 487.51L188.50 490.66L236.00 507.21" fill="none" stroke="#f02020" stroke-width="0.8"/>
<path d="M262.20 558.11L315.60 630.92" fill="none" stroke="#f02020" stroke-width="0.8"/>
<path d="M188.50 487.51V493.81M185.50 487.51H191.50M185.50 493.81H191.50" stroke="#f02020" stroke-width="1.2" fill="none"/>
<path d="M46.00 471.30L49.60 477.78L42.40 477.78Z" fill="none" stroke="#f02020" stroke-width="1.0"/>
<path d="M93.50 476.03L97.10 482.51L89.90 482.51Z" fill="none" stroke="#f02020" stroke-width="1.0"/>
<path d="M141.00 483.91L144.60 490.39L137.40 490.39Z" fill="none" stroke="#f02020" stroke-width="1.0"/>
<path d="M188.50 487.06L192.10 493.54L184.90 493.54Z" fill="none" stroke="#f02020" stroke-width="1.0"/>
<path d="M236.00 503.61L239.60 510.09L232.40 510.09Z" fill="none" stroke="#f02020" stroke-width="1.0"/>
<path d="M262.20 554.51L265.80 560.99L258.60 560.99Z" fill="none" stroke="#f02020" stroke-width="1.0"/>
<path d="M315.60 627.32L319.20 633.80L312.00 633.80Z" fill="none" stroke="#f02020" stroke-width="1.0"/>
<path d="M46.00 474.90L93.50 478.84L141.00 487.51L188.50 505.32L236.00 520.76" fill="none" stroke="#222" stroke-width="0.8"/>
<path d="M262.20 588.06L315.60 631.71" fill="none" stroke="#222" stroke-width="0.8"/>
<path d="M141.00 482.78V492.24M138.00 482.78H144.00M138.00 492.24H144.00" stroke="#000" stroke-width="1.2" fill="none"/>
<path d="M262.20 582.54V593.57M259.20 582.54H265.20M259.20 593.57H265.20" stroke="#000" stroke-width="1.2" fill="none"/>
<path d="M46.00 471.50L49.40 474.90L46.00 478.30L42.60 474.90Z" fill="#000"/>
<path d="M93.50 475.44L96.90 478.84L93.50 482.24L90.10 478.84Z" fill="#000"/>
<path d="M141.00 484.11L144.40 487.51L141.00 490.91L137.60 487.51Z" fill="#000"/>
<path d="M188.50 501.92L191.90 505.32L188.50 508.72L185.10 505.32Z" fill="#000"/>
<path d="M236.00 517.36L239.40 520.76L236.00 524.16L232.60 520.76Z" fill="#000"/>
<path d="M262.20 584.66L265.60 588.06L262.20 591.46L258.80 588.06Z" fill="#000"/>
<path d="M315.60 628.31L319.00 631.71L315.60 635.11L312.20 631.71Z" fill="#000"/>
<path d="M46.00 474.90L93.50 481.20L141.00 487.04L188.50 482.31L236.00 491.29" fill="none" stroke="#3c8c3c" stroke-width="0.8"/>
<path d="M262.20 493.65L315.60 527.85" fill="none" stroke="#3c8c3c" stroke-width="0.8"/>
<path d="M93.50 478.05V484.36M90.50 478.05H96.50M90.50 484.36H96.50" stroke="#108a10" stroke-width="1.2" fill="none"/>
<path d="M141.00 482.31V491.76M138.00 482.31H144.00M138.00 491.76H144.00" stroke="#108a10" stroke-width="1.2" fill="none"/>
<path d="M315.60 520.60V535.10M312.60 520.60H318.60M312.60 535.10H318.60" stroke="#108a10" stroke-width="1.2" fill="none"/>
<rect x="42.70" y="471.60" width="6.60" height="6.60" fill="#108a10"/>
<rect x="90.20" y="477.90" width="6.60" height="6.60" fill="#108a10"/>
<rect x="137.70" y="483.74" width="6.60" height="6.60" fill="#108a10"/>
<rect x="185.20" y="479.01" width="6.60" height="6.60" fill="#108a10"/>
<rect x="232.70" y="487.99" width="6.60" height="6.60" fill="#108a10"/>
<rect x="258.90" y="490.35" width="6.60" height="6.60" fill="#108a10"/>
<rect x="312.30" y="524.55" width="6.60" height="6.60" fill="#108a10"/>
<path d="M54.30 567.40H65.30" stroke="#3c8c3c" stroke-width="0.9"/>
<rect x="56.50" y="564.10" width="6.60" height="6.60" fill="#108a10"/>
<text x="72.30" y="570.70" font-size="8.9" font-weight="normal" text-anchor="start" ><tspan fill="#000" font-style="normal">WT</tspan></text>
<path d="M54.30 581.40H65.30" stroke="#000" stroke-width="0.9"/>
<path d="M59.80 578.00L63.20 581.40L59.80 584.80L56.40 581.40Z" fill="#000"/>
<text x="72.30" y="584.70" font-size="8.9" font-weight="normal" text-anchor="start" ><tspan fill="#000" font-style="italic">mms2<tspan dx="0.084em" font-family="Liberation Serif">Δ</tspan></tspan></text>
<path d="M54.30 595.40H65.30" stroke="#f02020" stroke-width="0.9"/>
<path d="M59.80 591.80L63.40 598.28L56.20 598.28Z" fill="none" stroke="#f02020" stroke-width="1.0"/>
<text x="72.30" y="598.70" font-size="8.9" font-weight="normal" text-anchor="start" ><tspan fill="#f02020" font-style="italic">rad51-KN</tspan></text>
<path d="M54.30 609.40H65.30" stroke="#f02020" stroke-width="0.9"/>
<path d="M59.80 613.00L63.40 606.52L56.20 606.52Z" fill="none" stroke="#f02020" stroke-width="1.0"/>
<text x="72.30" y="612.70" font-size="8.9" font-weight="normal" text-anchor="start" ><tspan fill="#f02020" font-style="italic">rad51-KN</tspan><tspan fill="#000" font-style="italic"> mms2<tspan dx="0.084em" font-family="Liberation Serif">Δ</tspan></tspan></text>
<path d="M54.30 623.40H65.30" stroke="#f08080" stroke-width="0.9"/>
<circle cx="59.80" cy="623.40" r="3.60" fill="none" stroke="#f08080" stroke-width="1.0"/>
<text x="72.30" y="626.70" font-size="8.9" font-weight="normal" text-anchor="start" ><tspan fill="#f02020" font-style="italic">rad51-KN</tspan><tspan fill="#000" font-style="italic"> rad54<tspan dx="0.084em" font-family="Liberation Serif">Δ</tspan> mms2<tspan dx="0.084em" font-family="Liberation Serif">Δ</tspan></tspan></text>
</svg>
</body></html>
